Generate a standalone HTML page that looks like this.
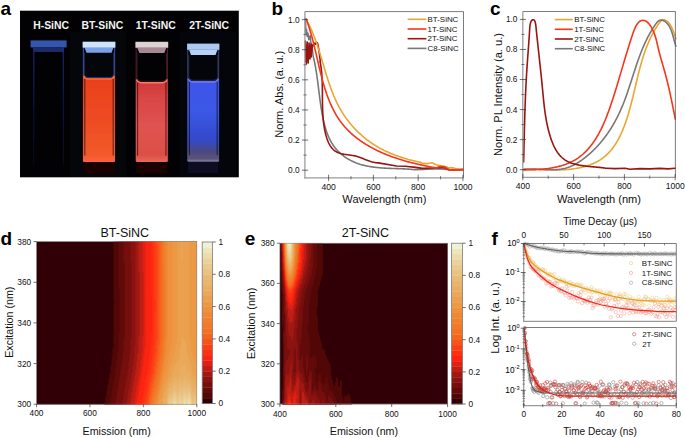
<!DOCTYPE html>
<html><head><meta charset="utf-8"><style>
html,body{margin:0;padding:0;background:#fff;}
svg{display:block;}
text{font-family:"Liberation Sans", sans-serif;}
</style></head><body>
<svg width="685" height="438" viewBox="0 0 685 438">
<rect width="685" height="438" fill="#fff"/>
<text x="0.50" y="15.30" font-size="19" font-weight="bold" fill="#000">a</text>
<text x="271.50" y="15.30" font-size="19" font-weight="bold" fill="#000">b</text>
<text x="490.00" y="15.30" font-size="19" font-weight="bold" fill="#000">c</text>
<text x="0.50" y="244.60" font-size="19" font-weight="bold" fill="#000">d</text>
<text x="244.80" y="244.60" font-size="19" font-weight="bold" fill="#000">e</text>
<text x="491.50" y="245.20" font-size="19" font-weight="bold" fill="#000">f</text>
<defs><linearGradient id="bt" x1="0" y1="0" x2="0" y2="1"><stop offset="0" stop-color="#e8401c"/><stop offset="0.5" stop-color="#ee4a22"/><stop offset="0.92" stop-color="#f25a2a"/><stop offset="1" stop-color="#ff6040"/></linearGradient><linearGradient id="t1" x1="0" y1="0" x2="0" y2="1"><stop offset="0" stop-color="#cc3434"/><stop offset="0.2" stop-color="#d84444"/><stop offset="0.55" stop-color="#e05252"/><stop offset="0.92" stop-color="#dc5048"/><stop offset="1" stop-color="#e86858"/></linearGradient><linearGradient id="t2" x1="0" y1="0" x2="0" y2="1"><stop offset="0" stop-color="#3e56ea"/><stop offset="0.4" stop-color="#3a58e6"/><stop offset="0.75" stop-color="#3448c8"/><stop offset="0.88" stop-color="#4a4880"/><stop offset="0.97" stop-color="#5a5478"/><stop offset="1" stop-color="#8a88a8"/></linearGradient><filter id="blur1" x="-20%" y="-20%" width="140%" height="140%"><feGaussianBlur stdDeviation="0.6"/></filter><filter id="glow" x="-50%" y="-50%" width="200%" height="200%"><feGaussianBlur stdDeviation="2.5"/></filter></defs>
<rect x="20" y="10.7" width="218.8" height="166.6" fill="#020204"/>
<rect x="70" y="32" width="56" height="145" fill="#05070c" opacity="0.8"/>
<rect x="180" y="32" width="56" height="145" fill="#05070e" opacity="0.7"/>
<g filter="url(#blur1)">
<rect x="30.6" y="40.4" width="36" height="7" fill="#3556b0"/>
<path d="M33,47.2 L64.5,47.2 L63,52 L34.5,52 Z" fill="#1a2a68"/>
<defs><linearGradient id="hw" x1="0" y1="0" x2="0" y2="1"><stop offset="0" stop-color="#22349a"/><stop offset="0.5" stop-color="#101a50"/><stop offset="1" stop-color="#080c20"/></linearGradient></defs>
<rect x="33.4" y="47" width="0.9" height="118" fill="url(#hw)"/><rect x="62.8" y="47" width="0.9" height="118" fill="url(#hw)"/>
<rect x="83.30" y="47.60" width="31.40" height="114.00" fill="none" stroke="#5060d0" stroke-width="0.8"/>
<path d="M84.50,47.60 L113.50,47.60 L111.50,52.80 L86.50,52.80 Z" fill="#7aa0e8"/>
<path d="M83.00,75.00 Q84.00,78.30 88.00,78.30 L110.00,78.30 Q114.00,78.30 115.00,75.00 L115.00,160.60 Q115.00,161.90 113.50,161.90 L84.50,161.90 Q83.00,161.90 83.00,160.60 Z" fill="url(#bt)"/>
<path d="M83.80,75.80 Q84.80,79.10 88.50,79.10 L109.50,79.10 Q113.20,79.10 114.20,75.80" fill="none" stroke="#ff6a3a" stroke-width="1.5"/>
<path d="M84.20,52.60 L84.20,74.00 Q84.50,77.50 88.00,77.50 L110.00,77.50 Q113.50,77.50 113.80,74.00 L113.80,52.60" fill="none" stroke="#3850b0" stroke-width="0.6"/>
<rect x="84.40" y="79.00" width="0.9" height="76.60" fill="#000" opacity="0.7"/>
<rect x="112.70" y="79.00" width="0.9" height="76.60" fill="#000" opacity="0.7"/>
<rect x="83.50" y="162.60" width="31.00" height="11" fill="#1e0604"/>
<rect x="82.60" y="41.70" width="32.80" height="5.90" fill="#cce4ff"/>
<rect x="136.10" y="47.70" width="31.40" height="113.90" fill="none" stroke="#6a2428" stroke-width="0.8"/>
<path d="M137.30,47.70 L166.30,47.70 L164.30,52.90 L139.30,52.90 Z" fill="#a88890"/>
<path d="M135.80,78.60 Q136.80,81.90 140.80,81.90 L162.80,81.90 Q166.80,81.90 167.80,78.60 L167.80,160.60 Q167.80,161.90 166.30,161.90 L137.30,161.90 Q135.80,161.90 135.80,160.60 Z" fill="url(#t1)"/>
<path d="M136.60,79.40 Q137.60,82.70 141.30,82.70 L162.30,82.70 Q166.00,82.70 167.00,79.40" fill="none" stroke="#ff7a6a" stroke-width="1.5"/>
<path d="M137.00,52.70 L137.00,77.60 Q137.30,81.10 140.80,81.10 L162.80,81.10 Q166.30,81.10 166.60,77.60 L166.60,52.70" fill="none" stroke="#5a2a38" stroke-width="0.6"/>
<rect x="137.20" y="82.60" width="0.9" height="73.00" fill="#000" opacity="0.7"/>
<rect x="165.50" y="82.60" width="0.9" height="73.00" fill="#000" opacity="0.7"/>
<rect x="136.30" y="162.60" width="31.00" height="11" fill="#1a0606"/>
<rect x="135.40" y="41.80" width="32.80" height="5.90" fill="#dcd2d4"/>
<rect x="187.80" y="49.80" width="30.90" height="111.40" fill="none" stroke="#484e80" stroke-width="0.8"/>
<path d="M189.00,49.80 L217.50,49.80 L215.50,55.00 L191.00,55.00 Z" fill="#b8d0f4"/>
<path d="M187.50,77.80 Q188.50,81.10 192.50,81.10 L214.00,81.10 Q218.00,81.10 219.00,77.80 L219.00,160.20 Q219.00,161.50 217.50,161.50 L189.00,161.50 Q187.50,161.50 187.50,160.20 Z" fill="url(#t2)"/>
<path d="M188.30,78.60 Q189.30,81.90 193.00,81.90 L213.50,81.90 Q217.20,81.90 218.20,78.60" fill="none" stroke="#7078ff" stroke-width="1.5"/>
<path d="M188.70,54.80 L188.70,76.80 Q189.00,80.30 192.50,80.30 L214.00,80.30 Q217.50,80.30 217.80,76.80 L217.80,54.80" fill="none" stroke="#404868" stroke-width="0.6"/>
<rect x="188.90" y="81.80" width="0.9" height="73.40" fill="#000" opacity="0.7"/>
<rect x="216.70" y="81.80" width="0.9" height="73.40" fill="#000" opacity="0.7"/>
<rect x="188.00" y="162.20" width="30.50" height="11" fill="#0c0c24"/>
<rect x="187.10" y="43.60" width="32.30" height="6.20" fill="#aacaf2"/>
</g>
<text x="33.20" y="28.50" font-size="10.4" font-weight="bold" fill="#f4f4f4">H-SiNC</text>
<text x="81.60" y="28.50" font-size="10.4" font-weight="bold" fill="#f4f4f4">BT-SiNC</text>
<text x="135.80" y="28.50" font-size="10.4" font-weight="bold" fill="#f4f4f4">1T-SiNC</text>
<text x="189.20" y="28.50" font-size="10.4" font-weight="bold" fill="#f4f4f4">2T-SiNC</text>
<path d="M305.20,18.20 L305.60,24.00 L305.70,34.00 L306.40,29.00 L307.20,36.50 L307.80,33.00 L308.40,35.90 L308.80,39.60 L309.50,36.80 L310.20,35.90 L310.70,41.40 L312.00,46.90 L313.00,55.00 L312.89,55.02 L313.09,55.82 L313.29,56.61 L313.48,57.40 L313.66,58.20 L313.84,58.99 L314.02,59.78 L314.20,60.57 L314.36,61.36 L314.53,62.15 L314.69,62.94 L314.85,63.73 L315.00,64.52 L315.16,65.30 L315.30,66.09 L315.45,66.88 L315.59,67.66 L315.73,68.45 L315.86,69.24 L315.99,70.02 L316.12,70.81 L316.25,71.59 L316.38,72.38 L316.50,73.16 L316.62,73.94 L316.74,74.73 L316.85,75.51 L316.97,76.30 L317.08,77.08 L317.19,77.87 L317.30,78.65 L317.40,79.44 L317.51,80.22 L317.61,81.00 L317.72,81.79 L317.82,82.58 L317.92,83.36 L318.02,84.15 L318.12,84.93 L318.22,85.72 L318.32,86.51 L318.42,87.30 L318.51,88.08 L318.61,88.87 L318.71,89.66 L318.81,90.45 L318.90,91.24 L319.00,92.03 L319.10,92.82 L319.20,93.62 L319.30,94.41 L319.40,95.20 L319.50,96.00 L319.60,96.79 L319.70,97.59 L319.81,98.39 L319.91,99.19 L320.02,99.99 L320.13,100.79 L320.23,101.59 L320.35,102.39 L320.46,103.19 L320.57,104.00 L320.69,104.80 L320.81,105.61 L320.93,106.42 L321.05,107.23 L321.18,108.04 L321.30,108.85 L321.43,109.67 L321.57,110.48 L321.70,111.30 L321.84,112.12 L321.99,112.93 L322.13,113.75 L322.28,114.57 L322.43,115.39 L322.59,116.21 L322.75,117.03 L322.92,117.85 L323.09,118.66 L323.26,119.48 L323.44,120.29 L323.62,121.11 L323.81,121.92 L324.01,122.73 L324.21,123.54 L324.41,124.34 L324.62,125.15 L324.84,125.95 L325.06,126.75 L325.29,127.54 L325.53,128.33 L325.77,129.12 L326.02,129.90 L326.27,130.68 L326.54,131.45 L326.81,132.23 L327.08,132.99 L327.37,133.75 L327.66,134.51 L327.96,135.26 L328.27,136.00 L328.59,136.74 L328.91,137.47 L329.25,138.20 L329.59,138.92 L329.94,139.63 L330.30,140.34 L330.67,141.03 L331.05,141.73 L331.44,142.41 L331.84,143.09 L332.25,143.75 L332.67,144.41 L333.09,145.06 L333.53,145.71 L333.98,146.34 L334.44,146.96 L334.91,147.58 L335.40,148.18 L335.89,148.78 L336.39,149.37 L336.90,149.94 L337.42,150.51 L337.96,151.07 L338.50,151.62 L339.05,152.16 L339.61,152.69 L340.18,153.21 L340.76,153.73 L341.34,154.23 L341.94,154.72 L342.54,155.21 L343.15,155.68 L343.77,156.15 L344.40,156.60 L345.04,157.05 L345.68,157.49 L346.34,157.91 L346.99,158.33 L347.66,158.74 L348.33,159.14 L349.01,159.53 L349.70,159.91 L350.39,160.28 L351.09,160.64 L351.80,160.99 L352.51,161.33 L353.23,161.66 L353.96,161.99 L354.69,162.30 L355.42,162.60 L356.16,162.90 L356.91,163.18 L357.66,163.45 L358.41,163.72 L359.17,163.97 L359.94,164.22 L360.71,164.45 L361.48,164.68 L362.26,164.90 L363.04,165.11 L363.83,165.31 L364.62,165.50 L365.41,165.68 L366.20,165.85 L367.00,166.02 L367.81,166.18 L368.61,166.33 L369.42,166.48 L370.23,166.61 L371.04,166.75 L371.86,166.87 L372.68,166.99 L373.50,167.10 L374.32,167.21 L375.14,167.31 L375.97,167.40 L376.80,167.49 L377.62,167.57 L378.45,167.65 L379.28,167.73 L380.11,167.80 L380.95,167.87 L381.78,167.93 L382.61,167.99 L383.45,168.04 L384.28,168.09 L385.11,168.14 L385.95,168.19 L386.78,168.23 L387.61,168.27 L388.45,168.31 L389.28,168.34 L390.11,168.38 L390.94,168.41 L391.77,168.44 L392.60,168.47 L393.42,168.50 L394.25,168.53 L395.07,168.55 L395.89,168.58 L396.71,168.61 L397.53,168.63 L398.35,168.66 L399.16,168.69 L399.97,168.72 L400.78,168.74 L401.58,168.77 L402.38,168.81 L403.18,168.84 L403.98,168.87 L404.77,168.91 L405.56,168.95 L406.34,168.99 L407.12,169.03 L407.90,169.08 L408.67,169.13 L409.44,169.18 L410.20,169.24 L410.96,169.30 L411.72,169.36 L412.47,169.43 L413.21,169.50 L413.95,169.58 L414.68,169.66 L414.80,169.60 L422.50,169.40 L440.00,168.80 L448.80,169.70 L462.80,169.70" fill="none" stroke="#787878" stroke-width="1.6" stroke-linejoin="round" stroke-linecap="round"/>
<path d="M305.40,41.00 L305.80,62.00 L306.10,45.00 L306.40,64.00 L306.70,48.00 L307.00,58.00 L307.30,42.00 L307.60,60.00 L307.90,47.00 L308.20,63.00 L308.50,50.00 L308.80,56.00 L309.10,43.00 L309.40,58.00 L309.70,46.00 L310.00,59.00 L310.30,49.00 L310.60,55.00 L310.90,44.00 L311.20,57.00 L311.50,48.00 L311.80,52.00 L312.10,45.00 L312.50,47.00 L313.20,45.00 L314.00,44.00 L314.80,43.10 L315.70,44.10 L316.60,42.30 L317.50,43.10 L318.20,46.00 L319.00,51.00 L320.30,61.40 L320.04,61.55 L320.20,62.32 L320.34,63.09 L320.49,63.87 L320.62,64.64 L320.75,65.42 L320.87,66.20 L320.99,66.98 L321.10,67.77 L321.20,68.55 L321.30,69.34 L321.39,70.13 L321.48,70.92 L321.56,71.71 L321.64,72.50 L321.71,73.30 L321.78,74.09 L321.84,74.89 L321.90,75.69 L321.95,76.49 L322.00,77.29 L322.05,78.09 L322.09,78.90 L322.13,79.70 L322.16,80.51 L322.19,81.32 L322.22,82.12 L322.25,82.93 L322.27,83.74 L322.29,84.55 L322.31,85.36 L322.33,86.18 L322.34,86.99 L322.36,87.80 L322.37,88.61 L322.38,89.43 L322.39,90.24 L322.39,91.06 L322.40,91.87 L322.41,92.69 L322.41,93.51 L322.41,94.32 L322.42,95.14 L322.42,95.96 L322.43,96.78 L322.43,97.59 L322.43,98.41 L322.44,99.23 L322.44,100.04 L322.45,100.86 L322.46,101.68 L322.47,102.50 L322.48,103.31 L322.49,104.13 L322.50,104.95 L322.52,105.76 L322.54,106.58 L322.56,107.39 L322.58,108.21 L322.60,109.02 L322.63,109.84 L322.66,110.65 L322.69,111.46 L322.73,112.27 L322.77,113.08 L322.82,113.89 L322.86,114.70 L322.91,115.51 L322.97,116.32 L323.03,117.12 L323.09,117.93 L323.16,118.73 L323.24,119.54 L323.32,120.34 L323.40,121.14 L323.49,121.94 L323.58,122.74 L323.68,123.54 L323.79,124.33 L323.90,125.13 L324.02,125.92 L324.15,126.71 L324.28,127.50 L324.42,128.29 L324.56,129.07 L324.71,129.86 L324.87,130.64 L325.04,131.42 L325.21,132.20 L325.39,132.98 L325.58,133.76 L325.78,134.53 L325.98,135.30 L326.20,136.07 L326.42,136.84 L326.65,137.60 L326.90,138.36 L327.15,139.11 L327.42,139.86 L327.69,140.60 L327.99,141.33 L328.29,142.04 L328.61,142.75 L328.95,143.45 L329.30,144.13 L329.67,144.80 L330.05,145.46 L330.46,146.10 L330.88,146.72 L331.33,147.32 L331.79,147.91 L332.28,148.47 L332.78,149.02 L333.31,149.54 L333.86,150.04 L334.44,150.52 L335.04,150.97 L335.67,151.39 L336.32,151.79 L337.00,152.16 L337.71,152.50 L338.45,152.81 L339.21,153.09 L340.00,153.35 L340.81,153.58 L341.65,153.79 L342.50,153.97 L343.36,154.14 L344.24,154.30 L345.13,154.44 L346.02,154.57 L346.93,154.70 L347.83,154.82 L348.73,154.93 L349.63,155.05 L350.52,155.17 L351.41,155.29 L352.29,155.43 L353.15,155.57 L354.00,155.72 L354.82,155.89 L355.63,156.07 L356.42,156.28 L357.19,156.49 L357.95,156.72 L358.69,156.96 L359.42,157.21 L360.14,157.47 L360.85,157.74 L361.55,158.01 L362.24,158.29 L362.93,158.57 L363.62,158.86 L364.31,159.14 L364.99,159.43 L365.68,159.71 L366.37,159.99 L367.07,160.27 L367.77,160.54 L368.49,160.80 L369.21,161.05 L369.94,161.30 L370.69,161.53 L371.45,161.76 L372.23,161.96 L373.03,162.16 L373.85,162.33 L374.69,162.49 L375.55,162.63 L376.43,162.75 L377.35,162.84 L378.29,162.92 L378.30,162.90 L396.50,166.00 L405.00,166.20 L413.80,167.10 L422.50,168.40 L431.30,168.00 L440.00,167.50 L445.30,168.00 L448.80,169.70 L462.80,169.70" fill="none" stroke="#9a1410" stroke-width="1.6" stroke-linejoin="round" stroke-linecap="round"/>
<path d="M305.93,18.90 L306.31,19.58 L306.70,20.26 L307.07,20.95 L307.45,21.64 L307.81,22.33 L308.18,23.03 L308.53,23.73 L308.89,24.43 L309.24,25.14 L309.58,25.85 L309.92,26.56 L310.26,27.27 L310.59,27.99 L310.91,28.71 L311.24,29.43 L311.56,30.16 L311.87,30.89 L312.18,31.61 L312.49,32.35 L312.80,33.08 L313.10,33.82 L313.39,34.56 L313.69,35.30 L313.98,36.04 L314.27,36.79 L314.55,37.54 L314.83,38.29 L315.11,39.04 L315.39,39.79 L315.66,40.54 L315.93,41.30 L316.20,42.06 L316.46,42.82 L316.73,43.58 L316.99,44.34 L317.25,45.11 L317.50,45.87 L317.76,46.64 L318.01,47.41 L318.26,48.18 L318.51,48.95 L318.76,49.72 L319.00,50.50 L319.25,51.27 L319.49,52.05 L319.73,52.82 L319.97,53.60 L320.21,54.38 L320.45,55.16 L320.69,55.93 L320.92,56.71 L321.16,57.50 L321.39,58.28 L321.63,59.06 L321.86,59.84 L322.09,60.62 L322.33,61.40 L322.56,62.19 L322.79,62.97 L323.02,63.75 L323.26,64.54 L323.49,65.32 L323.72,66.10 L323.96,66.89 L324.19,67.67 L324.42,68.45 L324.66,69.23 L324.89,70.02 L325.13,70.80 L325.36,71.58 L325.60,72.36 L325.84,73.14 L326.08,73.92 L326.32,74.70 L326.56,75.48 L326.81,76.26 L327.05,77.03 L327.30,77.81 L327.54,78.59 L327.79,79.36 L328.04,80.13 L328.30,80.91 L328.55,81.68 L328.81,82.45 L329.07,83.22 L329.33,83.98 L329.59,84.75 L329.86,85.52 L330.13,86.28 L330.40,87.04 L330.67,87.80 L330.95,88.56 L331.23,89.32 L331.51,90.07 L331.80,90.83 L332.08,91.58 L332.38,92.33 L332.67,93.08 L332.97,93.82 L333.27,94.57 L333.58,95.31 L333.88,96.05 L334.20,96.78 L334.51,97.52 L334.83,98.25 L335.16,98.98 L335.49,99.71 L335.82,100.44 L336.15,101.16 L336.49,101.88 L336.84,102.60 L337.19,103.31 L337.54,104.02 L337.90,104.73 L338.27,105.44 L338.64,106.14 L339.01,106.84 L339.39,107.54 L339.77,108.24 L340.16,108.93 L340.55,109.62 L340.95,110.30 L341.36,110.98 L341.77,111.66 L342.18,112.34 L342.60,113.01 L343.03,113.68 L343.46,114.34 L343.90,115.00 L344.34,115.66 L344.78,116.32 L345.23,116.97 L345.69,117.61 L346.15,118.26 L346.61,118.90 L347.08,119.54 L347.56,120.17 L348.04,120.80 L348.52,121.42 L349.01,122.05 L349.51,122.66 L350.01,123.28 L350.51,123.89 L351.02,124.50 L351.54,125.10 L352.05,125.70 L352.58,126.29 L353.10,126.88 L353.64,127.47 L354.17,128.05 L354.71,128.63 L355.26,129.21 L355.81,129.78 L356.37,130.34 L356.92,130.91 L357.49,131.46 L358.06,132.02 L358.63,132.57 L359.21,133.11 L359.79,133.65 L360.37,134.19 L360.96,134.72 L361.56,135.25 L362.15,135.77 L362.76,136.29 L363.36,136.81 L363.97,137.32 L364.59,137.82 L365.21,138.32 L365.83,138.82 L366.46,139.31 L367.09,139.80 L367.72,140.28 L368.36,140.76 L369.00,141.23 L369.65,141.70 L370.30,142.16 L370.96,142.62 L371.62,143.07 L372.28,143.52 L372.94,143.96 L373.61,144.40 L374.29,144.84 L374.97,145.26 L375.65,145.69 L376.33,146.11 L377.02,146.52 L377.71,146.93 L378.41,147.33 L379.11,147.73 L379.81,148.12 L380.52,148.51 L381.23,148.89 L381.94,149.27 L382.66,149.64 L383.38,150.00 L384.10,150.37 L384.83,150.72 L385.56,151.07 L386.29,151.42 L387.03,151.76 L387.76,152.10 L388.50,152.43 L389.25,152.76 L389.99,153.08 L390.74,153.40 L391.49,153.71 L392.25,154.02 L393.00,154.32 L393.76,154.62 L394.52,154.92 L395.28,155.21 L396.05,155.49 L396.81,155.77 L397.58,156.05 L398.35,156.32 L399.12,156.59 L399.89,156.85 L400.67,157.11 L401.45,157.37 L402.22,157.62 L403.00,157.86 L403.78,158.11 L404.56,158.34 L405.35,158.58 L406.13,158.81 L406.92,159.03 L407.70,159.26 L408.49,159.47 L409.28,159.69 L410.06,159.90 L410.85,160.10 L411.64,160.31 L412.43,160.51 L413.22,160.70 L414.01,160.89 L414.80,161.08 L415.59,161.26 L416.39,161.44 L417.18,161.62 L417.97,161.79 L418.76,161.96 L419.55,162.13 L420.34,162.29 L421.13,162.45 L420.80,163.10 L426.90,163.60 L429.00,163.20 L432.10,162.80 L435.00,164.20 L438.30,165.30 L441.00,165.80 L444.40,166.20 L446.00,166.80 L448.80,168.00 L451.00,167.60 L454.00,168.00 L456.00,168.90 L457.50,168.80 L460.00,169.20 L462.80,169.40" fill="none" stroke="#eaa630" stroke-width="1.6" stroke-linejoin="round" stroke-linecap="round"/>
<path d="M306.00,18.90 L306.28,19.62 L306.56,20.35 L306.84,21.08 L307.12,21.81 L307.39,22.54 L307.65,23.27 L307.91,24.01 L308.17,24.75 L308.43,25.48 L308.68,26.23 L308.93,26.97 L309.17,27.71 L309.41,28.46 L309.65,29.21 L309.89,29.96 L310.12,30.71 L310.35,31.46 L310.58,32.22 L310.80,32.98 L311.02,33.73 L311.24,34.49 L311.46,35.26 L311.67,36.02 L311.88,36.78 L312.09,37.55 L312.30,38.31 L312.50,39.08 L312.70,39.85 L312.90,40.62 L313.10,41.39 L313.30,42.17 L313.50,42.94 L313.69,43.72 L313.88,44.49 L314.08,45.27 L314.27,46.05 L314.45,46.83 L314.64,47.61 L314.83,48.39 L315.01,49.17 L315.20,49.96 L315.38,50.74 L315.57,51.53 L315.75,52.31 L315.93,53.10 L316.11,53.89 L316.30,54.68 L316.48,55.46 L316.66,56.25 L316.84,57.04 L317.02,57.83 L317.20,58.63 L317.38,59.42 L317.56,60.21 L317.74,61.00 L317.93,61.80 L318.11,62.59 L318.29,63.38 L318.48,64.18 L318.66,64.97 L318.85,65.77 L319.03,66.56 L319.22,67.36 L319.41,68.15 L319.60,68.95 L319.79,69.74 L319.98,70.54 L320.17,71.34 L320.37,72.13 L320.57,72.93 L320.76,73.72 L320.96,74.52 L321.17,75.31 L321.37,76.11 L321.58,76.91 L321.79,77.70 L322.00,78.49 L322.21,79.29 L322.42,80.08 L322.64,80.87 L322.86,81.67 L323.08,82.46 L323.31,83.25 L323.53,84.04 L323.76,84.83 L323.99,85.61 L324.23,86.40 L324.47,87.18 L324.71,87.97 L324.95,88.75 L325.20,89.53 L325.45,90.31 L325.71,91.08 L325.96,91.86 L326.22,92.63 L326.49,93.40 L326.75,94.17 L327.03,94.94 L327.30,95.70 L327.58,96.47 L327.86,97.23 L328.15,97.98 L328.44,98.74 L328.73,99.49 L329.03,100.24 L329.33,100.99 L329.64,101.73 L329.95,102.48 L330.26,103.21 L330.58,103.95 L330.91,104.68 L331.24,105.41 L331.57,106.14 L331.91,106.86 L332.25,107.58 L332.60,108.30 L332.95,109.01 L333.31,109.72 L333.67,110.42 L334.04,111.12 L334.41,111.82 L334.79,112.51 L335.17,113.20 L335.56,113.89 L335.96,114.57 L336.36,115.24 L336.76,115.92 L337.17,116.58 L337.59,117.25 L338.01,117.90 L338.44,118.56 L338.88,119.21 L339.32,119.85 L339.76,120.49 L340.22,121.12 L340.68,121.75 L341.14,122.37 L341.61,122.99 L342.09,123.61 L342.58,124.21 L343.07,124.82 L343.56,125.41 L344.07,126.01 L344.57,126.60 L345.09,127.18 L345.61,127.76 L346.13,128.33 L346.66,128.90 L347.20,129.46 L347.74,130.02 L348.29,130.57 L348.84,131.12 L349.40,131.66 L349.97,132.20 L350.53,132.73 L351.11,133.26 L351.69,133.79 L352.27,134.30 L352.86,134.82 L353.46,135.33 L354.05,135.83 L354.66,136.33 L355.27,136.83 L355.88,137.32 L356.50,137.81 L357.12,138.29 L357.75,138.77 L358.38,139.24 L359.01,139.71 L359.65,140.17 L360.30,140.63 L360.95,141.08 L361.60,141.53 L362.26,141.98 L362.92,142.42 L363.58,142.86 L364.25,143.29 L364.92,143.72 L365.60,144.14 L366.28,144.56 L366.96,144.98 L367.65,145.39 L368.34,145.80 L369.03,146.20 L369.73,146.60 L370.43,146.99 L371.13,147.38 L371.84,147.77 L372.55,148.15 L373.26,148.53 L373.98,148.90 L374.70,149.27 L375.42,149.64 L376.14,150.00 L376.87,150.36 L377.60,150.71 L378.33,151.06 L379.07,151.41 L379.81,151.75 L380.55,152.09 L381.29,152.42 L382.04,152.75 L382.78,153.08 L383.53,153.40 L384.28,153.72 L385.04,154.04 L385.79,154.35 L386.55,154.66 L387.31,154.96 L388.07,155.26 L388.84,155.56 L389.60,155.85 L390.37,156.14 L391.14,156.43 L391.91,156.71 L392.68,156.99 L393.45,157.26 L394.22,157.54 L395.00,157.80 L395.78,158.07 L396.55,158.33 L397.33,158.59 L398.11,158.84 L398.89,159.10 L399.68,159.34 L400.46,159.59 L401.24,159.83 L402.03,160.07 L402.81,160.30 L403.60,160.53 L404.38,160.76 L405.17,160.99 L405.96,161.21 L406.74,161.43 L407.53,161.64 L408.32,161.86 L409.11,162.07 L409.89,162.27 L410.68,162.48 L411.47,162.68 L412.26,162.88 L413.05,163.07 L413.83,163.26 L414.62,163.45 L415.41,163.64 L416.19,163.83 L416.98,164.01 L417.76,164.19 L418.55,164.37 L419.33,164.54 L420.12,164.71 L420.90,164.88 L421.68,165.05 L422.46,165.22 L423.24,165.38 L424.02,165.54 L424.80,165.70 L425.58,165.86 L426.35,166.01 L427.12,166.17 L427.90,166.32 L428.67,166.47 L429.44,166.62 L430.21,166.76 L430.97,166.91 L431.74,167.05 L432.50,167.19 L433.26,167.33 L434.02,167.47 L434.78,167.60 L435.53,167.74 L435.60,168.00 L440.00,166.60 L444.40,166.80 L448.80,169.50 L454.00,170.00 L462.80,169.40" fill="none" stroke="#f5361a" stroke-width="1.6" stroke-linejoin="round" stroke-linecap="round"/>
<line x1="304.90" y1="11.60" x2="463.50" y2="11.60" stroke="#5a5a5a" stroke-width="0.8"/>
<line x1="463.50" y1="11.60" x2="463.50" y2="177.90" stroke="#5a5a5a" stroke-width="0.8"/>
<line x1="304.90" y1="11.60" x2="304.90" y2="178.50" stroke="#9a9a9a" stroke-width="1.25"/>
<line x1="304.30" y1="177.90" x2="463.50" y2="177.90" stroke="#9a9a9a" stroke-width="1.25"/>
<line x1="301.90" y1="170.20" x2="308.10" y2="170.20" stroke="#333" stroke-width="0.7"/>
<text x="299.60" y="173.15" font-size="8.3" text-anchor="end" fill="#111">0.0</text>
<line x1="301.90" y1="140.08" x2="308.10" y2="140.08" stroke="#333" stroke-width="0.7"/>
<text x="299.60" y="143.03" font-size="8.3" text-anchor="end" fill="#111">0.2</text>
<line x1="301.90" y1="109.96" x2="308.10" y2="109.96" stroke="#333" stroke-width="0.7"/>
<text x="299.60" y="112.91" font-size="8.3" text-anchor="end" fill="#111">0.4</text>
<line x1="301.90" y1="79.84" x2="308.10" y2="79.84" stroke="#333" stroke-width="0.7"/>
<text x="299.60" y="82.79" font-size="8.3" text-anchor="end" fill="#111">0.6</text>
<line x1="301.90" y1="49.72" x2="308.10" y2="49.72" stroke="#333" stroke-width="0.7"/>
<text x="299.60" y="52.67" font-size="8.3" text-anchor="end" fill="#111">0.8</text>
<line x1="301.90" y1="19.60" x2="308.10" y2="19.60" stroke="#333" stroke-width="0.7"/>
<text x="299.60" y="22.55" font-size="8.3" text-anchor="end" fill="#111">1.0</text>
<line x1="303.40" y1="155.14" x2="306.70" y2="155.14" stroke="#333" stroke-width="0.6"/>
<line x1="303.40" y1="125.02" x2="306.70" y2="125.02" stroke="#333" stroke-width="0.6"/>
<line x1="303.40" y1="94.90" x2="306.70" y2="94.90" stroke="#333" stroke-width="0.6"/>
<line x1="303.40" y1="64.78" x2="306.70" y2="64.78" stroke="#333" stroke-width="0.6"/>
<line x1="303.40" y1="34.66" x2="306.70" y2="34.66" stroke="#333" stroke-width="0.6"/>
<line x1="328.60" y1="174.70" x2="328.60" y2="180.90" stroke="#333" stroke-width="0.7"/>
<text x="328.60" y="190.20" font-size="8.6" text-anchor="middle" fill="#111">400</text>
<line x1="373.38" y1="174.70" x2="373.38" y2="180.90" stroke="#333" stroke-width="0.7"/>
<text x="373.38" y="190.20" font-size="8.6" text-anchor="middle" fill="#111">600</text>
<line x1="418.16" y1="174.70" x2="418.16" y2="180.90" stroke="#333" stroke-width="0.7"/>
<text x="418.16" y="190.20" font-size="8.6" text-anchor="middle" fill="#111">800</text>
<line x1="462.94" y1="174.70" x2="462.94" y2="180.90" stroke="#333" stroke-width="0.7"/>
<text x="462.94" y="190.20" font-size="8.6" text-anchor="middle" fill="#111">1000</text>
<line x1="350.99" y1="176.10" x2="350.99" y2="179.40" stroke="#333" stroke-width="0.6"/>
<line x1="395.77" y1="176.10" x2="395.77" y2="179.40" stroke="#333" stroke-width="0.6"/>
<line x1="440.55" y1="176.10" x2="440.55" y2="179.40" stroke="#333" stroke-width="0.6"/>
<text x="384.40" y="202.80" font-size="11.1" text-anchor="middle" fill="#111">Wavelength (nm)</text>
<text x="283.40" y="94.30" font-size="11.1" text-anchor="middle" fill="#111" transform="rotate(-90 283.40 94.30)">Norm. Abs. (a. u.)</text>
<line x1="407.60" y1="19.30" x2="426.40" y2="19.30" stroke="#eaa630" stroke-width="1.6"/>
<text x="427.60" y="22.05" font-size="7.9" fill="#111">BT-SiNC</text>
<line x1="407.60" y1="29.00" x2="426.40" y2="29.00" stroke="#f5361a" stroke-width="1.6"/>
<text x="427.60" y="31.75" font-size="7.9" fill="#111">1T-SiNC</text>
<line x1="407.60" y1="38.70" x2="426.40" y2="38.70" stroke="#9a1410" stroke-width="1.6"/>
<text x="427.60" y="41.45" font-size="7.9" fill="#111">2T-SiNC</text>
<line x1="407.60" y1="48.40" x2="426.40" y2="48.40" stroke="#787878" stroke-width="1.6"/>
<text x="427.60" y="51.15" font-size="7.9" fill="#111">C8-SiNC</text>
<path d="M522.79,169.69 L523.62,169.64 L524.46,169.61 L525.29,169.57 L526.12,169.54 L526.95,169.52 L527.77,169.49 L528.60,169.48 L529.42,169.46 L530.24,169.45 L531.05,169.45 L531.87,169.44 L532.68,169.44 L533.49,169.45 L534.30,169.45 L535.11,169.46 L535.92,169.47 L536.72,169.48 L537.53,169.50 L538.33,169.51 L539.13,169.53 L539.93,169.55 L540.72,169.57 L541.52,169.59 L542.32,169.61 L543.11,169.63 L543.90,169.65 L544.70,169.67 L545.49,169.69 L546.28,169.72 L547.07,169.74 L547.86,169.76 L548.64,169.78 L549.43,169.80 L550.22,169.81 L551.00,169.83 L551.79,169.84 L552.58,169.86 L553.36,169.87 L554.15,169.87 L554.93,169.88 L555.71,169.88 L556.50,169.88 L557.28,169.88 L558.07,169.88 L558.85,169.87 L559.64,169.85 L560.42,169.84 L561.21,169.82 L561.99,169.79 L562.78,169.76 L563.56,169.73 L564.35,169.69 L565.14,169.65 L565.93,169.60 L566.71,169.55 L567.50,169.49 L568.29,169.43 L569.08,169.36 L569.88,169.28 L570.67,169.20 L571.46,169.11 L572.26,169.01 L573.05,168.91 L573.85,168.80 L574.65,168.68 L575.45,168.56 L576.25,168.43 L577.05,168.29 L577.86,168.14 L578.66,167.98 L579.47,167.82 L580.28,167.65 L581.08,167.46 L581.89,167.27 L582.70,167.08 L583.51,166.87 L584.31,166.65 L585.11,166.43 L585.92,166.19 L586.71,165.95 L587.51,165.70 L588.30,165.44 L589.09,165.17 L589.87,164.89 L590.65,164.60 L591.42,164.30 L592.19,163.99 L592.95,163.67 L593.70,163.34 L594.44,163.00 L595.18,162.65 L595.91,162.29 L596.63,161.92 L597.35,161.54 L598.05,161.15 L598.74,160.74 L599.42,160.33 L600.10,159.91 L600.76,159.48 L601.41,159.03 L602.05,158.58 L602.69,158.12 L603.31,157.65 L603.93,157.16 L604.53,156.67 L605.13,156.17 L605.71,155.66 L606.29,155.14 L606.86,154.62 L607.42,154.08 L607.97,153.53 L608.51,152.98 L609.04,152.42 L609.57,151.85 L610.09,151.27 L610.60,150.69 L611.10,150.10 L611.59,149.50 L612.07,148.89 L612.55,148.28 L613.02,147.66 L613.48,147.03 L613.94,146.39 L614.39,145.75 L614.83,145.10 L615.26,144.45 L615.69,143.79 L616.11,143.13 L616.52,142.45 L616.92,141.78 L617.32,141.09 L617.72,140.41 L618.10,139.71 L618.48,139.02 L618.86,138.31 L619.23,137.61 L619.59,136.89 L619.95,136.18 L620.30,135.46 L620.64,134.73 L620.98,134.00 L621.32,133.27 L621.65,132.54 L621.97,131.80 L622.29,131.05 L622.61,130.31 L622.92,129.56 L623.22,128.81 L623.52,128.05 L623.82,127.29 L624.11,126.53 L624.40,125.77 L624.68,125.01 L624.96,124.24 L625.23,123.48 L625.50,122.71 L625.77,121.94 L626.04,121.16 L626.30,120.39 L626.55,119.62 L626.81,118.84 L627.06,118.06 L627.31,117.29 L627.55,116.51 L627.79,115.73 L628.03,114.95 L628.27,114.17 L628.50,113.39 L628.73,112.61 L628.96,111.82 L629.18,111.04 L629.41,110.26 L629.63,109.47 L629.85,108.69 L630.06,107.90 L630.28,107.11 L630.49,106.33 L630.70,105.54 L630.91,104.75 L631.11,103.96 L631.32,103.18 L631.52,102.39 L631.72,101.60 L631.92,100.81 L632.12,100.02 L632.32,99.23 L632.51,98.44 L632.71,97.65 L632.90,96.86 L633.09,96.07 L633.28,95.28 L633.47,94.49 L633.66,93.70 L633.85,92.91 L634.04,92.12 L634.23,91.33 L634.41,90.54 L634.60,89.75 L634.79,88.96 L634.97,88.17 L635.16,87.38 L635.35,86.59 L635.53,85.80 L635.72,85.01 L635.90,84.22 L636.09,83.44 L636.27,82.65 L636.46,81.86 L636.65,81.07 L636.84,80.29 L637.02,79.50 L637.21,78.72 L637.40,77.93 L637.59,77.15 L637.78,76.37 L637.98,75.58 L638.17,74.80 L638.36,74.02 L638.56,73.24 L638.76,72.46 L638.95,71.68 L639.15,70.91 L639.35,70.13 L639.56,69.35 L639.76,68.58 L639.97,67.80 L640.17,67.03 L640.38,66.26 L640.60,65.49 L640.81,64.72 L641.02,63.95 L641.24,63.18 L641.46,62.42 L641.69,61.65 L641.91,60.89 L642.14,60.12 L642.37,59.36 L642.60,58.60 L642.84,57.84 L643.07,57.09 L643.32,56.33 L643.56,55.58 L643.81,54.82 L644.06,54.07 L644.31,53.32 L644.57,52.57 L644.83,51.83 L645.09,51.08 L645.36,50.34 L645.63,49.59 L645.90,48.85 L646.18,48.12 L646.46,47.38 L646.75,46.64 L647.04,45.91 L647.33,45.18 L647.63,44.45 L647.93,43.72 L648.24,43.00 L648.55,42.27 L648.86,41.55 L649.18,40.83 L649.51,40.12 L649.84,39.40 L650.17,38.69 L650.51,37.98 L650.85,37.27 L651.20,36.56 L651.55,35.86 L651.91,35.16 L652.27,34.46 L652.64,33.76 L653.02,33.06 L653.40,32.37 L653.78,31.68 L654.17,30.99 L654.57,30.31 L654.97,29.62 L655.38,28.94 L655.79,28.27 L656.21,27.59 L656.64,26.92 L657.07,26.25 L657.51,25.58 L657.95,24.92 L658.41,24.25 L658.86,23.60 L659.33,22.94 L659.80,22.29 L660.28,21.67 L660.78,21.10 L661.30,20.59 L661.85,20.17 L662.43,19.87 L663.05,19.69 L663.70,19.67 L664.38,19.77 L665.08,20.01 L665.79,20.35 L666.50,20.79 L667.20,21.31 L667.87,21.91 L668.51,22.56 L669.11,23.26 L669.68,24.00 L670.21,24.77 L670.70,25.58 L671.17,26.41 L671.60,27.26 L672.01,28.12 L672.39,28.99 L672.75,29.86 L673.08,30.73 L673.40,31.60 L673.70,32.45 L673.98,33.28 L674.26,34.09 L674.52,34.87 L674.77,35.62 L675.01,36.33 L675.25,36.99 L675.49,37.60 L675.73,38.16 L675.96,38.66" fill="none" stroke="#eaa630" stroke-width="1.6" stroke-linejoin="round" stroke-linecap="round"/>
<path d="M522.83,169.65 L523.58,169.54 L524.33,169.44 L525.09,169.36 L525.85,169.28 L526.62,169.22 L527.40,169.17 L528.18,169.13 L528.96,169.10 L529.75,169.08 L530.55,169.07 L531.34,169.06 L532.14,169.06 L532.95,169.07 L533.76,169.08 L534.57,169.10 L535.38,169.13 L536.19,169.16 L537.01,169.19 L537.83,169.23 L538.66,169.26 L539.48,169.30 L540.31,169.35 L541.13,169.39 L541.96,169.43 L542.79,169.47 L543.62,169.52 L544.45,169.56 L545.28,169.60 L546.11,169.63 L546.94,169.66 L547.77,169.69 L548.60,169.72 L549.43,169.74 L550.26,169.75 L551.08,169.76 L551.91,169.76 L552.73,169.76 L553.55,169.74 L554.37,169.72 L555.19,169.69 L556.00,169.65 L556.81,169.60 L557.62,169.54 L558.43,169.46 L559.23,169.38 L560.02,169.28 L560.82,169.17 L561.61,169.05 L562.39,168.91 L563.17,168.76 L563.95,168.59 L564.72,168.41 L565.49,168.21 L566.25,167.99 L567.00,167.76 L567.75,167.52 L568.50,167.26 L569.24,166.98 L569.98,166.70 L570.71,166.40 L571.43,166.08 L572.15,165.75 L572.87,165.42 L573.58,165.06 L574.29,164.70 L574.99,164.33 L575.69,163.95 L576.38,163.55 L577.07,163.15 L577.75,162.73 L578.43,162.31 L579.10,161.88 L579.77,161.44 L580.44,160.99 L581.10,160.54 L581.76,160.07 L582.41,159.60 L583.05,159.13 L583.70,158.65 L584.33,158.16 L584.97,157.67 L585.60,157.17 L586.22,156.67 L586.85,156.16 L587.46,155.65 L588.07,155.14 L588.68,154.62 L589.29,154.09 L589.89,153.56 L590.48,153.03 L591.07,152.49 L591.66,151.95 L592.24,151.40 L592.82,150.85 L593.40,150.29 L593.97,149.73 L594.53,149.17 L595.09,148.60 L595.65,148.03 L596.20,147.45 L596.75,146.87 L597.30,146.29 L597.84,145.70 L598.38,145.11 L598.91,144.52 L599.44,143.92 L599.96,143.31 L600.48,142.71 L600.99,142.10 L601.51,141.48 L602.01,140.86 L602.52,140.24 L603.02,139.62 L603.51,138.99 L604.00,138.36 L604.49,137.73 L604.97,137.09 L605.45,136.45 L605.92,135.80 L606.39,135.16 L606.86,134.51 L607.32,133.85 L607.78,133.20 L608.23,132.54 L608.68,131.87 L609.13,131.21 L609.57,130.54 L610.01,129.87 L610.44,129.20 L610.87,128.52 L611.29,127.84 L611.71,127.16 L612.13,126.47 L612.54,125.79 L612.95,125.10 L613.36,124.40 L613.76,123.71 L614.16,123.01 L614.55,122.31 L614.94,121.61 L615.32,120.91 L615.70,120.20 L616.08,119.49 L616.45,118.78 L616.82,118.07 L617.19,117.36 L617.55,116.64 L617.91,115.92 L618.26,115.20 L618.61,114.48 L618.95,113.76 L619.29,113.03 L619.63,112.30 L619.96,111.57 L620.29,110.84 L620.62,110.11 L620.94,109.38 L621.26,108.64 L621.58,107.90 L621.89,107.17 L622.20,106.43 L622.50,105.68 L622.81,104.94 L623.10,104.20 L623.40,103.45 L623.69,102.71 L623.99,101.96 L624.27,101.21 L624.56,100.46 L624.84,99.71 L625.12,98.96 L625.40,98.20 L625.68,97.45 L625.95,96.69 L626.22,95.94 L626.49,95.18 L626.76,94.42 L627.03,93.66 L627.29,92.90 L627.55,92.14 L627.81,91.38 L628.07,90.62 L628.33,89.86 L628.59,89.09 L628.84,88.33 L629.10,87.57 L629.35,86.80 L629.60,86.04 L629.85,85.27 L630.10,84.51 L630.35,83.74 L630.60,82.97 L630.85,82.21 L631.10,81.44 L631.35,80.67 L631.59,79.91 L631.84,79.14 L632.09,78.37 L632.33,77.61 L632.58,76.84 L632.83,76.07 L633.07,75.30 L633.32,74.54 L633.57,73.77 L633.81,73.00 L634.06,72.24 L634.31,71.47 L634.56,70.71 L634.81,69.94 L635.06,69.18 L635.31,68.41 L635.57,67.65 L635.82,66.88 L636.08,66.12 L636.33,65.36 L636.59,64.60 L636.85,63.83 L637.11,63.07 L637.37,62.31 L637.64,61.55 L637.90,60.80 L638.17,60.04 L638.44,59.28 L638.71,58.53 L638.98,57.77 L639.26,57.02 L639.54,56.26 L639.82,55.51 L640.10,54.76 L640.39,54.01 L640.67,53.26 L640.96,52.52 L641.26,51.77 L641.55,51.03 L641.85,50.28 L642.15,49.54 L642.46,48.80 L642.77,48.06 L643.08,47.32 L643.39,46.59 L643.71,45.85 L644.03,45.12 L644.36,44.39 L644.69,43.66 L645.02,42.93 L645.36,42.20 L645.70,41.48 L646.04,40.75 L646.39,40.03 L646.75,39.31 L647.10,38.60 L647.46,37.88 L647.83,37.17 L648.20,36.46 L648.58,35.75 L648.96,35.04 L649.34,34.33 L649.73,33.63 L650.12,32.93 L650.52,32.23 L650.93,31.54 L651.34,30.84 L651.75,30.15 L652.17,29.46 L652.60,28.77 L653.03,28.09 L653.47,27.41 L653.91,26.73 L654.36,26.05 L654.81,25.38 L655.27,24.71 L655.74,24.04 L656.21,23.39 L656.70,22.76 L657.20,22.17 L657.72,21.64 L658.26,21.16 L658.81,20.76 L659.40,20.44 L660.01,20.21 L660.65,20.10 L661.32,20.09 L662.00,20.19 L662.70,20.37 L663.41,20.64 L664.11,20.99 L664.80,21.41 L665.47,21.89 L666.12,22.42 L666.73,23.00 L667.31,23.62 L667.86,24.28 L668.38,24.97 L668.87,25.70 L669.33,26.46 L669.76,27.24 L670.17,28.04 L670.56,28.87 L670.92,29.71 L671.27,30.57 L671.59,31.44 L671.89,32.31 L672.18,33.19 L672.46,34.07 L672.72,34.96 L672.97,35.83 L673.20,36.70 L673.43,37.56 L673.65,38.41 L673.87,39.24 L674.08,40.05 L674.28,40.84 L674.49,41.60 L674.69,42.34 L674.90,43.04 L675.10,43.71 L675.31,44.34 L675.53,44.93 L675.75,45.48 L675.98,45.98" fill="none" stroke="#787878" stroke-width="1.6" stroke-linejoin="round" stroke-linecap="round"/>
<path d="M523.00,169.53 L523.74,169.56 L524.49,169.59 L525.24,169.62 L526.00,169.64 L526.76,169.66 L527.53,169.67 L528.30,169.68 L529.08,169.69 L529.86,169.69 L530.64,169.69 L531.43,169.69 L532.22,169.68 L533.01,169.67 L533.81,169.65 L534.61,169.63 L535.42,169.60 L536.22,169.57 L537.03,169.53 L537.84,169.49 L538.65,169.45 L539.47,169.39 L540.28,169.34 L541.10,169.28 L541.92,169.21 L542.74,169.14 L543.56,169.06 L544.38,168.97 L545.20,168.88 L546.02,168.79 L546.84,168.68 L547.66,168.58 L548.48,168.46 L549.30,168.34 L550.12,168.21 L550.93,168.08 L551.75,167.94 L552.56,167.79 L553.38,167.64 L554.19,167.48 L555.00,167.31 L555.80,167.13 L556.61,166.95 L557.41,166.76 L558.21,166.56 L559.00,166.36 L559.80,166.14 L560.58,165.92 L561.37,165.70 L562.15,165.46 L562.93,165.22 L563.70,164.96 L564.47,164.70 L565.23,164.43 L565.99,164.16 L566.75,163.87 L567.49,163.58 L568.24,163.27 L568.98,162.96 L569.71,162.64 L570.43,162.31 L571.15,161.97 L571.86,161.62 L572.57,161.27 L573.27,160.90 L573.96,160.52 L574.65,160.14 L575.33,159.74 L575.99,159.33 L576.66,158.92 L577.31,158.49 L577.96,158.06 L578.60,157.61 L579.23,157.16 L579.85,156.70 L580.47,156.22 L581.08,155.74 L581.68,155.25 L582.28,154.75 L582.87,154.25 L583.45,153.73 L584.02,153.21 L584.59,152.68 L585.15,152.14 L585.71,151.59 L586.26,151.03 L586.80,150.47 L587.33,149.90 L587.86,149.32 L588.38,148.74 L588.90,148.15 L589.41,147.55 L589.91,146.94 L590.41,146.33 L590.90,145.71 L591.38,145.09 L591.86,144.46 L592.33,143.82 L592.80,143.18 L593.26,142.53 L593.72,141.87 L594.17,141.21 L594.61,140.55 L595.05,139.88 L595.49,139.20 L595.92,138.52 L596.34,137.83 L596.76,137.14 L597.17,136.45 L597.58,135.75 L597.99,135.04 L598.39,134.33 L598.78,133.62 L599.17,132.90 L599.55,132.18 L599.93,131.46 L600.31,130.73 L600.68,130.00 L601.05,129.27 L601.41,128.53 L601.77,127.79 L602.12,127.04 L602.47,126.30 L602.82,125.55 L603.16,124.80 L603.50,124.04 L603.83,123.29 L604.16,122.53 L604.49,121.77 L604.81,121.01 L605.13,120.24 L605.44,119.48 L605.76,118.71 L606.07,117.94 L606.37,117.17 L606.67,116.40 L606.97,115.63 L607.27,114.86 L607.56,114.09 L607.85,113.31 L608.14,112.54 L608.42,111.77 L608.71,110.99 L608.98,110.22 L609.26,109.44 L609.54,108.67 L609.81,107.90 L610.08,107.13 L610.34,106.36 L610.61,105.58 L610.87,104.81 L611.13,104.05 L611.39,103.28 L611.64,102.51 L611.90,101.75 L612.15,100.99 L612.40,100.22 L612.65,99.46 L612.89,98.71 L613.14,97.95 L613.38,97.19 L613.63,96.44 L613.87,95.69 L614.11,94.94 L614.34,94.19 L614.58,93.44 L614.81,92.69 L615.05,91.94 L615.28,91.19 L615.51,90.45 L615.74,89.70 L615.97,88.96 L616.20,88.21 L616.43,87.47 L616.65,86.73 L616.88,85.99 L617.10,85.24 L617.33,84.50 L617.55,83.76 L617.78,83.02 L618.00,82.28 L618.22,81.54 L618.44,80.80 L618.66,80.05 L618.88,79.31 L619.10,78.57 L619.32,77.83 L619.54,77.09 L619.76,76.34 L619.98,75.60 L620.20,74.86 L620.42,74.11 L620.64,73.37 L620.86,72.62 L621.08,71.87 L621.30,71.13 L621.52,70.38 L621.74,69.63 L621.96,68.88 L622.18,68.13 L622.40,67.37 L622.62,66.62 L622.85,65.86 L623.07,65.11 L623.29,64.35 L623.52,63.59 L623.74,62.83 L623.97,62.06 L624.20,61.30 L624.42,60.53 L624.65,59.76 L624.88,58.99 L625.11,58.22 L625.35,57.45 L625.58,56.67 L625.81,55.89 L626.05,55.11 L626.29,54.33 L626.53,53.54 L626.77,52.76 L627.01,51.97 L627.25,51.17 L627.49,50.38 L627.74,49.58 L627.99,48.78 L628.24,47.98 L628.49,47.17 L628.74,46.36 L629.00,45.55 L629.25,44.73 L629.51,43.92 L629.77,43.09 L630.04,42.27 L630.30,41.44 L630.57,40.61 L630.84,39.78 L631.11,38.94 L631.38,38.09 L631.66,37.25 L631.94,36.40 L632.22,35.55 L632.51,34.69 L632.79,33.84 L633.09,32.99 L633.39,32.14 L633.69,31.31 L634.00,30.48 L634.32,29.67 L634.64,28.88 L634.98,28.10 L635.32,27.35 L635.67,26.62 L636.04,25.92 L636.41,25.25 L636.80,24.61 L637.20,24.00 L637.61,23.44 L638.04,22.91 L638.48,22.42 L638.94,21.98 L639.42,21.59 L639.91,21.25 L640.42,20.96 L640.94,20.73 L641.49,20.56 L642.06,20.45 L642.64,20.40 L643.24,20.41 L643.86,20.49 L644.48,20.64 L645.10,20.85 L645.72,21.13 L646.33,21.47 L646.93,21.88 L647.51,22.35 L648.07,22.87 L648.62,23.45 L649.16,24.07 L649.68,24.73 L650.18,25.43 L650.66,26.15 L651.13,26.90 L651.58,27.67 L652.01,28.46 L652.42,29.25 L652.81,30.05 L653.18,30.84 L653.53,31.64 L653.86,32.44 L654.18,33.23 L654.48,34.03 L654.76,34.82 L655.03,35.62 L655.29,36.41 L655.53,37.20 L655.77,37.99 L655.99,38.78 L656.20,39.57 L656.41,40.36 L656.61,41.15 L656.80,41.93 L656.98,42.72 L657.17,43.50 L657.35,44.28 L657.52,45.07 L657.70,45.85 L657.87,46.63 L658.05,47.41 L658.23,48.19 L658.41,48.96 L658.59,49.74 L658.78,50.51 L658.97,51.29 L659.17,52.06 L659.37,52.83 L659.57,53.60 L659.77,54.37 L659.98,55.14 L660.19,55.91 L660.40,56.68 L660.62,57.45 L660.83,58.21 L661.05,58.98 L661.27,59.75 L661.49,60.51 L661.71,61.28 L661.93,62.05 L662.16,62.81 L662.38,63.58 L662.60,64.35 L662.83,65.11 L663.05,65.88 L663.27,66.65 L663.49,67.41 L663.71,68.18 L663.94,68.95 L664.15,69.72 L664.37,70.49 L664.59,71.26 L664.80,72.03 L665.02,72.81 L665.23,73.58 L665.44,74.35 L665.64,75.13 L665.85,75.90 L666.05,76.68 L666.25,77.46 L666.45,78.23 L666.65,79.01 L666.85,79.79 L667.05,80.57 L667.24,81.35 L667.43,82.13 L667.62,82.91 L667.81,83.69 L668.00,84.48 L668.19,85.26 L668.37,86.04 L668.56,86.83 L668.74,87.61 L668.92,88.40 L669.10,89.18 L669.28,89.97 L669.46,90.75 L669.63,91.54 L669.81,92.32 L669.98,93.11 L670.16,93.90 L670.33,94.68 L670.50,95.47 L670.67,96.26 L670.84,97.05 L671.01,97.84 L671.17,98.62 L671.34,99.41 L671.50,100.20 L671.67,100.99 L671.83,101.78 L672.00,102.57 L672.16,103.35 L672.32,104.14 L672.48,104.93 L672.64,105.72 L672.80,106.51 L672.96,107.30 L673.12,108.09 L673.28,108.87 L673.44,109.66 L673.59,110.45 L673.75,111.24 L673.91,112.02 L674.06,112.81 L674.22,113.60 L674.37,114.38 L674.53,115.17 L674.68,115.96 L674.84,116.74 L674.99,117.53 L675.15,118.31 L675.30,119.10" fill="none" stroke="#f5361a" stroke-width="1.6" stroke-linejoin="round" stroke-linecap="round"/>
<path d="M523.62,161.96 L523.64,161.17 L523.66,160.38 L523.68,159.59 L523.70,158.80 L523.72,158.01 L523.74,157.22 L523.76,156.42 L523.78,155.63 L523.80,154.84 L523.82,154.04 L523.84,153.25 L523.86,152.45 L523.88,151.65 L523.90,150.85 L523.92,150.06 L523.94,149.26 L523.95,148.46 L523.97,147.66 L523.99,146.86 L524.01,146.06 L524.03,145.26 L524.05,144.45 L524.07,143.65 L524.09,142.85 L524.11,142.05 L524.13,141.24 L524.15,140.44 L524.17,139.63 L524.18,138.83 L524.20,138.02 L524.22,137.22 L524.24,136.41 L524.26,135.60 L524.28,134.80 L524.30,133.99 L524.32,133.18 L524.34,132.37 L524.36,131.57 L524.38,130.76 L524.40,129.95 L524.42,129.14 L524.44,128.33 L524.46,127.52 L524.49,126.71 L524.51,125.90 L524.53,125.09 L524.55,124.28 L524.57,123.47 L524.59,122.66 L524.61,121.85 L524.64,121.04 L524.66,120.23 L524.68,119.42 L524.71,118.61 L524.73,117.80 L524.75,116.99 L524.78,116.18 L524.80,115.37 L524.82,114.56 L524.85,113.76 L524.87,112.95 L524.90,112.14 L524.92,111.33 L524.95,110.52 L524.98,109.71 L525.00,108.90 L525.03,108.09 L525.06,107.28 L525.08,106.47 L525.11,105.67 L525.14,104.86 L525.17,104.05 L525.20,103.24 L525.23,102.44 L525.26,101.63 L525.29,100.82 L525.32,100.02 L525.35,99.21 L525.38,98.41 L525.41,97.60 L525.44,96.80 L525.48,95.99 L525.51,95.19 L525.54,94.39 L525.58,93.58 L525.61,92.78 L525.65,91.98 L525.68,91.18 L525.72,90.38 L525.75,89.58 L525.79,88.78 L525.83,87.98 L525.87,87.18 L525.91,86.38 L525.95,85.59 L525.99,84.79 L526.03,83.99 L526.07,83.20 L526.11,82.40 L526.15,81.61 L526.19,80.82 L526.24,80.02 L526.28,79.23 L526.32,78.44 L526.37,77.65 L526.42,76.86 L526.46,76.07 L526.51,75.29 L526.56,74.50 L526.60,73.71 L526.65,72.93 L526.70,72.14 L526.75,71.36 L526.80,70.58 L526.86,69.79 L526.91,69.01 L526.96,68.23 L527.01,67.44 L527.06,66.66 L527.12,65.87 L527.17,65.09 L527.23,64.31 L527.28,63.52 L527.34,62.74 L527.39,61.95 L527.45,61.16 L527.50,60.38 L527.56,59.59 L527.62,58.80 L527.68,58.01 L527.73,57.22 L527.79,56.42 L527.85,55.63 L527.91,54.83 L527.96,54.04 L528.02,53.24 L528.08,52.44 L528.14,51.64 L528.20,50.83 L528.26,50.03 L528.32,49.22 L528.37,48.41 L528.43,47.59 L528.49,46.78 L528.55,45.96 L528.61,45.14 L528.67,44.32 L528.73,43.49 L528.79,42.66 L528.84,41.83 L528.90,41.00 L528.96,40.16 L529.02,39.32 L529.08,38.48 L529.14,37.63 L529.19,36.78 L529.25,35.93 L529.31,35.07 L529.36,34.21 L529.42,33.34 L529.48,32.48 L529.53,31.60 L529.59,30.73 L529.64,29.85 L529.70,28.96 L529.76,28.08 L529.83,27.20 L529.91,26.34 L530.00,25.50 L530.12,24.69 L530.26,23.91 L530.44,23.17 L530.65,22.48 L530.89,21.84 L531.18,21.25 L531.52,20.73 L531.90,20.29 L532.31,19.96 L532.74,19.75 L533.18,19.70 L533.61,19.80 L534.01,20.03 L534.37,20.38 L534.67,20.83 L534.94,21.37 L535.16,21.99 L535.35,22.68 L535.51,23.43 L535.65,24.22 L535.77,25.06 L535.87,25.91 L535.96,26.79 L536.05,27.67 L536.14,28.55 L536.23,29.42 L536.32,30.29 L536.41,31.16 L536.50,32.03 L536.59,32.89 L536.68,33.75 L536.77,34.60 L536.86,35.46 L536.95,36.31 L537.04,37.16 L537.13,38.00 L537.22,38.85 L537.31,39.69 L537.40,40.53 L537.49,41.36 L537.58,42.20 L537.67,43.03 L537.76,43.86 L537.85,44.68 L537.94,45.51 L538.02,46.33 L538.11,47.15 L538.20,47.97 L538.29,48.79 L538.38,49.60 L538.47,50.41 L538.56,51.23 L538.64,52.03 L538.73,52.84 L538.82,53.65 L538.91,54.45 L539.00,55.26 L539.08,56.06 L539.17,56.86 L539.26,57.66 L539.34,58.45 L539.43,59.25 L539.52,60.05 L539.60,60.84 L539.69,61.63 L539.78,62.43 L539.86,63.22 L539.95,64.01 L540.03,64.80 L540.12,65.58 L540.20,66.37 L540.29,67.16 L540.37,67.94 L540.45,68.73 L540.54,69.52 L540.62,70.30 L540.70,71.08 L540.79,71.87 L540.87,72.65 L540.95,73.43 L541.03,74.22 L541.11,75.00 L541.20,75.78 L541.28,76.57 L541.36,77.35 L541.44,78.13 L541.52,78.91 L541.60,79.70 L541.68,80.48 L541.75,81.26 L541.83,82.05 L541.91,82.83 L541.99,83.61 L542.07,84.40 L542.14,85.18 L542.22,85.97 L542.30,86.76 L542.37,87.54 L542.45,88.33 L542.52,89.12 L542.60,89.91 L542.67,90.70 L542.75,91.49 L542.82,92.28 L542.89,93.07 L542.97,93.87 L543.05,94.66 L543.12,95.45 L543.20,96.25 L543.28,97.04 L543.35,97.84 L543.43,98.63 L543.51,99.43 L543.59,100.22 L543.68,101.02 L543.76,101.82 L543.84,102.62 L543.93,103.41 L544.02,104.21 L544.11,105.01 L544.20,105.81 L544.30,106.61 L544.39,107.40 L544.49,108.20 L544.59,109.00 L544.69,109.80 L544.80,110.60 L544.91,111.40 L545.02,112.20 L545.13,113.00 L545.25,113.80 L545.37,114.60 L545.49,115.39 L545.61,116.19 L545.74,116.99 L545.87,117.79 L546.01,118.59 L546.15,119.39 L546.29,120.19 L546.44,120.98 L546.59,121.78 L546.75,122.58 L546.90,123.37 L547.07,124.17 L547.24,124.97 L547.41,125.76 L547.58,126.56 L547.77,127.35 L547.95,128.15 L548.14,128.94 L548.34,129.74 L548.54,130.53 L548.75,131.32 L548.96,132.11 L549.18,132.90 L549.40,133.70 L549.63,134.49 L549.86,135.27 L550.10,136.06 L550.34,136.85 L550.60,137.64 L550.86,138.42 L551.12,139.20 L551.39,139.98 L551.67,140.76 L551.96,141.53 L552.26,142.29 L552.56,143.05 L552.87,143.81 L553.19,144.56 L553.52,145.30 L553.86,146.04 L554.21,146.77 L554.57,147.49 L554.94,148.20 L555.32,148.90 L555.70,149.59 L556.11,150.27 L556.52,150.94 L556.94,151.60 L557.37,152.25 L557.82,152.89 L558.28,153.51 L558.75,154.12 L559.24,154.72 L559.73,155.30 L560.24,155.87 L560.77,156.42 L561.31,156.96 L561.86,157.48 L562.43,157.98 L563.01,158.47 L563.60,158.93 L564.22,159.38 L564.84,159.82 L565.48,160.23 L566.14,160.62 L566.81,161.00 L567.50,161.36 L568.19,161.70 L568.90,162.03 L569.62,162.35 L570.35,162.64 L571.09,162.93 L571.85,163.20 L572.61,163.45 L573.38,163.69 L574.16,163.92 L574.95,164.14 L575.74,164.35 L576.54,164.54 L577.35,164.73 L578.17,164.90 L578.99,165.07 L579.81,165.22 L580.64,165.37 L581.47,165.51 L582.31,165.64 L583.14,165.76 L583.98,165.88 L584.83,165.99 L585.67,166.09 L586.51,166.19 L587.36,166.28 L588.20,166.37 L589.04,166.46 L589.88,166.54 L590.72,166.62 L591.55,166.69 L592.39,166.77 L593.21,166.84 L594.04,166.91 L594.86,166.98 L595.67,167.05 L596.48,167.12 L597.28,167.19 L598.08,167.27 L598.86,167.34 L599.64,167.42 L600.41,167.50 L601.17,167.58 L601.93,167.67 L602.67,167.76 L603.40,167.85 L604.12,167.95 L604.83,168.06 L605.52,168.17 L606.21,168.29 L606.40,168.20 L615.00,168.60 L625.00,168.20 L630.00,169.20 L640.00,168.60 L650.00,168.90 L660.00,168.40 L668.00,168.90 L675.30,168.20" fill="none" stroke="#9a1410" stroke-width="1.6" stroke-linejoin="round" stroke-linecap="round"/>
<line x1="522.80" y1="11.50" x2="675.40" y2="11.50" stroke="#5a5a5a" stroke-width="0.8"/>
<line x1="675.40" y1="11.50" x2="675.40" y2="177.30" stroke="#5a5a5a" stroke-width="0.8"/>
<line x1="522.80" y1="11.50" x2="522.80" y2="177.90" stroke="#9a9a9a" stroke-width="1.25"/>
<line x1="522.20" y1="177.30" x2="675.40" y2="177.30" stroke="#9a9a9a" stroke-width="1.25"/>
<line x1="519.80" y1="169.70" x2="526.00" y2="169.70" stroke="#333" stroke-width="0.7"/>
<text x="517.50" y="172.65" font-size="8.3" text-anchor="end" fill="#111">0.0</text>
<line x1="519.80" y1="139.64" x2="526.00" y2="139.64" stroke="#333" stroke-width="0.7"/>
<text x="517.50" y="142.59" font-size="8.3" text-anchor="end" fill="#111">0.2</text>
<line x1="519.80" y1="109.58" x2="526.00" y2="109.58" stroke="#333" stroke-width="0.7"/>
<text x="517.50" y="112.53" font-size="8.3" text-anchor="end" fill="#111">0.4</text>
<line x1="519.80" y1="79.52" x2="526.00" y2="79.52" stroke="#333" stroke-width="0.7"/>
<text x="517.50" y="82.47" font-size="8.3" text-anchor="end" fill="#111">0.6</text>
<line x1="519.80" y1="49.46" x2="526.00" y2="49.46" stroke="#333" stroke-width="0.7"/>
<text x="517.50" y="52.41" font-size="8.3" text-anchor="end" fill="#111">0.8</text>
<line x1="519.80" y1="19.40" x2="526.00" y2="19.40" stroke="#333" stroke-width="0.7"/>
<text x="517.50" y="22.35" font-size="8.3" text-anchor="end" fill="#111">1.0</text>
<line x1="521.30" y1="154.67" x2="524.60" y2="154.67" stroke="#333" stroke-width="0.6"/>
<line x1="521.30" y1="124.61" x2="524.60" y2="124.61" stroke="#333" stroke-width="0.6"/>
<line x1="521.30" y1="94.55" x2="524.60" y2="94.55" stroke="#333" stroke-width="0.6"/>
<line x1="521.30" y1="64.49" x2="524.60" y2="64.49" stroke="#333" stroke-width="0.6"/>
<line x1="521.30" y1="34.43" x2="524.60" y2="34.43" stroke="#333" stroke-width="0.6"/>
<line x1="522.80" y1="174.10" x2="522.80" y2="180.30" stroke="#333" stroke-width="0.7"/>
<text x="522.80" y="189.40" font-size="8.6" text-anchor="middle" fill="#111">400</text>
<line x1="573.60" y1="174.10" x2="573.60" y2="180.30" stroke="#333" stroke-width="0.7"/>
<text x="573.60" y="189.40" font-size="8.6" text-anchor="middle" fill="#111">600</text>
<line x1="624.40" y1="174.10" x2="624.40" y2="180.30" stroke="#333" stroke-width="0.7"/>
<text x="624.40" y="189.40" font-size="8.6" text-anchor="middle" fill="#111">800</text>
<line x1="675.20" y1="174.10" x2="675.20" y2="180.30" stroke="#333" stroke-width="0.7"/>
<text x="675.20" y="189.40" font-size="8.6" text-anchor="middle" fill="#111">1000</text>
<line x1="548.20" y1="175.50" x2="548.20" y2="178.80" stroke="#333" stroke-width="0.6"/>
<line x1="599.00" y1="175.50" x2="599.00" y2="178.80" stroke="#333" stroke-width="0.6"/>
<line x1="649.80" y1="175.50" x2="649.80" y2="178.80" stroke="#333" stroke-width="0.6"/>
<text x="599.00" y="202.80" font-size="11.1" text-anchor="middle" fill="#111">Wavelength (nm)</text>
<text x="501.80" y="94.50" font-size="11.1" text-anchor="middle" fill="#111" transform="rotate(-90 501.80 94.50)">Norm. PL Intensity (a. u.)</text>
<line x1="554.80" y1="19.60" x2="572.80" y2="19.60" stroke="#eaa630" stroke-width="1.6"/>
<text x="574.20" y="22.35" font-size="7.9" fill="#111">BT-SiNC</text>
<line x1="554.80" y1="29.30" x2="572.80" y2="29.30" stroke="#f5361a" stroke-width="1.6"/>
<text x="574.20" y="32.05" font-size="7.9" fill="#111">1T-SiNC</text>
<line x1="554.80" y1="39.00" x2="572.80" y2="39.00" stroke="#9a1410" stroke-width="1.6"/>
<text x="574.20" y="41.75" font-size="7.9" fill="#111">2T-SiNC</text>
<line x1="554.80" y1="48.70" x2="572.80" y2="48.70" stroke="#787878" stroke-width="1.6"/>
<text x="574.20" y="51.45" font-size="7.9" fill="#111">C8-SiNC</text>
<rect x="36.50" y="241.60" width="160.00" height="163.00" fill="#300006"/>
<path fill="#520707" d="M113.5 241.6h83.0v60.4h-83.0zM114.5 301.6h82.0v2.4h-82.0zM113.5 303.6h83.0v44.4h-83.0zM112.5 347.6h84.0v10.4h-84.0zM111.5 357.6h85.0v8.4h-85.0zM110.5 365.6h86.0v8.4h-86.0zM109.5 373.6h87.0v5.4h-87.0zM108.5 378.6h88.0v6.4h-88.0zM107.5 384.6h89.0v6.4h-89.0zM106.5 390.6h90.0v6.4h-90.0zM105.5 396.6h91.0v6.4h-91.0zM104.5 402.6h92.0v2.4h-92.0z"/>
<path fill="#600a0a" d="M118.5 241.6h78.0v45.4h-78.0zM119.5 286.6h77.0v47.4h-77.0zM118.5 333.6h78.0v18.4h-78.0zM117.5 351.6h79.0v8.4h-79.0zM116.5 359.6h80.0v8.4h-80.0zM115.5 367.6h81.0v7.4h-81.0zM114.5 374.6h82.0v6.4h-82.0zM113.5 380.6h83.0v5.4h-83.0zM112.5 385.6h84.0v6.4h-84.0zM111.5 391.6h85.0v6.4h-85.0zM110.5 397.6h86.0v6.4h-86.0zM109.5 403.6h87.0v1.4h-87.0z"/>
<path fill="#760e0e" d="M123.5 241.6h73.0v20.4h-73.0zM124.5 261.6h72.0v77.4h-72.0zM123.5 338.6h73.0v15.4h-73.0zM122.5 353.6h74.0v8.4h-74.0zM121.5 361.6h75.0v8.4h-75.0zM120.5 369.6h76.0v7.4h-76.0zM119.5 376.6h77.0v5.4h-77.0zM118.5 381.6h78.0v6.4h-78.0zM117.5 387.6h79.0v6.4h-79.0zM116.5 393.6h80.0v6.4h-80.0zM115.5 399.6h81.0v5.4h-81.0z"/>
<path fill="#8a1210" d="M130.5 241.6h66.0v20.4h-66.0zM131.5 261.6h65.0v77.4h-65.0zM130.5 338.6h66.0v15.4h-66.0zM129.5 353.6h67.0v8.4h-67.0zM128.5 361.6h68.0v8.4h-68.0zM127.5 369.6h69.0v7.4h-69.0zM126.5 376.6h70.0v5.4h-70.0zM125.5 381.6h71.0v6.4h-71.0zM124.5 387.6h72.0v6.4h-72.0zM123.5 393.6h73.0v6.4h-73.0zM122.5 399.6h74.0v5.4h-74.0z"/>
<path fill="#a01812" d="M135.5 241.6h61.0v104.4h-61.0zM134.5 345.6h62.0v12.4h-62.0zM133.5 357.6h63.0v8.4h-63.0zM132.5 365.6h64.0v7.4h-64.0zM131.5 372.6h65.0v6.4h-65.0zM130.5 378.6h66.0v6.4h-66.0zM129.5 384.6h67.0v5.4h-67.0zM128.5 389.6h68.0v6.4h-68.0zM127.5 395.6h69.0v6.4h-69.0zM126.5 401.6h70.0v3.4h-70.0z"/>
<path fill="#c01e14" d="M138.5 241.6h58.0v30.4h-58.0zM139.5 271.6h57.0v65.4h-57.0zM138.5 336.6h58.0v17.4h-58.0zM137.5 353.6h59.0v8.4h-59.0zM136.5 361.6h60.0v8.4h-60.0zM135.5 369.6h61.0v6.4h-61.0zM134.5 375.6h62.0v6.4h-62.0zM133.5 381.6h63.0v5.4h-63.0zM132.5 386.6h64.0v6.4h-64.0zM131.5 392.6h65.0v6.4h-65.0zM130.5 398.6h66.0v6.4h-66.0z"/>
<path fill="#e02012" d="M142.5 241.6h54.0v30.4h-54.0zM143.5 271.6h53.0v65.4h-53.0zM142.5 336.6h54.0v16.4h-54.0zM141.5 352.6h55.0v8.4h-55.0zM140.5 360.6h56.0v9.4h-56.0zM139.5 369.6h57.0v6.4h-57.0zM138.5 375.6h58.0v6.4h-58.0zM137.5 381.6h59.0v5.4h-59.0zM136.5 386.6h60.0v6.4h-60.0zM135.5 392.6h61.0v6.4h-61.0zM134.5 398.6h62.0v6.4h-62.0z"/>
<path fill="#fc2410" d="M145.5 241.6h51.0v106.4h-51.0zM144.5 347.6h52.0v10.4h-52.0zM143.5 357.6h53.0v8.4h-53.0zM142.5 365.6h54.0v7.4h-54.0zM141.5 372.6h55.0v6.4h-55.0zM140.5 378.6h56.0v6.4h-56.0zM139.5 384.6h57.0v6.4h-57.0zM138.5 390.6h58.0v6.4h-58.0zM137.5 396.6h59.0v6.4h-59.0zM136.5 402.6h60.0v2.4h-60.0z"/>
<path fill="#ff3012" d="M151.5 241.6h45.0v53.4h-45.0zM152.5 294.6h44.0v37.4h-44.0zM151.5 331.6h45.0v14.4h-45.0zM150.5 345.6h46.0v10.4h-46.0zM149.5 355.6h47.0v8.4h-47.0zM148.5 363.6h48.0v7.4h-48.0zM147.5 370.6h49.0v5.4h-49.0zM146.5 375.6h50.0v4.4h-50.0zM145.5 379.6h51.0v5.4h-51.0zM144.5 384.6h52.0v6.4h-52.0zM143.5 390.6h53.0v6.4h-53.0zM142.5 396.6h54.0v6.4h-54.0zM141.5 402.6h55.0v2.4h-55.0z"/>
<path fill="#fc4016" d="M154.5 241.6h42.0v58.4h-42.0zM155.5 299.6h41.0v12.4h-41.0zM154.5 311.6h42.0v34.4h-42.0zM153.5 345.6h43.0v11.4h-43.0zM152.5 356.6h44.0v6.4h-44.0zM151.5 362.6h45.0v7.4h-45.0zM150.5 369.6h46.0v6.4h-46.0zM149.5 375.6h47.0v6.4h-47.0zM148.5 381.6h48.0v5.4h-48.0zM147.5 386.6h49.0v5.4h-49.0zM146.5 391.6h50.0v4.4h-50.0zM145.5 395.6h51.0v6.4h-51.0zM144.5 401.6h52.0v3.4h-52.0z"/>
<path fill="#f8541a" d="M156.5 241.6h40.0v3.4h-40.0zM157.5 244.6h39.0v96.4h-39.0zM156.5 340.6h40.0v13.4h-40.0zM155.5 353.6h41.0v6.4h-41.0zM154.5 359.6h42.0v7.4h-42.0zM153.5 366.6h43.0v7.4h-43.0zM152.5 373.6h44.0v5.4h-44.0zM151.5 378.6h45.0v4.4h-45.0zM150.5 382.6h46.0v5.4h-46.0zM149.5 387.6h47.0v7.4h-47.0zM148.5 394.6h48.0v6.4h-48.0zM147.5 400.6h49.0v4.4h-49.0z"/>
<path fill="#f4661e" d="M159.5 241.6h37.0v104.4h-37.0zM158.5 345.6h38.0v11.4h-38.0zM157.5 356.6h39.0v6.4h-39.0zM156.5 362.6h40.0v6.4h-40.0zM155.5 368.6h41.0v5.4h-41.0zM154.5 373.6h42.0v5.4h-42.0zM153.5 378.6h43.0v5.4h-43.0zM152.5 383.6h44.0v4.4h-44.0zM151.5 387.6h45.0v4.4h-45.0zM150.5 391.6h46.0v5.4h-46.0zM149.5 396.6h47.0v8.4h-47.0z"/>
<path fill="#f27224" d="M161.5 241.6h35.0v101.4h-35.0zM160.5 342.6h36.0v12.4h-36.0zM159.5 354.6h37.0v7.4h-37.0zM158.5 361.6h38.0v7.4h-38.0zM157.5 368.6h39.0v6.4h-39.0zM156.5 374.6h40.0v4.4h-40.0zM155.5 378.6h41.0v3.4h-41.0zM154.5 381.6h42.0v5.4h-42.0zM153.5 386.6h43.0v5.4h-43.0zM152.5 391.6h44.0v5.4h-44.0zM151.5 396.6h45.0v4.4h-45.0zM150.5 400.6h46.0v4.4h-46.0z"/>
<path fill="#f07a28" d="M162.5 241.6h34.0v22.4h-34.0zM163.5 263.6h33.0v75.4h-33.0zM162.5 338.6h34.0v14.4h-34.0zM161.5 352.6h35.0v7.4h-35.0zM160.5 359.6h36.0v6.4h-36.0zM159.5 365.6h37.0v7.4h-37.0zM158.5 372.6h38.0v5.4h-38.0zM157.5 377.6h39.0v5.4h-39.0zM156.5 382.6h40.0v3.4h-40.0zM155.5 385.6h41.0v3.4h-41.0zM154.5 388.6h42.0v4.4h-42.0zM153.5 392.6h43.0v6.4h-43.0zM152.5 398.6h44.0v4.4h-44.0zM151.5 402.6h45.0v2.4h-45.0z"/>
<path fill="#f0802c" d="M164.5 241.6h32.0v102.4h-32.0zM163.5 343.6h33.0v11.4h-33.0zM162.5 354.6h34.0v8.4h-34.0zM161.5 362.6h35.0v7.4h-35.0zM160.5 369.6h36.0v5.4h-36.0zM159.5 374.6h37.0v5.4h-37.0zM158.5 379.6h38.0v5.4h-38.0zM157.5 384.6h39.0v4.4h-39.0zM156.5 388.6h40.0v4.4h-40.0zM155.5 392.6h41.0v2.4h-41.0zM154.5 394.6h42.0v4.4h-42.0zM153.5 398.6h43.0v6.4h-43.0z"/>
<path fill="#ef8834" d="M165.5 241.6h31.0v39.4h-31.0zM166.5 280.6h30.0v54.4h-30.0zM165.5 334.6h31.0v15.4h-31.0zM164.5 349.6h32.0v8.4h-32.0zM163.5 357.6h33.0v6.4h-33.0zM162.5 363.6h34.0v8.4h-34.0zM161.5 371.6h35.0v5.4h-35.0zM160.5 376.6h36.0v4.4h-36.0zM159.5 380.6h37.0v5.4h-37.0zM158.5 385.6h38.0v5.4h-38.0zM157.5 390.6h39.0v4.4h-39.0zM156.5 394.6h40.0v3.4h-40.0zM155.5 397.6h41.0v3.4h-41.0zM154.5 400.6h42.0v4.4h-42.0z"/>
<path fill="#ee903c" d="M166.5 241.6h30.0v1.4h-30.0zM167.5 242.6h29.0v98.4h-29.0zM166.5 340.6h30.0v13.4h-30.0zM165.5 353.6h31.0v6.4h-31.0zM164.5 359.6h32.0v6.4h-32.0zM163.5 365.6h33.0v7.4h-33.0zM162.5 372.6h34.0v5.4h-34.0zM161.5 377.6h35.0v5.4h-35.0zM160.5 382.6h36.0v4.4h-36.0zM159.5 386.6h37.0v4.4h-37.0zM158.5 390.6h38.0v5.4h-38.0zM157.5 395.6h39.0v5.4h-39.0zM156.5 400.6h40.0v2.4h-40.0zM155.5 402.6h41.0v2.4h-41.0z"/>
<path fill="#ed9844" d="M172.5 241.6h24.0v96.4h-24.0zM171.5 337.6h25.0v7.4h-25.0zM170.5 344.6h26.0v6.4h-26.0zM169.5 350.6h27.0v4.4h-27.0zM168.5 354.6h28.0v5.4h-28.0zM167.5 359.6h29.0v5.4h-29.0zM166.5 364.6h30.0v5.4h-30.0zM165.5 369.6h31.0v4.4h-31.0zM164.5 373.6h32.0v2.4h-32.0zM163.5 375.6h33.0v4.4h-33.0zM162.5 379.6h34.0v4.4h-34.0zM161.5 383.6h35.0v5.4h-35.0zM160.5 388.6h36.0v3.4h-36.0zM159.5 391.6h37.0v4.4h-37.0zM158.5 395.6h38.0v6.4h-38.0zM157.5 401.6h39.0v3.4h-39.0z"/>
<path fill="#eba04e" d="M177.5 241.6h12.0v97.4h-12.0zM176.5 338.6h13.0v1.4h-13.0zM176.5 339.6h14.0v5.4h-14.0zM175.5 344.6h16.0v4.4h-16.0zM174.5 348.6h17.0v4.4h-17.0zM174.5 352.6h18.0v1.4h-18.0zM173.5 353.6h19.0v4.4h-19.0zM172.5 357.6h20.0v1.4h-20.0zM172.5 358.6h22.0v3.4h-22.0zM171.5 361.6h25.0v2.4h-25.0zM170.5 363.6h26.0v2.4h-26.0zM169.5 365.6h27.0v3.4h-27.0zM168.5 368.6h28.0v6.4h-28.0zM167.5 374.6h29.0v4.4h-29.0zM166.5 378.6h30.0v3.4h-30.0zM165.5 381.6h31.0v2.4h-31.0zM164.5 383.6h32.0v1.4h-32.0zM163.5 384.6h33.0v4.4h-33.0zM162.5 388.6h34.0v6.4h-34.0zM161.5 394.6h35.0v4.4h-35.0zM160.5 398.6h36.0v1.4h-36.0zM159.5 399.6h37.0v2.4h-37.0zM158.5 401.6h38.0v3.4h-38.0z"/>
<path fill="#eaa858" d="M181.5 241.6h1.0v18.4h-1.0zM181.5 336.6h1.0v1.4h-1.0zM181.5 337.6h2.0v2.4h-2.0zM181.5 339.6h3.0v2.4h-3.0zM181.5 341.6h4.0v2.4h-4.0zM181.5 343.6h5.0v1.4h-5.0zM180.5 344.6h6.0v5.4h-6.0zM179.5 349.6h7.0v2.4h-7.0zM179.5 351.6h8.0v5.4h-8.0zM179.5 356.6h9.0v1.4h-9.0zM178.5 357.6h10.0v1.4h-10.0zM178.5 358.6h11.0v2.4h-11.0zM177.5 360.6h12.0v1.4h-12.0zM177.5 361.6h13.0v2.4h-13.0zM175.5 363.6h15.0v1.4h-15.0zM174.5 364.6h16.0v1.4h-16.0zM174.5 365.6h17.0v1.4h-17.0zM173.5 366.6h18.0v4.4h-18.0zM172.5 370.6h19.0v1.4h-19.0zM172.5 371.6h20.0v3.4h-20.0zM171.5 374.6h21.0v1.4h-21.0zM193.5 374.6h1.0v1.4h-1.0zM171.5 375.6h21.0v1.4h-21.0zM193.5 375.6h1.0v1.4h-1.0zM195.5 375.6h1.0v1.4h-1.0zM170.5 376.6h26.0v1.4h-26.0zM169.5 377.6h27.0v1.4h-27.0zM168.5 378.6h28.0v3.4h-28.0zM167.5 381.6h29.0v4.4h-29.0zM166.5 385.6h30.0v4.4h-30.0zM165.5 389.6h31.0v2.4h-31.0zM164.5 391.6h32.0v1.4h-32.0zM163.5 392.6h33.0v4.4h-33.0zM162.5 396.6h34.0v7.4h-34.0zM161.5 403.6h35.0v1.4h-35.0z"/>
<path fill="#e9ae62" d="M183.5 363.6h2.0v2.4h-2.0zM180.5 365.6h1.0v1.4h-1.0zM182.5 365.6h3.0v1.4h-3.0zM179.5 366.6h2.0v1.4h-2.0zM182.5 366.6h4.0v1.4h-4.0zM179.5 367.6h7.0v2.4h-7.0zM179.5 369.6h8.0v1.4h-8.0zM179.5 370.6h10.0v2.4h-10.0zM178.5 372.6h11.0v1.4h-11.0zM178.5 373.6h12.0v2.4h-12.0zM174.5 375.6h1.0v1.4h-1.0zM178.5 375.6h12.0v1.4h-12.0zM174.5 376.6h2.0v1.4h-2.0zM177.5 376.6h13.0v1.4h-13.0zM173.5 377.6h18.0v1.4h-18.0zM172.5 378.6h19.0v2.4h-19.0zM171.5 380.6h20.0v1.4h-20.0zM170.5 381.6h22.0v1.4h-22.0zM193.5 381.6h1.0v1.4h-1.0zM195.5 381.6h1.0v1.4h-1.0zM169.5 382.6h23.0v1.4h-23.0zM193.5 382.6h3.0v1.4h-3.0zM168.5 383.6h28.0v5.4h-28.0zM167.5 388.6h29.0v4.4h-29.0zM166.5 392.6h30.0v5.4h-30.0zM165.5 397.6h31.0v1.4h-31.0zM164.5 398.6h32.0v1.4h-32.0zM163.5 399.6h33.0v5.4h-33.0z"/>
<path fill="#e9b46c" d="M184.5 376.6h1.0v1.4h-1.0zM179.5 377.6h1.0v1.4h-1.0zM183.5 377.6h2.0v1.4h-2.0zM179.5 378.6h2.0v1.4h-2.0zM182.5 378.6h4.0v1.4h-4.0zM188.5 378.6h1.0v1.4h-1.0zM179.5 379.6h2.0v1.4h-2.0zM182.5 379.6h7.0v1.4h-7.0zM174.5 380.6h1.0v1.4h-1.0zM178.5 380.6h12.0v1.4h-12.0zM173.5 381.6h3.0v1.4h-3.0zM178.5 381.6h12.0v1.4h-12.0zM173.5 382.6h3.0v1.4h-3.0zM177.5 382.6h13.0v1.4h-13.0zM172.5 383.6h19.0v3.4h-19.0zM171.5 386.6h20.0v1.4h-20.0zM169.5 387.6h23.0v1.4h-23.0zM193.5 387.6h1.0v1.4h-1.0zM195.5 387.6h1.0v1.4h-1.0zM168.5 388.6h24.0v2.4h-24.0zM193.5 388.6h3.0v2.4h-3.0zM168.5 390.6h28.0v3.4h-28.0zM167.5 393.6h29.0v5.4h-29.0zM166.5 398.6h30.0v5.4h-30.0zM165.5 403.6h31.0v1.4h-31.0z"/>
<path fill="#e9ba76" d="M184.5 381.6h1.0v1.4h-1.0zM183.5 382.6h2.0v1.4h-2.0zM179.5 383.6h1.0v1.4h-1.0zM183.5 383.6h2.0v1.4h-2.0zM188.5 383.6h1.0v1.4h-1.0zM179.5 384.6h1.0v1.4h-1.0zM182.5 384.6h4.0v1.4h-4.0zM187.5 384.6h3.0v1.4h-3.0zM174.5 385.6h1.0v1.4h-1.0zM179.5 385.6h2.0v1.4h-2.0zM182.5 385.6h8.0v1.4h-8.0zM173.5 386.6h3.0v1.4h-3.0zM178.5 386.6h3.0v1.4h-3.0zM182.5 386.6h8.0v1.4h-8.0zM173.5 387.6h3.0v1.4h-3.0zM178.5 387.6h12.0v1.4h-12.0zM172.5 388.6h4.0v1.4h-4.0zM178.5 388.6h13.0v1.4h-13.0zM172.5 389.6h4.0v1.4h-4.0zM177.5 389.6h14.0v1.4h-14.0zM172.5 390.6h19.0v1.4h-19.0zM171.5 391.6h20.0v1.4h-20.0zM169.5 392.6h22.0v1.4h-22.0zM193.5 392.6h1.0v1.4h-1.0zM195.5 392.6h1.0v1.4h-1.0zM168.5 393.6h24.0v2.4h-24.0zM193.5 393.6h3.0v2.4h-3.0zM168.5 395.6h28.0v3.4h-28.0zM167.5 398.6h29.0v6.4h-29.0z"/>
<path fill="#eac282" d="M183.5 387.6h2.0v1.4h-2.0zM188.5 387.6h1.0v1.4h-1.0zM179.5 388.6h1.0v1.4h-1.0zM183.5 388.6h2.0v1.4h-2.0zM188.5 388.6h1.0v1.4h-1.0zM179.5 389.6h1.0v1.4h-1.0zM183.5 389.6h3.0v1.4h-3.0zM187.5 389.6h3.0v1.4h-3.0zM174.5 390.6h1.0v1.4h-1.0zM179.5 390.6h1.0v1.4h-1.0zM182.5 390.6h4.0v1.4h-4.0zM187.5 390.6h3.0v1.4h-3.0zM173.5 391.6h3.0v1.4h-3.0zM179.5 391.6h2.0v1.4h-2.0zM182.5 391.6h8.0v1.4h-8.0zM173.5 392.6h3.0v1.4h-3.0zM178.5 392.6h3.0v1.4h-3.0zM182.5 392.6h8.0v1.4h-8.0zM172.5 393.6h4.0v1.4h-4.0zM178.5 393.6h13.0v1.4h-13.0zM172.5 394.6h4.0v1.4h-4.0zM177.5 394.6h14.0v1.4h-14.0zM171.5 395.6h20.0v1.4h-20.0zM169.5 396.6h22.0v1.4h-22.0zM195.5 396.6h1.0v1.4h-1.0zM168.5 397.6h23.0v1.4h-23.0zM193.5 397.6h3.0v1.4h-3.0zM168.5 398.6h24.0v3.4h-24.0zM193.5 398.6h3.0v3.4h-3.0zM168.5 401.6h28.0v2.4h-28.0zM167.5 403.6h29.0v1.4h-29.0z"/>
<path fill="#eaca8e" d="M184.5 391.6h1.0v1.4h-1.0zM188.5 391.6h1.0v1.4h-1.0zM183.5 392.6h2.0v1.4h-2.0zM188.5 392.6h1.0v1.4h-1.0zM174.5 393.6h1.0v1.4h-1.0zM179.5 393.6h1.0v1.4h-1.0zM183.5 393.6h2.0v1.4h-2.0zM187.5 393.6h3.0v1.4h-3.0zM173.5 394.6h2.0v1.4h-2.0zM179.5 394.6h1.0v1.4h-1.0zM183.5 394.6h3.0v1.4h-3.0zM187.5 394.6h3.0v1.4h-3.0zM173.5 395.6h3.0v1.4h-3.0zM179.5 395.6h1.0v1.4h-1.0zM182.5 395.6h8.0v1.4h-8.0zM173.5 396.6h3.0v1.4h-3.0zM179.5 396.6h2.0v1.4h-2.0zM182.5 396.6h8.0v1.4h-8.0zM172.5 397.6h4.0v2.4h-4.0zM178.5 397.6h3.0v2.4h-3.0zM182.5 397.6h9.0v2.4h-9.0zM172.5 399.6h4.0v1.4h-4.0zM177.5 399.6h14.0v1.4h-14.0zM169.5 400.6h22.0v1.4h-22.0zM195.5 400.6h1.0v1.4h-1.0zM168.5 401.6h23.0v1.4h-23.0zM193.5 401.6h1.0v1.4h-1.0zM195.5 401.6h1.0v1.4h-1.0zM168.5 402.6h23.0v1.4h-23.0zM193.5 402.6h3.0v1.4h-3.0zM168.5 403.6h24.0v1.4h-24.0zM193.5 403.6h3.0v1.4h-3.0z"/>
<path fill="#ebd29c" d="M184.5 395.6h1.0v1.4h-1.0zM188.5 395.6h1.0v1.4h-1.0zM183.5 396.6h2.0v1.4h-2.0zM188.5 396.6h2.0v1.4h-2.0zM174.5 397.6h1.0v1.4h-1.0zM183.5 397.6h2.0v1.4h-2.0zM187.5 397.6h3.0v1.4h-3.0zM173.5 398.6h2.0v1.4h-2.0zM179.5 398.6h1.0v1.4h-1.0zM183.5 398.6h3.0v1.4h-3.0zM187.5 398.6h3.0v1.4h-3.0zM173.5 399.6h3.0v1.4h-3.0zM179.5 399.6h1.0v1.4h-1.0zM183.5 399.6h7.0v1.4h-7.0zM172.5 400.6h4.0v1.4h-4.0zM179.5 400.6h1.0v1.4h-1.0zM182.5 400.6h8.0v1.4h-8.0zM172.5 401.6h4.0v1.4h-4.0zM179.5 401.6h2.0v1.4h-2.0zM182.5 401.6h9.0v1.4h-9.0zM172.5 402.6h4.0v2.4h-4.0zM178.5 402.6h3.0v2.4h-3.0zM182.5 402.6h9.0v2.4h-9.0z"/>
<path fill="#ecdcac" d="M188.5 398.6h1.0v1.4h-1.0zM184.5 399.6h1.0v1.4h-1.0zM188.5 399.6h1.0v1.4h-1.0zM183.5 400.6h2.0v1.4h-2.0zM188.5 400.6h2.0v1.4h-2.0zM174.5 401.6h1.0v1.4h-1.0zM183.5 401.6h2.0v1.4h-2.0zM187.5 401.6h3.0v1.4h-3.0zM173.5 402.6h2.0v1.4h-2.0zM179.5 402.6h1.0v1.4h-1.0zM183.5 402.6h2.0v1.4h-2.0zM187.5 402.6h3.0v1.4h-3.0zM173.5 403.6h3.0v1.4h-3.0zM179.5 403.6h1.0v1.4h-1.0zM183.5 403.6h3.0v1.4h-3.0zM187.5 403.6h3.0v1.4h-3.0z"/>
<path fill="#ede6bc" d="M188.5 402.6h1.0v1.4h-1.0zM184.5 403.6h1.0v1.4h-1.0zM188.5 403.6h2.0v1.4h-2.0z"/>
<rect x="36.50" y="241.60" width="160.30" height="162.60" fill="none" stroke="#8a8a8a" stroke-width="0.6"/>
<rect x="202.20" y="398.12" width="10.30" height="5.68" fill="#300006"/>
<rect x="202.20" y="392.73" width="10.30" height="5.68" fill="#520707"/>
<rect x="202.20" y="387.35" width="10.30" height="5.68" fill="#600a0a"/>
<rect x="202.20" y="381.97" width="10.30" height="5.68" fill="#760e0e"/>
<rect x="202.20" y="376.58" width="10.30" height="5.68" fill="#8a1210"/>
<rect x="202.20" y="371.20" width="10.30" height="5.68" fill="#a01812"/>
<rect x="202.20" y="365.82" width="10.30" height="5.68" fill="#c01e14"/>
<rect x="202.20" y="360.43" width="10.30" height="5.68" fill="#e02012"/>
<rect x="202.20" y="355.05" width="10.30" height="5.68" fill="#fc2410"/>
<rect x="202.20" y="349.67" width="10.30" height="5.68" fill="#ff3012"/>
<rect x="202.20" y="344.28" width="10.30" height="5.68" fill="#fc4016"/>
<rect x="202.20" y="338.90" width="10.30" height="5.68" fill="#f8541a"/>
<rect x="202.20" y="333.52" width="10.30" height="5.68" fill="#f4661e"/>
<rect x="202.20" y="328.13" width="10.30" height="5.68" fill="#f27224"/>
<rect x="202.20" y="322.75" width="10.30" height="5.68" fill="#f07a28"/>
<rect x="202.20" y="317.37" width="10.30" height="5.68" fill="#f0802c"/>
<rect x="202.20" y="311.98" width="10.30" height="5.68" fill="#ef8834"/>
<rect x="202.20" y="306.60" width="10.30" height="5.68" fill="#ee903c"/>
<rect x="202.20" y="301.22" width="10.30" height="5.68" fill="#ed9844"/>
<rect x="202.20" y="295.83" width="10.30" height="5.68" fill="#eba04e"/>
<rect x="202.20" y="290.45" width="10.30" height="5.68" fill="#eaa858"/>
<rect x="202.20" y="285.07" width="10.30" height="5.68" fill="#e9ae62"/>
<rect x="202.20" y="279.68" width="10.30" height="5.68" fill="#e9b46c"/>
<rect x="202.20" y="274.30" width="10.30" height="5.68" fill="#e9ba76"/>
<rect x="202.20" y="268.92" width="10.30" height="5.68" fill="#eac282"/>
<rect x="202.20" y="263.53" width="10.30" height="5.68" fill="#eaca8e"/>
<rect x="202.20" y="258.15" width="10.30" height="5.68" fill="#ebd29c"/>
<rect x="202.20" y="252.77" width="10.30" height="5.68" fill="#ecdcac"/>
<rect x="202.20" y="247.38" width="10.30" height="5.68" fill="#ede6bc"/>
<rect x="202.20" y="242.00" width="10.30" height="5.68" fill="#eef2d4"/>
<rect x="202.20" y="242.00" width="10.30" height="161.50" fill="none" stroke="#7a7a7a" stroke-width="0.8"/>
<line x1="212.50" y1="403.50" x2="215.70" y2="403.50" stroke="#333" stroke-width="0.7"/>
<text x="218.60" y="406.45" font-size="8.3" fill="#111">0</text>
<line x1="212.50" y1="371.20" x2="215.70" y2="371.20" stroke="#333" stroke-width="0.7"/>
<text x="218.60" y="374.15" font-size="8.3" fill="#111">0.2</text>
<line x1="212.50" y1="338.90" x2="215.70" y2="338.90" stroke="#333" stroke-width="0.7"/>
<text x="218.60" y="341.85" font-size="8.3" fill="#111">0.4</text>
<line x1="212.50" y1="306.60" x2="215.70" y2="306.60" stroke="#333" stroke-width="0.7"/>
<text x="218.60" y="309.55" font-size="8.3" fill="#111">0.6</text>
<line x1="212.50" y1="274.30" x2="215.70" y2="274.30" stroke="#333" stroke-width="0.7"/>
<text x="218.60" y="277.25" font-size="8.3" fill="#111">0.8</text>
<line x1="212.50" y1="242.00" x2="215.70" y2="242.00" stroke="#333" stroke-width="0.7"/>
<text x="218.60" y="244.95" font-size="8.3" fill="#111">1</text>
<line x1="33.50" y1="404.20" x2="36.50" y2="404.20" stroke="#333" stroke-width="0.7"/>
<text x="31.20" y="407.15" font-size="8.3" text-anchor="end" fill="#111">300</text>
<line x1="33.50" y1="363.55" x2="36.50" y2="363.55" stroke="#333" stroke-width="0.7"/>
<text x="31.20" y="366.50" font-size="8.3" text-anchor="end" fill="#111">320</text>
<line x1="33.50" y1="322.90" x2="36.50" y2="322.90" stroke="#333" stroke-width="0.7"/>
<text x="31.20" y="325.85" font-size="8.3" text-anchor="end" fill="#111">340</text>
<line x1="33.50" y1="282.25" x2="36.50" y2="282.25" stroke="#333" stroke-width="0.7"/>
<text x="31.20" y="285.20" font-size="8.3" text-anchor="end" fill="#111">360</text>
<line x1="33.50" y1="241.60" x2="36.50" y2="241.60" stroke="#333" stroke-width="0.7"/>
<text x="31.20" y="244.55" font-size="8.3" text-anchor="end" fill="#111">380</text>
<line x1="36.50" y1="404.20" x2="36.50" y2="407.20" stroke="#333" stroke-width="0.7"/>
<text x="36.50" y="416.40" font-size="8.3" text-anchor="middle" fill="#111">400</text>
<line x1="89.93" y1="404.20" x2="89.93" y2="407.20" stroke="#333" stroke-width="0.7"/>
<text x="89.93" y="416.40" font-size="8.3" text-anchor="middle" fill="#111">600</text>
<line x1="143.37" y1="404.20" x2="143.37" y2="407.20" stroke="#333" stroke-width="0.7"/>
<text x="143.37" y="416.40" font-size="8.3" text-anchor="middle" fill="#111">800</text>
<line x1="196.80" y1="404.20" x2="196.80" y2="407.20" stroke="#333" stroke-width="0.7"/>
<text x="196.80" y="416.40" font-size="8.3" text-anchor="middle" fill="#111">1000</text>
<text x="116.70" y="434.60" font-size="10.7" text-anchor="middle" fill="#111">Emission (nm)</text>
<text x="13.20" y="322.20" font-size="10.7" text-anchor="middle" fill="#111" transform="rotate(-90 13.20 322.20)">Excitation (nm)</text>
<text x="124.85" y="237.00" font-size="12.5" text-anchor="middle" fill="#111">BT-SiNC</text>
<rect x="279.90" y="243.20" width="168.00" height="161.00" fill="#300006"/>
<path fill="#520707" d="M280.9 243.2h42.0v31.4h-42.0zM280.9 274.2h41.0v4.4h-41.0zM280.9 278.2h40.0v3.4h-40.0zM280.9 281.2h39.0v5.4h-39.0zM280.9 286.2h38.0v3.4h-38.0zM281.9 289.2h36.0v17.4h-36.0zM281.9 306.2h35.0v10.4h-35.0zM281.9 316.2h36.0v11.4h-36.0zM282.9 327.2h35.0v4.4h-35.0zM282.9 331.2h36.0v4.4h-36.0zM282.9 335.2h37.0v4.4h-37.0zM282.9 339.2h38.0v4.4h-38.0zM282.9 343.2h39.0v6.4h-39.0zM282.9 349.2h41.0v1.4h-41.0zM282.9 350.2h42.0v3.4h-42.0zM282.9 353.2h43.0v3.4h-43.0zM282.9 356.2h44.0v3.4h-44.0zM282.9 359.2h45.0v2.4h-45.0zM282.9 361.2h46.0v2.4h-46.0zM282.9 363.2h47.0v1.4h-47.0zM282.9 364.2h48.0v12.4h-48.0zM282.9 376.2h49.0v1.4h-49.0zM282.9 377.2h49.0v1.4h-49.0zM335.9 377.2h1.0v1.4h-1.0zM282.9 378.2h49.0v2.4h-49.0zM335.9 378.2h2.0v2.4h-2.0zM282.9 380.2h50.0v1.4h-50.0zM335.9 380.2h2.0v1.4h-2.0zM340.9 380.2h1.0v1.4h-1.0zM282.9 381.2h50.0v1.4h-50.0zM335.9 381.2h2.0v1.4h-2.0zM339.9 381.2h2.0v1.4h-2.0zM282.9 382.2h50.0v2.4h-50.0zM334.9 382.2h3.0v2.4h-3.0zM339.9 382.2h2.0v2.4h-2.0zM282.9 384.2h51.0v2.4h-51.0zM334.9 384.2h3.0v2.4h-3.0zM339.9 384.2h2.0v2.4h-2.0zM282.9 386.2h59.0v3.4h-59.0zM281.9 389.2h60.0v4.4h-60.0zM281.9 393.2h60.0v1.4h-60.0zM347.9 393.2h1.0v1.4h-1.0zM281.9 394.2h60.0v1.4h-60.0zM347.9 394.2h2.0v1.4h-2.0zM281.9 395.2h60.0v1.4h-60.0zM344.9 395.2h1.0v1.4h-1.0zM346.9 395.2h3.0v1.4h-3.0zM281.9 396.2h60.0v1.4h-60.0zM343.9 396.2h6.0v1.4h-6.0zM281.9 397.2h61.0v1.4h-61.0zM343.9 397.2h6.0v1.4h-6.0zM281.9 398.2h61.0v3.4h-61.0zM343.9 398.2h7.0v3.4h-7.0zM281.9 401.2h69.0v2.4h-69.0zM281.9 403.2h70.0v1.4h-70.0z"/>
<path fill="#600a0a" d="M280.9 243.2h36.0v25.4h-36.0zM280.9 268.2h35.0v3.4h-35.0zM281.9 271.2h34.0v4.4h-34.0zM281.9 275.2h33.0v4.4h-33.0zM281.9 279.2h32.0v4.4h-32.0zM281.9 283.2h31.0v3.4h-31.0zM281.9 286.2h30.0v3.4h-30.0zM281.9 289.2h29.0v3.4h-29.0zM282.9 292.2h28.0v3.4h-28.0zM282.9 295.2h27.0v8.4h-27.0zM282.9 303.2h26.0v19.4h-26.0zM283.9 322.2h25.0v3.4h-25.0zM283.9 325.2h24.0v6.4h-24.0zM282.9 331.2h25.0v1.4h-25.0zM282.9 332.2h26.0v6.4h-26.0zM282.9 338.2h27.0v4.4h-27.0zM283.9 342.2h26.0v13.4h-26.0zM283.9 355.2h26.0v1.4h-26.0zM313.9 355.2h1.0v1.4h-1.0zM283.9 356.2h26.0v1.4h-26.0zM311.9 356.2h4.0v1.4h-4.0zM283.9 357.2h26.0v1.4h-26.0zM310.9 357.2h5.0v1.4h-5.0zM283.9 358.2h32.0v1.4h-32.0zM283.9 359.2h33.0v8.4h-33.0zM282.9 367.2h33.0v1.4h-33.0zM282.9 368.2h32.0v4.4h-32.0zM282.9 372.2h33.0v1.4h-33.0zM282.9 373.2h33.0v1.4h-33.0zM318.9 373.2h2.0v1.4h-2.0zM282.9 374.2h33.0v1.4h-33.0zM317.9 374.2h3.0v1.4h-3.0zM282.9 375.2h33.0v2.4h-33.0zM317.9 375.2h3.0v2.4h-3.0zM325.9 375.2h1.0v2.4h-1.0zM282.9 377.2h33.0v1.4h-33.0zM317.9 377.2h4.0v1.4h-4.0zM325.9 377.2h1.0v1.4h-1.0zM282.9 378.2h33.0v1.4h-33.0zM317.9 378.2h4.0v1.4h-4.0zM325.9 378.2h2.0v1.4h-2.0zM282.9 379.2h33.0v2.4h-33.0zM317.9 379.2h4.0v2.4h-4.0zM324.9 379.2h3.0v2.4h-3.0zM282.9 381.2h33.0v1.4h-33.0zM316.9 381.2h5.0v1.4h-5.0zM324.9 381.2h3.0v1.4h-3.0zM282.9 382.2h39.0v1.4h-39.0zM324.9 382.2h3.0v1.4h-3.0zM282.9 383.2h40.0v1.4h-40.0zM323.9 383.2h4.0v1.4h-4.0zM282.9 384.2h40.0v1.4h-40.0zM323.9 384.2h5.0v1.4h-5.0zM282.9 385.2h46.0v3.4h-46.0zM282.9 388.2h47.0v2.4h-47.0zM282.9 390.2h48.0v1.4h-48.0zM282.9 391.2h50.0v2.4h-50.0zM282.9 393.2h51.0v3.4h-51.0zM282.9 396.2h52.0v1.4h-52.0zM282.9 397.2h53.0v3.4h-53.0zM282.9 400.2h54.0v2.4h-54.0zM339.9 400.2h1.0v2.4h-1.0zM282.9 402.2h54.0v2.4h-54.0zM338.9 402.2h2.0v2.4h-2.0z"/>
<path fill="#760e0e" d="M280.9 243.2h32.0v8.4h-32.0zM281.9 251.2h31.0v17.4h-31.0zM281.9 268.2h30.0v6.4h-30.0zM281.9 274.2h29.0v4.4h-29.0zM281.9 278.2h28.0v3.4h-28.0zM282.9 281.2h26.0v3.4h-26.0zM282.9 284.2h25.0v2.4h-25.0zM282.9 286.2h24.0v2.4h-24.0zM282.9 288.2h23.0v3.4h-23.0zM282.9 291.2h22.0v2.4h-22.0zM283.9 293.2h21.0v5.4h-21.0zM283.9 298.2h20.0v8.4h-20.0zM283.9 306.2h19.0v7.4h-19.0zM284.9 313.2h18.0v9.4h-18.0zM284.9 322.2h17.0v9.4h-17.0zM283.9 331.2h18.0v6.4h-18.0zM283.9 337.2h17.0v6.4h-17.0zM283.9 343.2h16.0v11.4h-16.0zM283.9 354.2h16.0v1.4h-16.0zM301.9 354.2h1.0v1.4h-1.0zM283.9 355.2h16.0v1.4h-16.0zM301.9 355.2h1.0v1.4h-1.0zM306.9 355.2h1.0v1.4h-1.0zM283.9 356.2h16.0v1.4h-16.0zM301.9 356.2h1.0v1.4h-1.0zM305.9 356.2h2.0v1.4h-2.0zM283.9 357.2h16.0v3.4h-16.0zM300.9 357.2h2.0v3.4h-2.0zM305.9 357.2h2.0v3.4h-2.0zM283.9 360.2h19.0v7.4h-19.0zM305.9 360.2h2.0v7.4h-2.0zM283.9 367.2h20.0v2.4h-20.0zM305.9 367.2h2.0v2.4h-2.0zM283.9 369.2h20.0v1.4h-20.0zM305.9 369.2h1.0v1.4h-1.0zM283.9 370.2h20.0v1.4h-20.0zM305.9 370.2h1.0v1.4h-1.0zM309.9 370.2h1.0v1.4h-1.0zM283.9 371.2h20.0v1.4h-20.0zM305.9 371.2h1.0v1.4h-1.0zM309.9 371.2h2.0v1.4h-2.0zM283.9 372.2h20.0v2.4h-20.0zM305.9 372.2h1.0v2.4h-1.0zM308.9 372.2h3.0v2.4h-3.0zM283.9 374.2h21.0v1.4h-21.0zM305.9 374.2h1.0v1.4h-1.0zM308.9 374.2h3.0v1.4h-3.0zM283.9 375.2h21.0v2.4h-21.0zM307.9 375.2h4.0v2.4h-4.0zM283.9 377.2h22.0v4.4h-22.0zM307.9 377.2h4.0v4.4h-4.0zM283.9 381.2h22.0v1.4h-22.0zM306.9 381.2h5.0v1.4h-5.0zM283.9 382.2h28.0v1.4h-28.0zM318.9 382.2h1.0v1.4h-1.0zM283.9 383.2h28.0v2.4h-28.0zM318.9 383.2h2.0v2.4h-2.0zM283.9 385.2h28.0v2.4h-28.0zM313.9 385.2h1.0v2.4h-1.0zM318.9 385.2h2.0v2.4h-2.0zM283.9 387.2h28.0v2.4h-28.0zM313.9 387.2h2.0v2.4h-2.0zM318.9 387.2h2.0v2.4h-2.0zM283.9 389.2h28.0v1.4h-28.0zM312.9 389.2h3.0v1.4h-3.0zM317.9 389.2h4.0v1.4h-4.0zM283.9 390.2h33.0v1.4h-33.0zM317.9 390.2h4.0v1.4h-4.0zM283.9 391.2h38.0v1.4h-38.0zM283.9 392.2h40.0v1.4h-40.0zM283.9 393.2h41.0v3.4h-41.0zM283.9 396.2h42.0v1.4h-42.0zM327.9 396.2h2.0v1.4h-2.0zM283.9 397.2h42.0v1.4h-42.0zM327.9 397.2h3.0v1.4h-3.0zM283.9 398.2h42.0v1.4h-42.0zM327.9 398.2h4.0v1.4h-4.0zM282.9 399.2h43.0v1.4h-43.0zM327.9 399.2h5.0v1.4h-5.0zM282.9 400.2h43.0v1.4h-43.0zM326.9 400.2h6.0v1.4h-6.0zM282.9 401.2h43.0v1.4h-43.0zM326.9 401.2h7.0v1.4h-7.0zM282.9 402.2h51.0v2.4h-51.0z"/>
<path fill="#8a1210" d="M281.9 243.2h29.0v14.4h-29.0zM281.9 257.2h28.0v9.4h-28.0zM281.9 266.2h27.0v5.4h-27.0zM282.9 271.2h26.0v1.4h-26.0zM282.9 272.2h25.0v4.4h-25.0zM282.9 276.2h24.0v3.4h-24.0zM282.9 279.2h23.0v3.4h-23.0zM282.9 282.2h22.0v2.4h-22.0zM283.9 284.2h20.0v3.4h-20.0zM283.9 287.2h19.0v2.4h-19.0zM283.9 289.2h18.0v4.4h-18.0zM284.9 293.2h17.0v2.4h-17.0zM284.9 295.2h16.0v7.4h-16.0zM284.9 302.2h15.0v5.4h-15.0zM284.9 307.2h14.0v7.4h-14.0zM285.9 314.2h13.0v5.4h-13.0zM285.9 319.2h12.0v9.4h-12.0zM285.9 328.2h11.0v8.4h-11.0zM286.9 336.2h10.0v6.4h-10.0zM286.9 342.2h11.0v5.4h-11.0zM286.9 347.2h7.0v2.4h-7.0zM294.9 347.2h3.0v2.4h-3.0zM289.9 349.2h4.0v4.4h-4.0zM295.9 349.2h2.0v4.4h-2.0zM288.9 353.2h5.0v3.4h-5.0zM295.9 353.2h2.0v3.4h-2.0zM287.9 356.2h6.0v3.4h-6.0zM295.9 356.2h2.0v3.4h-2.0zM286.9 359.2h7.0v1.4h-7.0zM295.9 359.2h2.0v1.4h-2.0zM285.9 360.2h8.0v4.4h-8.0zM295.9 360.2h3.0v4.4h-3.0zM284.9 364.2h9.0v5.4h-9.0zM295.9 364.2h3.0v5.4h-3.0zM284.9 369.2h8.0v3.4h-8.0zM295.9 369.2h4.0v3.4h-4.0zM284.9 372.2h9.0v1.4h-9.0zM294.9 372.2h6.0v1.4h-6.0zM284.9 373.2h9.0v3.4h-9.0zM294.9 373.2h8.0v3.4h-8.0zM284.9 376.2h18.0v1.4h-18.0zM284.9 377.2h19.0v1.4h-19.0zM284.9 378.2h19.0v2.4h-19.0zM309.9 378.2h1.0v2.4h-1.0zM284.9 380.2h19.0v2.4h-19.0zM308.9 380.2h2.0v2.4h-2.0zM284.9 382.2h20.0v6.4h-20.0zM308.9 382.2h2.0v6.4h-2.0zM284.9 388.2h21.0v1.4h-21.0zM308.9 388.2h2.0v1.4h-2.0zM284.9 389.2h21.0v1.4h-21.0zM307.9 389.2h3.0v1.4h-3.0zM283.9 390.2h22.0v1.4h-22.0zM307.9 390.2h3.0v1.4h-3.0zM283.9 391.2h27.0v1.4h-27.0zM283.9 392.2h27.0v1.4h-27.0zM313.9 392.2h1.0v1.4h-1.0zM283.9 393.2h27.0v1.4h-27.0zM313.9 393.2h2.0v1.4h-2.0zM283.9 394.2h27.0v1.4h-27.0zM312.9 394.2h3.0v1.4h-3.0zM283.9 395.2h32.0v1.4h-32.0zM283.9 396.2h33.0v1.4h-33.0zM283.9 397.2h34.0v1.4h-34.0zM283.9 398.2h35.0v1.4h-35.0zM283.9 399.2h35.0v1.4h-35.0zM322.9 399.2h1.0v1.4h-1.0zM283.9 400.2h36.0v3.4h-36.0zM321.9 400.2h2.0v3.4h-2.0zM283.9 403.2h36.0v1.4h-36.0zM321.9 403.2h3.0v1.4h-3.0z"/>
<path fill="#a01812" d="M281.9 243.2h26.0v19.4h-26.0zM282.9 262.2h24.0v6.4h-24.0zM282.9 268.2h23.0v4.4h-23.0zM282.9 272.2h22.0v4.4h-22.0zM282.9 276.2h21.0v1.4h-21.0zM283.9 277.2h20.0v2.4h-20.0zM283.9 279.2h19.0v4.4h-19.0zM283.9 283.2h18.0v2.4h-18.0zM283.9 285.2h17.0v1.4h-17.0zM284.9 286.2h16.0v2.4h-16.0zM284.9 288.2h15.0v3.4h-15.0zM284.9 291.2h14.0v7.4h-14.0zM284.9 298.2h13.0v2.4h-13.0zM285.9 300.2h12.0v4.4h-12.0zM285.9 304.2h11.0v4.4h-11.0zM285.9 308.2h10.0v2.4h-10.0zM286.9 310.2h9.0v10.4h-9.0zM286.9 320.2h8.0v2.4h-8.0zM287.9 322.2h7.0v6.4h-7.0zM287.9 328.2h6.0v4.4h-6.0zM288.9 332.2h5.0v4.4h-5.0zM290.9 336.2h2.0v3.4h-2.0zM291.9 339.2h1.0v2.4h-1.0zM290.9 359.2h1.0v5.4h-1.0zM289.9 364.2h2.0v7.4h-2.0zM288.9 371.2h3.0v1.4h-3.0zM296.9 371.2h1.0v1.4h-1.0zM288.9 372.2h3.0v2.4h-3.0zM296.9 372.2h2.0v2.4h-2.0zM285.9 374.2h1.0v1.4h-1.0zM288.9 374.2h3.0v1.4h-3.0zM295.9 374.2h3.0v1.4h-3.0zM285.9 375.2h6.0v5.4h-6.0zM295.9 375.2h4.0v5.4h-4.0zM284.9 380.2h8.0v2.4h-8.0zM294.9 380.2h6.0v2.4h-6.0zM284.9 382.2h8.0v2.4h-8.0zM294.9 382.2h8.0v2.4h-8.0zM284.9 384.2h8.0v1.4h-8.0zM293.9 384.2h10.0v1.4h-10.0zM284.9 385.2h19.0v4.4h-19.0zM284.9 389.2h20.0v1.4h-20.0zM284.9 390.2h15.0v3.4h-15.0zM300.9 390.2h4.0v3.4h-4.0zM284.9 393.2h15.0v2.4h-15.0zM300.9 393.2h5.0v2.4h-5.0zM284.9 395.2h15.0v1.4h-15.0zM300.9 395.2h6.0v1.4h-6.0zM284.9 396.2h15.0v2.4h-15.0zM300.9 396.2h7.0v2.4h-7.0zM284.9 398.2h15.0v1.4h-15.0zM300.9 398.2h8.0v1.4h-8.0zM284.9 399.2h15.0v1.4h-15.0zM300.9 399.2h8.0v1.4h-8.0zM312.9 399.2h1.0v1.4h-1.0zM283.9 400.2h16.0v1.4h-16.0zM300.9 400.2h8.0v1.4h-8.0zM311.9 400.2h2.0v1.4h-2.0zM283.9 401.2h16.0v2.4h-16.0zM300.9 401.2h8.0v2.4h-8.0zM311.9 401.2h3.0v2.4h-3.0zM283.9 403.2h16.0v1.4h-16.0zM300.9 403.2h8.0v1.4h-8.0zM310.9 403.2h4.0v1.4h-4.0zM317.9 403.2h1.0v1.4h-1.0z"/>
<path fill="#c01e14" d="M281.9 243.2h24.0v8.4h-24.0zM282.9 251.2h23.0v9.4h-23.0zM282.9 260.2h22.0v5.4h-22.0zM282.9 265.2h21.0v5.4h-21.0zM283.9 270.2h19.0v6.4h-19.0zM283.9 276.2h18.0v3.4h-18.0zM283.9 279.2h17.0v1.4h-17.0zM284.9 280.2h16.0v3.4h-16.0zM284.9 283.2h15.0v2.4h-15.0zM284.9 285.2h14.0v3.4h-14.0zM284.9 288.2h13.0v2.4h-13.0zM285.9 290.2h12.0v1.4h-12.0zM285.9 291.2h11.0v6.4h-11.0zM285.9 297.2h10.0v4.4h-10.0zM286.9 301.2h9.0v3.4h-9.0zM286.9 304.2h8.0v4.4h-8.0zM287.9 308.2h6.0v7.4h-6.0zM287.9 315.2h5.0v2.4h-5.0zM288.9 317.2h4.0v4.4h-4.0zM289.9 321.2h2.0v1.4h-2.0zM290.9 322.2h1.0v1.4h-1.0zM289.9 377.2h1.0v1.4h-1.0zM296.9 377.2h1.0v1.4h-1.0zM289.9 378.2h1.0v4.4h-1.0zM296.9 378.2h2.0v4.4h-2.0zM288.9 382.2h2.0v4.4h-2.0zM295.9 382.2h3.0v4.4h-3.0zM286.9 386.2h1.0v1.4h-1.0zM288.9 386.2h2.0v1.4h-2.0zM294.9 386.2h4.0v1.4h-4.0zM286.9 387.2h4.0v2.4h-4.0zM294.9 387.2h4.0v2.4h-4.0zM286.9 389.2h4.0v1.4h-4.0zM293.9 389.2h5.0v1.4h-5.0zM286.9 390.2h5.0v1.4h-5.0zM293.9 390.2h5.0v1.4h-5.0zM286.9 391.2h5.0v1.4h-5.0zM292.9 391.2h6.0v1.4h-6.0zM286.9 392.2h5.0v1.4h-5.0zM292.9 392.2h6.0v1.4h-6.0zM301.9 392.2h2.0v1.4h-2.0zM286.9 393.2h12.0v3.4h-12.0zM301.9 393.2h2.0v3.4h-2.0zM286.9 396.2h12.0v3.4h-12.0zM301.9 396.2h3.0v3.4h-3.0zM285.9 399.2h13.0v1.4h-13.0zM301.9 399.2h4.0v1.4h-4.0zM285.9 400.2h13.0v1.4h-13.0zM301.9 400.2h5.0v1.4h-5.0zM284.9 401.2h14.0v3.4h-14.0zM301.9 401.2h6.0v3.4h-6.0z"/>
<path fill="#e02012" d="M282.9 243.2h22.0v2.4h-22.0zM282.9 245.2h21.0v14.4h-21.0zM282.9 259.2h20.0v4.4h-20.0zM283.9 263.2h19.0v4.4h-19.0zM283.9 267.2h18.0v6.4h-18.0zM283.9 273.2h17.0v2.4h-17.0zM284.9 275.2h16.0v2.4h-16.0zM284.9 277.2h15.0v3.4h-15.0zM284.9 280.2h14.0v3.4h-14.0zM284.9 283.2h13.0v3.4h-13.0zM285.9 286.2h11.0v2.4h-11.0zM285.9 288.2h10.0v5.4h-10.0zM286.9 293.2h9.0v1.4h-9.0zM286.9 294.2h8.0v6.4h-8.0zM286.9 300.2h7.0v1.4h-7.0zM287.9 301.2h6.0v4.4h-6.0zM287.9 305.2h5.0v2.4h-5.0zM288.9 307.2h4.0v1.4h-4.0zM289.9 308.2h2.0v1.4h-2.0zM290.9 309.2h1.0v2.4h-1.0zM294.9 392.2h1.0v1.4h-1.0zM293.9 393.2h2.0v1.4h-2.0zM288.9 394.2h1.0v1.4h-1.0zM293.9 394.2h2.0v1.4h-2.0zM287.9 395.2h2.0v1.4h-2.0zM293.9 395.2h3.0v1.4h-3.0zM287.9 396.2h2.0v1.4h-2.0zM292.9 396.2h4.0v1.4h-4.0zM287.9 397.2h3.0v1.4h-3.0zM292.9 397.2h4.0v1.4h-4.0zM287.9 398.2h3.0v3.4h-3.0zM292.9 398.2h3.0v3.4h-3.0zM286.9 401.2h5.0v2.4h-5.0zM292.9 401.2h3.0v2.4h-3.0zM286.9 403.2h5.0v1.4h-5.0zM292.9 403.2h4.0v1.4h-4.0z"/>
<path fill="#fc2410" d="M282.9 243.2h20.0v7.4h-20.0zM282.9 250.2h19.0v5.4h-19.0zM283.9 255.2h18.0v9.4h-18.0zM283.9 264.2h17.0v6.4h-17.0zM284.9 270.2h15.0v5.4h-15.0zM284.9 275.2h14.0v4.4h-14.0zM284.9 279.2h13.0v3.4h-13.0zM285.9 282.2h11.0v3.4h-11.0zM285.9 285.2h10.0v3.4h-10.0zM286.9 288.2h8.0v4.4h-8.0zM286.9 292.2h7.0v3.4h-7.0zM287.9 295.2h6.0v2.4h-6.0zM287.9 297.2h5.0v4.4h-5.0zM288.9 301.2h3.0v2.4h-3.0zM289.9 303.2h2.0v1.4h-2.0zM288.9 400.2h1.0v2.4h-1.0zM293.9 400.2h1.0v2.4h-1.0zM287.9 402.2h3.0v2.4h-3.0zM293.9 402.2h1.0v2.4h-1.0z"/>
<path fill="#ff3012" d="M282.9 243.2h19.0v2.4h-19.0zM283.9 245.2h18.0v3.4h-18.0zM283.9 248.2h17.0v14.4h-17.0zM283.9 262.2h16.0v4.4h-16.0zM284.9 266.2h15.0v3.4h-15.0zM284.9 269.2h14.0v5.4h-14.0zM284.9 274.2h13.0v4.4h-13.0zM284.9 278.2h12.0v1.4h-12.0zM285.9 279.2h11.0v2.4h-11.0zM285.9 281.2h10.0v4.4h-10.0zM286.9 285.2h8.0v3.4h-8.0zM286.9 288.2h7.0v2.4h-7.0zM287.9 290.2h5.0v5.4h-5.0zM287.9 295.2h4.0v1.4h-4.0zM288.9 296.2h3.0v1.4h-3.0zM289.9 297.2h2.0v1.4h-2.0zM289.9 298.2h1.0v1.4h-1.0z"/>
<path fill="#fc4016" d="M283.9 243.2h17.0v5.4h-17.0zM283.9 248.2h16.0v13.4h-16.0zM284.9 261.2h15.0v1.4h-15.0zM284.9 262.2h14.0v6.4h-14.0zM284.9 268.2h13.0v6.4h-13.0zM284.9 274.2h12.0v1.4h-12.0zM285.9 275.2h11.0v3.4h-11.0zM285.9 278.2h10.0v3.4h-10.0zM285.9 281.2h9.0v2.4h-9.0zM286.9 283.2h8.0v2.4h-8.0zM286.9 285.2h7.0v2.4h-7.0zM287.9 287.2h5.0v2.4h-5.0zM287.9 289.2h4.0v1.4h-4.0zM288.9 290.2h3.0v2.4h-3.0zM289.9 292.2h1.0v1.4h-1.0z"/>
<path fill="#f8541a" d="M283.9 243.2h16.0v4.4h-16.0zM283.9 247.2h15.0v9.4h-15.0zM284.9 256.2h14.0v6.4h-14.0zM284.9 262.2h13.0v7.4h-13.0zM284.9 269.2h12.0v3.4h-12.0zM285.9 272.2h11.0v2.4h-11.0zM285.9 274.2h10.0v4.4h-10.0zM285.9 278.2h9.0v2.4h-9.0zM286.9 280.2h8.0v2.4h-8.0zM286.9 282.2h7.0v3.4h-7.0zM287.9 285.2h5.0v2.4h-5.0zM287.9 287.2h4.0v1.4h-4.0zM288.9 288.2h3.0v1.4h-3.0z"/>
<path fill="#f4661e" d="M283.9 243.2h15.0v7.4h-15.0zM284.9 250.2h14.0v2.4h-14.0zM284.9 252.2h13.0v11.4h-13.0zM284.9 263.2h12.0v5.4h-12.0zM285.9 268.2h11.0v1.4h-11.0zM285.9 269.2h10.0v6.4h-10.0zM285.9 275.2h9.0v2.4h-9.0zM286.9 277.2h8.0v2.4h-8.0zM286.9 279.2h7.0v3.4h-7.0zM287.9 282.2h5.0v3.4h-5.0zM287.9 285.2h4.0v1.4h-4.0zM288.9 286.2h3.0v1.4h-3.0z"/>
<path fill="#f27224" d="M283.9 243.2h14.0v1.4h-14.0zM284.9 244.2h13.0v10.4h-13.0zM284.9 254.2h12.0v10.4h-12.0zM284.9 264.2h11.0v1.4h-11.0zM285.9 265.2h10.0v6.4h-10.0zM285.9 271.2h9.0v3.4h-9.0zM286.9 274.2h8.0v2.4h-8.0zM286.9 276.2h7.0v4.4h-7.0zM287.9 280.2h5.0v2.4h-5.0zM287.9 282.2h4.0v2.4h-4.0zM289.9 284.2h1.0v1.4h-1.0z"/>
<path fill="#f07a28" d="M284.9 243.2h12.0v16.4h-12.0zM284.9 259.2h11.0v3.4h-11.0zM285.9 262.2h10.0v4.4h-10.0zM285.9 266.2h9.0v5.4h-9.0zM286.9 271.2h8.0v2.4h-8.0zM286.9 273.2h7.0v4.4h-7.0zM286.9 277.2h6.0v1.4h-6.0zM287.9 278.2h5.0v2.4h-5.0zM287.9 280.2h4.0v2.4h-4.0zM289.9 282.2h1.0v1.4h-1.0z"/>
<path fill="#f0802c" d="M284.9 243.2h12.0v4.4h-12.0zM284.9 247.2h11.0v11.4h-11.0zM285.9 258.2h10.0v3.4h-10.0zM285.9 261.2h9.0v8.4h-9.0zM286.9 269.2h7.0v6.4h-7.0zM286.9 275.2h6.0v1.4h-6.0zM287.9 276.2h5.0v2.4h-5.0zM287.9 278.2h4.0v2.4h-4.0zM289.9 280.2h1.0v1.4h-1.0z"/>
<path fill="#ef8834" d="M284.9 243.2h11.0v11.4h-11.0zM285.9 254.2h9.0v11.4h-9.0zM285.9 265.2h8.0v1.4h-8.0zM286.9 266.2h7.0v5.4h-7.0zM286.9 271.2h6.0v2.4h-6.0zM287.9 273.2h5.0v2.4h-5.0zM287.9 275.2h4.0v2.4h-4.0zM288.9 277.2h3.0v1.4h-3.0zM289.9 278.2h1.0v1.4h-1.0z"/>
<path fill="#ee903c" d="M284.9 243.2h10.0v7.4h-10.0zM285.9 250.2h9.0v11.4h-9.0zM285.9 261.2h8.0v2.4h-8.0zM286.9 263.2h7.0v5.4h-7.0zM286.9 268.2h6.0v3.4h-6.0zM287.9 271.2h5.0v2.4h-5.0zM287.9 273.2h4.0v2.4h-4.0zM288.9 275.2h3.0v1.4h-3.0zM289.9 276.2h1.0v1.4h-1.0z"/>
<path fill="#ed9844" d="M284.9 243.2h10.0v2.4h-10.0zM285.9 245.2h9.0v10.4h-9.0zM285.9 255.2h8.0v5.4h-8.0zM286.9 260.2h7.0v5.4h-7.0zM286.9 265.2h6.0v4.4h-6.0zM287.9 269.2h5.0v1.4h-5.0zM287.9 270.2h4.0v3.4h-4.0zM288.9 273.2h3.0v1.4h-3.0zM289.9 274.2h1.0v1.4h-1.0z"/>
<path fill="#eba04e" d="M285.9 243.2h8.0v15.4h-8.0zM286.9 258.2h7.0v3.4h-7.0zM286.9 261.2h6.0v5.4h-6.0zM287.9 266.2h5.0v1.4h-5.0zM287.9 267.2h4.0v4.4h-4.0zM288.9 271.2h2.0v1.4h-2.0zM289.9 272.2h1.0v1.4h-1.0z"/>
<path fill="#eaa858" d="M285.9 243.2h8.0v11.4h-8.0zM286.9 254.2h7.0v3.4h-7.0zM286.9 257.2h6.0v7.4h-6.0zM287.9 264.2h4.0v5.4h-4.0zM288.9 269.2h2.0v1.4h-2.0zM289.9 270.2h1.0v1.4h-1.0z"/>
<path fill="#e9ae62" d="M285.9 243.2h8.0v6.4h-8.0zM285.9 249.2h7.0v1.4h-7.0zM286.9 250.2h6.0v11.4h-6.0zM286.9 261.2h5.0v1.4h-5.0zM287.9 262.2h4.0v4.4h-4.0zM288.9 266.2h2.0v2.4h-2.0zM289.9 268.2h1.0v1.4h-1.0z"/>
<path fill="#e9b46c" d="M285.9 243.2h7.0v3.4h-7.0zM286.9 246.2h6.0v12.4h-6.0zM286.9 258.2h5.0v1.4h-5.0zM287.9 259.2h4.0v4.4h-4.0zM287.9 263.2h3.0v1.4h-3.0zM288.9 264.2h2.0v1.4h-2.0zM289.9 265.2h1.0v2.4h-1.0z"/>
<path fill="#e9ba76" d="M286.9 243.2h6.0v9.4h-6.0zM286.9 252.2h5.0v5.4h-5.0zM287.9 257.2h4.0v3.4h-4.0zM287.9 260.2h3.0v2.4h-3.0zM288.9 262.2h2.0v1.4h-2.0zM289.9 263.2h1.0v2.4h-1.0z"/>
<path fill="#eac282" d="M286.9 243.2h6.0v1.4h-6.0zM286.9 244.2h5.0v10.4h-5.0zM287.9 254.2h4.0v3.4h-4.0zM287.9 257.2h3.0v2.4h-3.0zM288.9 259.2h2.0v2.4h-2.0zM289.9 261.2h1.0v1.4h-1.0z"/>
<path fill="#eaca8e" d="M286.9 243.2h5.0v8.4h-5.0zM287.9 251.2h4.0v1.4h-4.0zM287.9 252.2h3.0v4.4h-3.0zM288.9 256.2h2.0v3.4h-2.0zM289.9 259.2h1.0v1.4h-1.0z"/>
<path fill="#ebd29c" d="M286.9 243.2h5.0v4.4h-5.0zM287.9 247.2h3.0v6.4h-3.0zM288.9 253.2h2.0v3.4h-2.0zM289.9 256.2h1.0v1.4h-1.0z"/>
<path fill="#ecdcac" d="M286.9 243.2h4.0v1.4h-4.0zM287.9 244.2h3.0v5.4h-3.0zM288.9 249.2h2.0v3.4h-2.0z"/>
<path fill="#ede6bc" d="M287.9 243.2h3.0v2.4h-3.0zM288.9 245.2h2.0v2.4h-2.0zM288.9 247.2h1.0v1.4h-1.0z"/>
<path fill="#eef2d4" d="M288.9 243.2h1.0v2.4h-1.0z"/>
<rect x="279.90" y="243.20" width="167.70" height="160.80" fill="none" stroke="#8a8a8a" stroke-width="0.6"/>
<rect x="451.60" y="398.64" width="10.90" height="5.66" fill="#300006"/>
<rect x="451.60" y="393.28" width="10.90" height="5.66" fill="#520707"/>
<rect x="451.60" y="387.92" width="10.90" height="5.66" fill="#600a0a"/>
<rect x="451.60" y="382.56" width="10.90" height="5.66" fill="#760e0e"/>
<rect x="451.60" y="377.20" width="10.90" height="5.66" fill="#8a1210"/>
<rect x="451.60" y="371.84" width="10.90" height="5.66" fill="#a01812"/>
<rect x="451.60" y="366.48" width="10.90" height="5.66" fill="#c01e14"/>
<rect x="451.60" y="361.12" width="10.90" height="5.66" fill="#e02012"/>
<rect x="451.60" y="355.76" width="10.90" height="5.66" fill="#fc2410"/>
<rect x="451.60" y="350.40" width="10.90" height="5.66" fill="#ff3012"/>
<rect x="451.60" y="345.04" width="10.90" height="5.66" fill="#fc4016"/>
<rect x="451.60" y="339.68" width="10.90" height="5.66" fill="#f8541a"/>
<rect x="451.60" y="334.32" width="10.90" height="5.66" fill="#f4661e"/>
<rect x="451.60" y="328.96" width="10.90" height="5.66" fill="#f27224"/>
<rect x="451.60" y="323.60" width="10.90" height="5.66" fill="#f07a28"/>
<rect x="451.60" y="318.24" width="10.90" height="5.66" fill="#f0802c"/>
<rect x="451.60" y="312.88" width="10.90" height="5.66" fill="#ef8834"/>
<rect x="451.60" y="307.52" width="10.90" height="5.66" fill="#ee903c"/>
<rect x="451.60" y="302.16" width="10.90" height="5.66" fill="#ed9844"/>
<rect x="451.60" y="296.80" width="10.90" height="5.66" fill="#eba04e"/>
<rect x="451.60" y="291.44" width="10.90" height="5.66" fill="#eaa858"/>
<rect x="451.60" y="286.08" width="10.90" height="5.66" fill="#e9ae62"/>
<rect x="451.60" y="280.72" width="10.90" height="5.66" fill="#e9b46c"/>
<rect x="451.60" y="275.36" width="10.90" height="5.66" fill="#e9ba76"/>
<rect x="451.60" y="270.00" width="10.90" height="5.66" fill="#eac282"/>
<rect x="451.60" y="264.64" width="10.90" height="5.66" fill="#eaca8e"/>
<rect x="451.60" y="259.28" width="10.90" height="5.66" fill="#ebd29c"/>
<rect x="451.60" y="253.92" width="10.90" height="5.66" fill="#ecdcac"/>
<rect x="451.60" y="248.56" width="10.90" height="5.66" fill="#ede6bc"/>
<rect x="451.60" y="243.20" width="10.90" height="5.66" fill="#eef2d4"/>
<rect x="451.60" y="243.20" width="10.90" height="160.80" fill="none" stroke="#7a7a7a" stroke-width="0.8"/>
<line x1="462.50" y1="404.00" x2="465.70" y2="404.00" stroke="#333" stroke-width="0.7"/>
<text x="468.60" y="406.95" font-size="8.3" fill="#111">0</text>
<line x1="462.50" y1="371.84" x2="465.70" y2="371.84" stroke="#333" stroke-width="0.7"/>
<text x="468.60" y="374.79" font-size="8.3" fill="#111">0.2</text>
<line x1="462.50" y1="339.68" x2="465.70" y2="339.68" stroke="#333" stroke-width="0.7"/>
<text x="468.60" y="342.63" font-size="8.3" fill="#111">0.4</text>
<line x1="462.50" y1="307.52" x2="465.70" y2="307.52" stroke="#333" stroke-width="0.7"/>
<text x="468.60" y="310.47" font-size="8.3" fill="#111">0.6</text>
<line x1="462.50" y1="275.36" x2="465.70" y2="275.36" stroke="#333" stroke-width="0.7"/>
<text x="468.60" y="278.31" font-size="8.3" fill="#111">0.8</text>
<line x1="462.50" y1="243.20" x2="465.70" y2="243.20" stroke="#333" stroke-width="0.7"/>
<text x="468.60" y="246.15" font-size="8.3" fill="#111">1</text>
<line x1="276.90" y1="404.00" x2="279.90" y2="404.00" stroke="#333" stroke-width="0.7"/>
<text x="274.50" y="406.95" font-size="8.3" text-anchor="end" fill="#111">300</text>
<line x1="276.90" y1="363.80" x2="279.90" y2="363.80" stroke="#333" stroke-width="0.7"/>
<text x="274.50" y="366.75" font-size="8.3" text-anchor="end" fill="#111">320</text>
<line x1="276.90" y1="323.60" x2="279.90" y2="323.60" stroke="#333" stroke-width="0.7"/>
<text x="274.50" y="326.55" font-size="8.3" text-anchor="end" fill="#111">340</text>
<line x1="276.90" y1="283.40" x2="279.90" y2="283.40" stroke="#333" stroke-width="0.7"/>
<text x="274.50" y="286.35" font-size="8.3" text-anchor="end" fill="#111">360</text>
<line x1="276.90" y1="243.20" x2="279.90" y2="243.20" stroke="#333" stroke-width="0.7"/>
<text x="274.50" y="246.15" font-size="8.3" text-anchor="end" fill="#111">380</text>
<line x1="279.90" y1="404.00" x2="279.90" y2="407.00" stroke="#333" stroke-width="0.7"/>
<text x="279.90" y="416.80" font-size="8.3" text-anchor="middle" fill="#111">400</text>
<line x1="335.80" y1="404.00" x2="335.80" y2="407.00" stroke="#333" stroke-width="0.7"/>
<text x="335.80" y="416.80" font-size="8.3" text-anchor="middle" fill="#111">600</text>
<line x1="391.70" y1="404.00" x2="391.70" y2="407.00" stroke="#333" stroke-width="0.7"/>
<text x="391.70" y="416.80" font-size="8.3" text-anchor="middle" fill="#111">800</text>
<line x1="447.60" y1="404.00" x2="447.60" y2="407.00" stroke="#333" stroke-width="0.7"/>
<text x="447.60" y="416.80" font-size="8.3" text-anchor="middle" fill="#111">1000</text>
<text x="363.90" y="434.70" font-size="10.7" text-anchor="middle" fill="#111">Emission (nm)</text>
<text x="254.80" y="323.30" font-size="10.7" text-anchor="middle" fill="#111" transform="rotate(-90 254.80 323.30)">Excitation (nm)</text>
<text x="365.45" y="237.00" font-size="12.5" text-anchor="middle" fill="#111">2T-SiNC</text>
<clipPath id="ftop"><rect x="523.7" y="241.5" width="152.6" height="79.8"/></clipPath>
<clipPath id="fbot"><rect x="523.7" y="325.5" width="152.6" height="80.1"/></clipPath>
<g clip-path="url(#ftop)">
<path d="M525.9,243.2a1.65,1.65 0 1,0 -3.3,0a1.65,1.65 0 1,0 3.3,0M527.4,243.9a1.65,1.65 0 1,0 -3.3,0a1.65,1.65 0 1,0 3.3,0M528.5,244.4a1.65,1.65 0 1,0 -3.3,0a1.65,1.65 0 1,0 3.3,0M529.8,244.7a1.65,1.65 0 1,0 -3.3,0a1.65,1.65 0 1,0 3.3,0M530.3,245.0a1.65,1.65 0 1,0 -3.3,0a1.65,1.65 0 1,0 3.3,0M531.6,246.7a1.65,1.65 0 1,0 -3.3,0a1.65,1.65 0 1,0 3.3,0M533.1,245.0a1.65,1.65 0 1,0 -3.3,0a1.65,1.65 0 1,0 3.3,0M533.4,245.8a1.65,1.65 0 1,0 -3.3,0a1.65,1.65 0 1,0 3.3,0M535.0,246.5a1.65,1.65 0 1,0 -3.3,0a1.65,1.65 0 1,0 3.3,0M536.2,246.1a1.65,1.65 0 1,0 -3.3,0a1.65,1.65 0 1,0 3.3,0M537.2,247.4a1.65,1.65 0 1,0 -3.3,0a1.65,1.65 0 1,0 3.3,0M538.2,247.3a1.65,1.65 0 1,0 -3.3,0a1.65,1.65 0 1,0 3.3,0M539.0,248.1a1.65,1.65 0 1,0 -3.3,0a1.65,1.65 0 1,0 3.3,0M540.3,247.8a1.65,1.65 0 1,0 -3.3,0a1.65,1.65 0 1,0 3.3,0M541.6,248.4a1.65,1.65 0 1,0 -3.3,0a1.65,1.65 0 1,0 3.3,0M542.9,247.6a1.65,1.65 0 1,0 -3.3,0a1.65,1.65 0 1,0 3.3,0M543.5,248.3a1.65,1.65 0 1,0 -3.3,0a1.65,1.65 0 1,0 3.3,0M545.1,247.9a1.65,1.65 0 1,0 -3.3,0a1.65,1.65 0 1,0 3.3,0M546.1,248.8a1.65,1.65 0 1,0 -3.3,0a1.65,1.65 0 1,0 3.3,0M546.5,248.8a1.65,1.65 0 1,0 -3.3,0a1.65,1.65 0 1,0 3.3,0M548.4,248.3a1.65,1.65 0 1,0 -3.3,0a1.65,1.65 0 1,0 3.3,0M548.8,249.2a1.65,1.65 0 1,0 -3.3,0a1.65,1.65 0 1,0 3.3,0M550.1,248.8a1.65,1.65 0 1,0 -3.3,0a1.65,1.65 0 1,0 3.3,0M551.3,249.6a1.65,1.65 0 1,0 -3.3,0a1.65,1.65 0 1,0 3.3,0M552.3,250.0a1.65,1.65 0 1,0 -3.3,0a1.65,1.65 0 1,0 3.3,0M553.8,249.3a1.65,1.65 0 1,0 -3.3,0a1.65,1.65 0 1,0 3.3,0M554.8,250.5a1.65,1.65 0 1,0 -3.3,0a1.65,1.65 0 1,0 3.3,0M555.1,249.9a1.65,1.65 0 1,0 -3.3,0a1.65,1.65 0 1,0 3.3,0M557.0,251.1a1.65,1.65 0 1,0 -3.3,0a1.65,1.65 0 1,0 3.3,0M557.8,250.1a1.65,1.65 0 1,0 -3.3,0a1.65,1.65 0 1,0 3.3,0M559.0,250.7a1.65,1.65 0 1,0 -3.3,0a1.65,1.65 0 1,0 3.3,0M559.9,251.4a1.65,1.65 0 1,0 -3.3,0a1.65,1.65 0 1,0 3.3,0M560.7,251.5a1.65,1.65 0 1,0 -3.3,0a1.65,1.65 0 1,0 3.3,0M562.6,251.2a1.65,1.65 0 1,0 -3.3,0a1.65,1.65 0 1,0 3.3,0M562.7,251.0a1.65,1.65 0 1,0 -3.3,0a1.65,1.65 0 1,0 3.3,0M563.8,250.5a1.65,1.65 0 1,0 -3.3,0a1.65,1.65 0 1,0 3.3,0M565.1,251.1a1.65,1.65 0 1,0 -3.3,0a1.65,1.65 0 1,0 3.3,0M565.9,250.2a1.65,1.65 0 1,0 -3.3,0a1.65,1.65 0 1,0 3.3,0M567.6,251.9a1.65,1.65 0 1,0 -3.3,0a1.65,1.65 0 1,0 3.3,0M568.4,251.4a1.65,1.65 0 1,0 -3.3,0a1.65,1.65 0 1,0 3.3,0M570.0,251.9a1.65,1.65 0 1,0 -3.3,0a1.65,1.65 0 1,0 3.3,0M571.2,251.4a1.65,1.65 0 1,0 -3.3,0a1.65,1.65 0 1,0 3.3,0M571.6,252.0a1.65,1.65 0 1,0 -3.3,0a1.65,1.65 0 1,0 3.3,0M572.4,251.8a1.65,1.65 0 1,0 -3.3,0a1.65,1.65 0 1,0 3.3,0M573.6,251.1a1.65,1.65 0 1,0 -3.3,0a1.65,1.65 0 1,0 3.3,0M574.7,252.0a1.65,1.65 0 1,0 -3.3,0a1.65,1.65 0 1,0 3.3,0M575.6,252.0a1.65,1.65 0 1,0 -3.3,0a1.65,1.65 0 1,0 3.3,0M577.7,251.6a1.65,1.65 0 1,0 -3.3,0a1.65,1.65 0 1,0 3.3,0M578.7,251.6a1.65,1.65 0 1,0 -3.3,0a1.65,1.65 0 1,0 3.3,0M579.4,252.3a1.65,1.65 0 1,0 -3.3,0a1.65,1.65 0 1,0 3.3,0M580.6,251.6a1.65,1.65 0 1,0 -3.3,0a1.65,1.65 0 1,0 3.3,0M581.7,251.8a1.65,1.65 0 1,0 -3.3,0a1.65,1.65 0 1,0 3.3,0M583.1,251.8a1.65,1.65 0 1,0 -3.3,0a1.65,1.65 0 1,0 3.3,0M584.0,252.3a1.65,1.65 0 1,0 -3.3,0a1.65,1.65 0 1,0 3.3,0M584.5,251.9a1.65,1.65 0 1,0 -3.3,0a1.65,1.65 0 1,0 3.3,0M585.9,253.6a1.65,1.65 0 1,0 -3.3,0a1.65,1.65 0 1,0 3.3,0M587.0,253.0a1.65,1.65 0 1,0 -3.3,0a1.65,1.65 0 1,0 3.3,0M588.2,252.6a1.65,1.65 0 1,0 -3.3,0a1.65,1.65 0 1,0 3.3,0M588.6,252.2a1.65,1.65 0 1,0 -3.3,0a1.65,1.65 0 1,0 3.3,0M589.8,252.3a1.65,1.65 0 1,0 -3.3,0a1.65,1.65 0 1,0 3.3,0M591.5,252.2a1.65,1.65 0 1,0 -3.3,0a1.65,1.65 0 1,0 3.3,0M592.3,253.1a1.65,1.65 0 1,0 -3.3,0a1.65,1.65 0 1,0 3.3,0M593.7,253.0a1.65,1.65 0 1,0 -3.3,0a1.65,1.65 0 1,0 3.3,0M594.1,252.9a1.65,1.65 0 1,0 -3.3,0a1.65,1.65 0 1,0 3.3,0M595.9,253.5a1.65,1.65 0 1,0 -3.3,0a1.65,1.65 0 1,0 3.3,0M596.7,253.2a1.65,1.65 0 1,0 -3.3,0a1.65,1.65 0 1,0 3.3,0M598.0,253.1a1.65,1.65 0 1,0 -3.3,0a1.65,1.65 0 1,0 3.3,0M598.7,253.8a1.65,1.65 0 1,0 -3.3,0a1.65,1.65 0 1,0 3.3,0M599.9,253.2a1.65,1.65 0 1,0 -3.3,0a1.65,1.65 0 1,0 3.3,0M601.0,253.3a1.65,1.65 0 1,0 -3.3,0a1.65,1.65 0 1,0 3.3,0M602.5,254.2a1.65,1.65 0 1,0 -3.3,0a1.65,1.65 0 1,0 3.3,0M603.5,253.7a1.65,1.65 0 1,0 -3.3,0a1.65,1.65 0 1,0 3.3,0M604.2,253.8a1.65,1.65 0 1,0 -3.3,0a1.65,1.65 0 1,0 3.3,0M605.2,254.4a1.65,1.65 0 1,0 -3.3,0a1.65,1.65 0 1,0 3.3,0M606.2,253.0a1.65,1.65 0 1,0 -3.3,0a1.65,1.65 0 1,0 3.3,0M607.2,253.9a1.65,1.65 0 1,0 -3.3,0a1.65,1.65 0 1,0 3.3,0M608.5,253.2a1.65,1.65 0 1,0 -3.3,0a1.65,1.65 0 1,0 3.3,0M609.7,254.4a1.65,1.65 0 1,0 -3.3,0a1.65,1.65 0 1,0 3.3,0M611.3,253.8a1.65,1.65 0 1,0 -3.3,0a1.65,1.65 0 1,0 3.3,0M612.1,254.0a1.65,1.65 0 1,0 -3.3,0a1.65,1.65 0 1,0 3.3,0M613.5,253.4a1.65,1.65 0 1,0 -3.3,0a1.65,1.65 0 1,0 3.3,0M613.7,253.8a1.65,1.65 0 1,0 -3.3,0a1.65,1.65 0 1,0 3.3,0M615.3,254.0a1.65,1.65 0 1,0 -3.3,0a1.65,1.65 0 1,0 3.3,0M616.7,254.4a1.65,1.65 0 1,0 -3.3,0a1.65,1.65 0 1,0 3.3,0M617.0,253.5a1.65,1.65 0 1,0 -3.3,0a1.65,1.65 0 1,0 3.3,0M618.6,254.5a1.65,1.65 0 1,0 -3.3,0a1.65,1.65 0 1,0 3.3,0M619.9,253.6a1.65,1.65 0 1,0 -3.3,0a1.65,1.65 0 1,0 3.3,0M620.4,253.9a1.65,1.65 0 1,0 -3.3,0a1.65,1.65 0 1,0 3.3,0M622.1,253.7a1.65,1.65 0 1,0 -3.3,0a1.65,1.65 0 1,0 3.3,0M622.7,254.1a1.65,1.65 0 1,0 -3.3,0a1.65,1.65 0 1,0 3.3,0M623.8,252.9a1.65,1.65 0 1,0 -3.3,0a1.65,1.65 0 1,0 3.3,0M624.6,254.3a1.65,1.65 0 1,0 -3.3,0a1.65,1.65 0 1,0 3.3,0M625.5,254.6a1.65,1.65 0 1,0 -3.3,0a1.65,1.65 0 1,0 3.3,0M627.7,253.4a1.65,1.65 0 1,0 -3.3,0a1.65,1.65 0 1,0 3.3,0M628.2,254.7a1.65,1.65 0 1,0 -3.3,0a1.65,1.65 0 1,0 3.3,0M629.0,253.4a1.65,1.65 0 1,0 -3.3,0a1.65,1.65 0 1,0 3.3,0M630.7,254.1a1.65,1.65 0 1,0 -3.3,0a1.65,1.65 0 1,0 3.3,0M631.5,253.2a1.65,1.65 0 1,0 -3.3,0a1.65,1.65 0 1,0 3.3,0M632.4,253.6a1.65,1.65 0 1,0 -3.3,0a1.65,1.65 0 1,0 3.3,0M633.2,254.0a1.65,1.65 0 1,0 -3.3,0a1.65,1.65 0 1,0 3.3,0M634.9,253.6a1.65,1.65 0 1,0 -3.3,0a1.65,1.65 0 1,0 3.3,0M635.4,254.6a1.65,1.65 0 1,0 -3.3,0a1.65,1.65 0 1,0 3.3,0M637.4,253.4a1.65,1.65 0 1,0 -3.3,0a1.65,1.65 0 1,0 3.3,0M638.5,252.8a1.65,1.65 0 1,0 -3.3,0a1.65,1.65 0 1,0 3.3,0M639.5,253.7a1.65,1.65 0 1,0 -3.3,0a1.65,1.65 0 1,0 3.3,0M640.5,253.8a1.65,1.65 0 1,0 -3.3,0a1.65,1.65 0 1,0 3.3,0M640.9,253.6a1.65,1.65 0 1,0 -3.3,0a1.65,1.65 0 1,0 3.3,0M642.4,254.4a1.65,1.65 0 1,0 -3.3,0a1.65,1.65 0 1,0 3.3,0M643.4,254.4a1.65,1.65 0 1,0 -3.3,0a1.65,1.65 0 1,0 3.3,0M644.4,253.6a1.65,1.65 0 1,0 -3.3,0a1.65,1.65 0 1,0 3.3,0M645.4,254.2a1.65,1.65 0 1,0 -3.3,0a1.65,1.65 0 1,0 3.3,0M647.0,253.4a1.65,1.65 0 1,0 -3.3,0a1.65,1.65 0 1,0 3.3,0M647.6,254.0a1.65,1.65 0 1,0 -3.3,0a1.65,1.65 0 1,0 3.3,0M649.2,254.4a1.65,1.65 0 1,0 -3.3,0a1.65,1.65 0 1,0 3.3,0M649.6,254.1a1.65,1.65 0 1,0 -3.3,0a1.65,1.65 0 1,0 3.3,0M651.4,252.9a1.65,1.65 0 1,0 -3.3,0a1.65,1.65 0 1,0 3.3,0M652.5,254.5a1.65,1.65 0 1,0 -3.3,0a1.65,1.65 0 1,0 3.3,0M653.6,253.9a1.65,1.65 0 1,0 -3.3,0a1.65,1.65 0 1,0 3.3,0M653.8,253.8a1.65,1.65 0 1,0 -3.3,0a1.65,1.65 0 1,0 3.3,0M655.4,254.2a1.65,1.65 0 1,0 -3.3,0a1.65,1.65 0 1,0 3.3,0M656.4,253.1a1.65,1.65 0 1,0 -3.3,0a1.65,1.65 0 1,0 3.3,0M657.0,254.0a1.65,1.65 0 1,0 -3.3,0a1.65,1.65 0 1,0 3.3,0M658.2,254.1a1.65,1.65 0 1,0 -3.3,0a1.65,1.65 0 1,0 3.3,0M659.3,254.1a1.65,1.65 0 1,0 -3.3,0a1.65,1.65 0 1,0 3.3,0M661.3,254.0a1.65,1.65 0 1,0 -3.3,0a1.65,1.65 0 1,0 3.3,0M661.9,253.8a1.65,1.65 0 1,0 -3.3,0a1.65,1.65 0 1,0 3.3,0M662.8,253.8a1.65,1.65 0 1,0 -3.3,0a1.65,1.65 0 1,0 3.3,0M664.2,254.3a1.65,1.65 0 1,0 -3.3,0a1.65,1.65 0 1,0 3.3,0M665.3,253.7a1.65,1.65 0 1,0 -3.3,0a1.65,1.65 0 1,0 3.3,0M666.1,254.2a1.65,1.65 0 1,0 -3.3,0a1.65,1.65 0 1,0 3.3,0M666.9,253.3a1.65,1.65 0 1,0 -3.3,0a1.65,1.65 0 1,0 3.3,0M668.3,253.7a1.65,1.65 0 1,0 -3.3,0a1.65,1.65 0 1,0 3.3,0M669.1,254.1a1.65,1.65 0 1,0 -3.3,0a1.65,1.65 0 1,0 3.3,0M670.7,254.4a1.65,1.65 0 1,0 -3.3,0a1.65,1.65 0 1,0 3.3,0M672.0,253.4a1.65,1.65 0 1,0 -3.3,0a1.65,1.65 0 1,0 3.3,0M672.9,254.5a1.65,1.65 0 1,0 -3.3,0a1.65,1.65 0 1,0 3.3,0M673.8,253.6a1.65,1.65 0 1,0 -3.3,0a1.65,1.65 0 1,0 3.3,0M675.2,254.4a1.65,1.65 0 1,0 -3.3,0a1.65,1.65 0 1,0 3.3,0M675.9,253.8a1.65,1.65 0 1,0 -3.3,0a1.65,1.65 0 1,0 3.3,0M676.8,253.5a1.65,1.65 0 1,0 -3.3,0a1.65,1.65 0 1,0 3.3,0" fill="none" stroke="#a8a8a8" stroke-width="0.55" opacity="0.8"/>
<path d="M526.2,245.6a1.65,1.65 0 1,0 -3.3,0a1.65,1.65 0 1,0 3.3,0M527.1,248.6a1.65,1.65 0 1,0 -3.3,0a1.65,1.65 0 1,0 3.3,0M528.1,252.8a1.65,1.65 0 1,0 -3.3,0a1.65,1.65 0 1,0 3.3,0M529.1,253.3a1.65,1.65 0 1,0 -3.3,0a1.65,1.65 0 1,0 3.3,0M530.6,257.7a1.65,1.65 0 1,0 -3.3,0a1.65,1.65 0 1,0 3.3,0M531.2,258.0a1.65,1.65 0 1,0 -3.3,0a1.65,1.65 0 1,0 3.3,0M531.9,260.1a1.65,1.65 0 1,0 -3.3,0a1.65,1.65 0 1,0 3.3,0M533.6,261.5a1.65,1.65 0 1,0 -3.3,0a1.65,1.65 0 1,0 3.3,0M534.6,262.7a1.65,1.65 0 1,0 -3.3,0a1.65,1.65 0 1,0 3.3,0M535.3,262.9a1.65,1.65 0 1,0 -3.3,0a1.65,1.65 0 1,0 3.3,0M535.9,264.5a1.65,1.65 0 1,0 -3.3,0a1.65,1.65 0 1,0 3.3,0M536.9,265.4a1.65,1.65 0 1,0 -3.3,0a1.65,1.65 0 1,0 3.3,0M538.6,267.3a1.65,1.65 0 1,0 -3.3,0a1.65,1.65 0 1,0 3.3,0M538.9,267.3a1.65,1.65 0 1,0 -3.3,0a1.65,1.65 0 1,0 3.3,0M540.7,268.9a1.65,1.65 0 1,0 -3.3,0a1.65,1.65 0 1,0 3.3,0M541.7,269.7a1.65,1.65 0 1,0 -3.3,0a1.65,1.65 0 1,0 3.3,0M542.0,270.5a1.65,1.65 0 1,0 -3.3,0a1.65,1.65 0 1,0 3.3,0M543.7,269.4a1.65,1.65 0 1,0 -3.3,0a1.65,1.65 0 1,0 3.3,0M544.9,269.7a1.65,1.65 0 1,0 -3.3,0a1.65,1.65 0 1,0 3.3,0M544.9,270.5a1.65,1.65 0 1,0 -3.3,0a1.65,1.65 0 1,0 3.3,0M546.7,270.8a1.65,1.65 0 1,0 -3.3,0a1.65,1.65 0 1,0 3.3,0M547.0,272.6a1.65,1.65 0 1,0 -3.3,0a1.65,1.65 0 1,0 3.3,0M548.7,274.1a1.65,1.65 0 1,0 -3.3,0a1.65,1.65 0 1,0 3.3,0M549.3,273.9a1.65,1.65 0 1,0 -3.3,0a1.65,1.65 0 1,0 3.3,0M550.5,275.3a1.65,1.65 0 1,0 -3.3,0a1.65,1.65 0 1,0 3.3,0M551.2,274.4a1.65,1.65 0 1,0 -3.3,0a1.65,1.65 0 1,0 3.3,0M552.2,274.2a1.65,1.65 0 1,0 -3.3,0a1.65,1.65 0 1,0 3.3,0M553.4,274.9a1.65,1.65 0 1,0 -3.3,0a1.65,1.65 0 1,0 3.3,0M554.4,275.8a1.65,1.65 0 1,0 -3.3,0a1.65,1.65 0 1,0 3.3,0M555.5,278.1a1.65,1.65 0 1,0 -3.3,0a1.65,1.65 0 1,0 3.3,0M556.1,274.0a1.65,1.65 0 1,0 -3.3,0a1.65,1.65 0 1,0 3.3,0M557.5,278.3a1.65,1.65 0 1,0 -3.3,0a1.65,1.65 0 1,0 3.3,0M558.8,280.2a1.65,1.65 0 1,0 -3.3,0a1.65,1.65 0 1,0 3.3,0M559.9,281.4a1.65,1.65 0 1,0 -3.3,0a1.65,1.65 0 1,0 3.3,0M560.8,278.2a1.65,1.65 0 1,0 -3.3,0a1.65,1.65 0 1,0 3.3,0M561.8,280.1a1.65,1.65 0 1,0 -3.3,0a1.65,1.65 0 1,0 3.3,0M563.0,281.1a1.65,1.65 0 1,0 -3.3,0a1.65,1.65 0 1,0 3.3,0M563.9,281.6a1.65,1.65 0 1,0 -3.3,0a1.65,1.65 0 1,0 3.3,0M565.1,279.7a1.65,1.65 0 1,0 -3.3,0a1.65,1.65 0 1,0 3.3,0M565.9,281.5a1.65,1.65 0 1,0 -3.3,0a1.65,1.65 0 1,0 3.3,0M566.4,281.7a1.65,1.65 0 1,0 -3.3,0a1.65,1.65 0 1,0 3.3,0M567.8,283.5a1.65,1.65 0 1,0 -3.3,0a1.65,1.65 0 1,0 3.3,0M568.5,282.9a1.65,1.65 0 1,0 -3.3,0a1.65,1.65 0 1,0 3.3,0M570.2,285.8a1.65,1.65 0 1,0 -3.3,0a1.65,1.65 0 1,0 3.3,0M570.5,282.8a1.65,1.65 0 1,0 -3.3,0a1.65,1.65 0 1,0 3.3,0M572.1,282.1a1.65,1.65 0 1,0 -3.3,0a1.65,1.65 0 1,0 3.3,0M572.9,284.0a1.65,1.65 0 1,0 -3.3,0a1.65,1.65 0 1,0 3.3,0M573.3,285.5a1.65,1.65 0 1,0 -3.3,0a1.65,1.65 0 1,0 3.3,0M574.8,284.0a1.65,1.65 0 1,0 -3.3,0a1.65,1.65 0 1,0 3.3,0M575.7,285.9a1.65,1.65 0 1,0 -3.3,0a1.65,1.65 0 1,0 3.3,0M576.6,285.6a1.65,1.65 0 1,0 -3.3,0a1.65,1.65 0 1,0 3.3,0M578.3,285.0a1.65,1.65 0 1,0 -3.3,0a1.65,1.65 0 1,0 3.3,0M578.8,284.4a1.65,1.65 0 1,0 -3.3,0a1.65,1.65 0 1,0 3.3,0M580.2,285.4a1.65,1.65 0 1,0 -3.3,0a1.65,1.65 0 1,0 3.3,0M581.2,284.8a1.65,1.65 0 1,0 -3.3,0a1.65,1.65 0 1,0 3.3,0M582.1,286.4a1.65,1.65 0 1,0 -3.3,0a1.65,1.65 0 1,0 3.3,0M583.3,284.9a1.65,1.65 0 1,0 -3.3,0a1.65,1.65 0 1,0 3.3,0M584.4,289.9a1.65,1.65 0 1,0 -3.3,0a1.65,1.65 0 1,0 3.3,0M584.9,288.2a1.65,1.65 0 1,0 -3.3,0a1.65,1.65 0 1,0 3.3,0M586.2,289.9a1.65,1.65 0 1,0 -3.3,0a1.65,1.65 0 1,0 3.3,0M587.1,292.7a1.65,1.65 0 1,0 -3.3,0a1.65,1.65 0 1,0 3.3,0M587.7,287.8a1.65,1.65 0 1,0 -3.3,0a1.65,1.65 0 1,0 3.3,0M588.7,289.0a1.65,1.65 0 1,0 -3.3,0a1.65,1.65 0 1,0 3.3,0M590.2,291.0a1.65,1.65 0 1,0 -3.3,0a1.65,1.65 0 1,0 3.3,0M591.4,291.3a1.65,1.65 0 1,0 -3.3,0a1.65,1.65 0 1,0 3.3,0M592.4,289.2a1.65,1.65 0 1,0 -3.3,0a1.65,1.65 0 1,0 3.3,0M592.8,287.1a1.65,1.65 0 1,0 -3.3,0a1.65,1.65 0 1,0 3.3,0M593.6,292.3a1.65,1.65 0 1,0 -3.3,0a1.65,1.65 0 1,0 3.3,0M594.7,291.8a1.65,1.65 0 1,0 -3.3,0a1.65,1.65 0 1,0 3.3,0M595.9,289.5a1.65,1.65 0 1,0 -3.3,0a1.65,1.65 0 1,0 3.3,0M597.2,291.5a1.65,1.65 0 1,0 -3.3,0a1.65,1.65 0 1,0 3.3,0M597.9,291.6a1.65,1.65 0 1,0 -3.3,0a1.65,1.65 0 1,0 3.3,0M599.1,290.5a1.65,1.65 0 1,0 -3.3,0a1.65,1.65 0 1,0 3.3,0M600.2,292.6a1.65,1.65 0 1,0 -3.3,0a1.65,1.65 0 1,0 3.3,0M601.6,290.4a1.65,1.65 0 1,0 -3.3,0a1.65,1.65 0 1,0 3.3,0M601.8,294.8a1.65,1.65 0 1,0 -3.3,0a1.65,1.65 0 1,0 3.3,0M602.9,292.5a1.65,1.65 0 1,0 -3.3,0a1.65,1.65 0 1,0 3.3,0M604.6,292.5a1.65,1.65 0 1,0 -3.3,0a1.65,1.65 0 1,0 3.3,0M605.6,298.9a1.65,1.65 0 1,0 -3.3,0a1.65,1.65 0 1,0 3.3,0M606.1,297.5a1.65,1.65 0 1,0 -3.3,0a1.65,1.65 0 1,0 3.3,0M607.5,294.4a1.65,1.65 0 1,0 -3.3,0a1.65,1.65 0 1,0 3.3,0M608.4,292.3a1.65,1.65 0 1,0 -3.3,0a1.65,1.65 0 1,0 3.3,0M609.4,295.5a1.65,1.65 0 1,0 -3.3,0a1.65,1.65 0 1,0 3.3,0M610.5,293.1a1.65,1.65 0 1,0 -3.3,0a1.65,1.65 0 1,0 3.3,0M611.7,293.9a1.65,1.65 0 1,0 -3.3,0a1.65,1.65 0 1,0 3.3,0M611.9,292.5a1.65,1.65 0 1,0 -3.3,0a1.65,1.65 0 1,0 3.3,0M613.3,293.3a1.65,1.65 0 1,0 -3.3,0a1.65,1.65 0 1,0 3.3,0M614.5,299.4a1.65,1.65 0 1,0 -3.3,0a1.65,1.65 0 1,0 3.3,0M615.4,297.8a1.65,1.65 0 1,0 -3.3,0a1.65,1.65 0 1,0 3.3,0M616.5,300.0a1.65,1.65 0 1,0 -3.3,0a1.65,1.65 0 1,0 3.3,0M617.0,299.6a1.65,1.65 0 1,0 -3.3,0a1.65,1.65 0 1,0 3.3,0M618.0,294.5a1.65,1.65 0 1,0 -3.3,0a1.65,1.65 0 1,0 3.3,0M619.8,298.8a1.65,1.65 0 1,0 -3.3,0a1.65,1.65 0 1,0 3.3,0M620.6,299.2a1.65,1.65 0 1,0 -3.3,0a1.65,1.65 0 1,0 3.3,0M621.5,294.0a1.65,1.65 0 1,0 -3.3,0a1.65,1.65 0 1,0 3.3,0M622.4,296.4a1.65,1.65 0 1,0 -3.3,0a1.65,1.65 0 1,0 3.3,0M623.2,298.3a1.65,1.65 0 1,0 -3.3,0a1.65,1.65 0 1,0 3.3,0M624.7,298.9a1.65,1.65 0 1,0 -3.3,0a1.65,1.65 0 1,0 3.3,0M625.7,294.1a1.65,1.65 0 1,0 -3.3,0a1.65,1.65 0 1,0 3.3,0M626.3,297.1a1.65,1.65 0 1,0 -3.3,0a1.65,1.65 0 1,0 3.3,0M627.3,294.5a1.65,1.65 0 1,0 -3.3,0a1.65,1.65 0 1,0 3.3,0M628.0,302.1a1.65,1.65 0 1,0 -3.3,0a1.65,1.65 0 1,0 3.3,0M629.5,298.8a1.65,1.65 0 1,0 -3.3,0a1.65,1.65 0 1,0 3.3,0M630.4,303.3a1.65,1.65 0 1,0 -3.3,0a1.65,1.65 0 1,0 3.3,0M631.4,296.4a1.65,1.65 0 1,0 -3.3,0a1.65,1.65 0 1,0 3.3,0M632.8,301.1a1.65,1.65 0 1,0 -3.3,0a1.65,1.65 0 1,0 3.3,0M633.4,300.1a1.65,1.65 0 1,0 -3.3,0a1.65,1.65 0 1,0 3.3,0M634.4,298.4a1.65,1.65 0 1,0 -3.3,0a1.65,1.65 0 1,0 3.3,0M635.2,303.0a1.65,1.65 0 1,0 -3.3,0a1.65,1.65 0 1,0 3.3,0M636.8,302.8a1.65,1.65 0 1,0 -3.3,0a1.65,1.65 0 1,0 3.3,0M637.3,300.9a1.65,1.65 0 1,0 -3.3,0a1.65,1.65 0 1,0 3.3,0M638.9,302.6a1.65,1.65 0 1,0 -3.3,0a1.65,1.65 0 1,0 3.3,0M640.0,300.1a1.65,1.65 0 1,0 -3.3,0a1.65,1.65 0 1,0 3.3,0M640.3,296.7a1.65,1.65 0 1,0 -3.3,0a1.65,1.65 0 1,0 3.3,0M641.6,301.3a1.65,1.65 0 1,0 -3.3,0a1.65,1.65 0 1,0 3.3,0M642.8,303.3a1.65,1.65 0 1,0 -3.3,0a1.65,1.65 0 1,0 3.3,0M643.4,300.3a1.65,1.65 0 1,0 -3.3,0a1.65,1.65 0 1,0 3.3,0M644.2,304.9a1.65,1.65 0 1,0 -3.3,0a1.65,1.65 0 1,0 3.3,0M646.0,305.4a1.65,1.65 0 1,0 -3.3,0a1.65,1.65 0 1,0 3.3,0M646.6,296.5a1.65,1.65 0 1,0 -3.3,0a1.65,1.65 0 1,0 3.3,0M647.8,297.3a1.65,1.65 0 1,0 -3.3,0a1.65,1.65 0 1,0 3.3,0M649.3,298.8a1.65,1.65 0 1,0 -3.3,0a1.65,1.65 0 1,0 3.3,0M650.0,299.1a1.65,1.65 0 1,0 -3.3,0a1.65,1.65 0 1,0 3.3,0M650.8,305.6a1.65,1.65 0 1,0 -3.3,0a1.65,1.65 0 1,0 3.3,0M651.9,300.7a1.65,1.65 0 1,0 -3.3,0a1.65,1.65 0 1,0 3.3,0M653.1,300.6a1.65,1.65 0 1,0 -3.3,0a1.65,1.65 0 1,0 3.3,0M654.0,297.7a1.65,1.65 0 1,0 -3.3,0a1.65,1.65 0 1,0 3.3,0M654.8,301.0a1.65,1.65 0 1,0 -3.3,0a1.65,1.65 0 1,0 3.3,0M655.6,300.2a1.65,1.65 0 1,0 -3.3,0a1.65,1.65 0 1,0 3.3,0M656.9,300.8a1.65,1.65 0 1,0 -3.3,0a1.65,1.65 0 1,0 3.3,0M658.0,297.8a1.65,1.65 0 1,0 -3.3,0a1.65,1.65 0 1,0 3.3,0M659.4,302.2a1.65,1.65 0 1,0 -3.3,0a1.65,1.65 0 1,0 3.3,0M660.3,304.1a1.65,1.65 0 1,0 -3.3,0a1.65,1.65 0 1,0 3.3,0M661.1,304.5a1.65,1.65 0 1,0 -3.3,0a1.65,1.65 0 1,0 3.3,0M661.5,299.8a1.65,1.65 0 1,0 -3.3,0a1.65,1.65 0 1,0 3.3,0M662.5,302.5a1.65,1.65 0 1,0 -3.3,0a1.65,1.65 0 1,0 3.3,0M664.0,303.1a1.65,1.65 0 1,0 -3.3,0a1.65,1.65 0 1,0 3.3,0M665.4,300.1a1.65,1.65 0 1,0 -3.3,0a1.65,1.65 0 1,0 3.3,0M666.2,304.5a1.65,1.65 0 1,0 -3.3,0a1.65,1.65 0 1,0 3.3,0M667.1,304.9a1.65,1.65 0 1,0 -3.3,0a1.65,1.65 0 1,0 3.3,0M668.5,300.2a1.65,1.65 0 1,0 -3.3,0a1.65,1.65 0 1,0 3.3,0M668.9,296.9a1.65,1.65 0 1,0 -3.3,0a1.65,1.65 0 1,0 3.3,0M670.4,305.8a1.65,1.65 0 1,0 -3.3,0a1.65,1.65 0 1,0 3.3,0M671.0,299.0a1.65,1.65 0 1,0 -3.3,0a1.65,1.65 0 1,0 3.3,0M672.3,299.9a1.65,1.65 0 1,0 -3.3,0a1.65,1.65 0 1,0 3.3,0M672.6,301.3a1.65,1.65 0 1,0 -3.3,0a1.65,1.65 0 1,0 3.3,0M673.7,301.6a1.65,1.65 0 1,0 -3.3,0a1.65,1.65 0 1,0 3.3,0M675.1,302.6a1.65,1.65 0 1,0 -3.3,0a1.65,1.65 0 1,0 3.3,0M676.3,298.5a1.65,1.65 0 1,0 -3.3,0a1.65,1.65 0 1,0 3.3,0M677.3,300.6a1.65,1.65 0 1,0 -3.3,0a1.65,1.65 0 1,0 3.3,0" fill="none" stroke="#f0cc80" stroke-width="0.55" opacity="0.9"/>
<path d="M525.9,244.3a1.65,1.65 0 1,0 -3.3,0a1.65,1.65 0 1,0 3.3,0M527.0,250.9a1.65,1.65 0 1,0 -3.3,0a1.65,1.65 0 1,0 3.3,0M527.7,254.5a1.65,1.65 0 1,0 -3.3,0a1.65,1.65 0 1,0 3.3,0M528.8,256.5a1.65,1.65 0 1,0 -3.3,0a1.65,1.65 0 1,0 3.3,0M529.8,258.9a1.65,1.65 0 1,0 -3.3,0a1.65,1.65 0 1,0 3.3,0M530.6,261.5a1.65,1.65 0 1,0 -3.3,0a1.65,1.65 0 1,0 3.3,0M531.4,263.6a1.65,1.65 0 1,0 -3.3,0a1.65,1.65 0 1,0 3.3,0M532.4,267.0a1.65,1.65 0 1,0 -3.3,0a1.65,1.65 0 1,0 3.3,0M533.7,267.8a1.65,1.65 0 1,0 -3.3,0a1.65,1.65 0 1,0 3.3,0M534.4,268.9a1.65,1.65 0 1,0 -3.3,0a1.65,1.65 0 1,0 3.3,0M535.5,269.5a1.65,1.65 0 1,0 -3.3,0a1.65,1.65 0 1,0 3.3,0M536.2,270.3a1.65,1.65 0 1,0 -3.3,0a1.65,1.65 0 1,0 3.3,0M537.2,270.7a1.65,1.65 0 1,0 -3.3,0a1.65,1.65 0 1,0 3.3,0M538.0,272.0a1.65,1.65 0 1,0 -3.3,0a1.65,1.65 0 1,0 3.3,0M539.4,271.6a1.65,1.65 0 1,0 -3.3,0a1.65,1.65 0 1,0 3.3,0M539.9,275.0a1.65,1.65 0 1,0 -3.3,0a1.65,1.65 0 1,0 3.3,0M541.2,274.9a1.65,1.65 0 1,0 -3.3,0a1.65,1.65 0 1,0 3.3,0M542.7,276.5a1.65,1.65 0 1,0 -3.3,0a1.65,1.65 0 1,0 3.3,0M543.0,277.9a1.65,1.65 0 1,0 -3.3,0a1.65,1.65 0 1,0 3.3,0M543.9,278.2a1.65,1.65 0 1,0 -3.3,0a1.65,1.65 0 1,0 3.3,0M545.2,277.9a1.65,1.65 0 1,0 -3.3,0a1.65,1.65 0 1,0 3.3,0M545.6,279.3a1.65,1.65 0 1,0 -3.3,0a1.65,1.65 0 1,0 3.3,0M547.2,279.5a1.65,1.65 0 1,0 -3.3,0a1.65,1.65 0 1,0 3.3,0M547.9,283.3a1.65,1.65 0 1,0 -3.3,0a1.65,1.65 0 1,0 3.3,0M549.3,281.2a1.65,1.65 0 1,0 -3.3,0a1.65,1.65 0 1,0 3.3,0M549.7,283.1a1.65,1.65 0 1,0 -3.3,0a1.65,1.65 0 1,0 3.3,0M551.1,281.8a1.65,1.65 0 1,0 -3.3,0a1.65,1.65 0 1,0 3.3,0M551.4,281.9a1.65,1.65 0 1,0 -3.3,0a1.65,1.65 0 1,0 3.3,0M552.9,286.4a1.65,1.65 0 1,0 -3.3,0a1.65,1.65 0 1,0 3.3,0M553.2,283.7a1.65,1.65 0 1,0 -3.3,0a1.65,1.65 0 1,0 3.3,0M554.2,285.7a1.65,1.65 0 1,0 -3.3,0a1.65,1.65 0 1,0 3.3,0M555.1,286.0a1.65,1.65 0 1,0 -3.3,0a1.65,1.65 0 1,0 3.3,0M556.1,283.5a1.65,1.65 0 1,0 -3.3,0a1.65,1.65 0 1,0 3.3,0M557.2,282.9a1.65,1.65 0 1,0 -3.3,0a1.65,1.65 0 1,0 3.3,0M558.9,283.8a1.65,1.65 0 1,0 -3.3,0a1.65,1.65 0 1,0 3.3,0M559.8,288.7a1.65,1.65 0 1,0 -3.3,0a1.65,1.65 0 1,0 3.3,0M560.7,290.5a1.65,1.65 0 1,0 -3.3,0a1.65,1.65 0 1,0 3.3,0M561.4,289.3a1.65,1.65 0 1,0 -3.3,0a1.65,1.65 0 1,0 3.3,0M562.6,291.1a1.65,1.65 0 1,0 -3.3,0a1.65,1.65 0 1,0 3.3,0M563.5,290.9a1.65,1.65 0 1,0 -3.3,0a1.65,1.65 0 1,0 3.3,0M563.8,288.4a1.65,1.65 0 1,0 -3.3,0a1.65,1.65 0 1,0 3.3,0M565.2,292.0a1.65,1.65 0 1,0 -3.3,0a1.65,1.65 0 1,0 3.3,0M566.4,293.0a1.65,1.65 0 1,0 -3.3,0a1.65,1.65 0 1,0 3.3,0M567.2,295.1a1.65,1.65 0 1,0 -3.3,0a1.65,1.65 0 1,0 3.3,0M568.2,286.6a1.65,1.65 0 1,0 -3.3,0a1.65,1.65 0 1,0 3.3,0M568.7,290.4a1.65,1.65 0 1,0 -3.3,0a1.65,1.65 0 1,0 3.3,0M569.7,293.3a1.65,1.65 0 1,0 -3.3,0a1.65,1.65 0 1,0 3.3,0M570.8,297.7a1.65,1.65 0 1,0 -3.3,0a1.65,1.65 0 1,0 3.3,0M571.5,295.5a1.65,1.65 0 1,0 -3.3,0a1.65,1.65 0 1,0 3.3,0M572.8,297.8a1.65,1.65 0 1,0 -3.3,0a1.65,1.65 0 1,0 3.3,0M573.8,292.1a1.65,1.65 0 1,0 -3.3,0a1.65,1.65 0 1,0 3.3,0M574.2,296.8a1.65,1.65 0 1,0 -3.3,0a1.65,1.65 0 1,0 3.3,0M575.7,298.5a1.65,1.65 0 1,0 -3.3,0a1.65,1.65 0 1,0 3.3,0M576.7,296.3a1.65,1.65 0 1,0 -3.3,0a1.65,1.65 0 1,0 3.3,0M577.6,298.0a1.65,1.65 0 1,0 -3.3,0a1.65,1.65 0 1,0 3.3,0M578.7,298.0a1.65,1.65 0 1,0 -3.3,0a1.65,1.65 0 1,0 3.3,0M579.5,301.5a1.65,1.65 0 1,0 -3.3,0a1.65,1.65 0 1,0 3.3,0M580.2,293.2a1.65,1.65 0 1,0 -3.3,0a1.65,1.65 0 1,0 3.3,0M581.6,297.6a1.65,1.65 0 1,0 -3.3,0a1.65,1.65 0 1,0 3.3,0M582.1,295.2a1.65,1.65 0 1,0 -3.3,0a1.65,1.65 0 1,0 3.3,0M582.7,291.9a1.65,1.65 0 1,0 -3.3,0a1.65,1.65 0 1,0 3.3,0M583.7,303.2a1.65,1.65 0 1,0 -3.3,0a1.65,1.65 0 1,0 3.3,0M585.1,300.1a1.65,1.65 0 1,0 -3.3,0a1.65,1.65 0 1,0 3.3,0M586.1,300.3a1.65,1.65 0 1,0 -3.3,0a1.65,1.65 0 1,0 3.3,0M586.7,301.4a1.65,1.65 0 1,0 -3.3,0a1.65,1.65 0 1,0 3.3,0M588.0,300.6a1.65,1.65 0 1,0 -3.3,0a1.65,1.65 0 1,0 3.3,0M588.9,302.8a1.65,1.65 0 1,0 -3.3,0a1.65,1.65 0 1,0 3.3,0M590.2,301.0a1.65,1.65 0 1,0 -3.3,0a1.65,1.65 0 1,0 3.3,0M590.5,297.5a1.65,1.65 0 1,0 -3.3,0a1.65,1.65 0 1,0 3.3,0M591.9,300.0a1.65,1.65 0 1,0 -3.3,0a1.65,1.65 0 1,0 3.3,0M592.7,302.7a1.65,1.65 0 1,0 -3.3,0a1.65,1.65 0 1,0 3.3,0M593.3,297.5a1.65,1.65 0 1,0 -3.3,0a1.65,1.65 0 1,0 3.3,0M594.2,308.1a1.65,1.65 0 1,0 -3.3,0a1.65,1.65 0 1,0 3.3,0M595.1,305.7a1.65,1.65 0 1,0 -3.3,0a1.65,1.65 0 1,0 3.3,0M596.0,305.2a1.65,1.65 0 1,0 -3.3,0a1.65,1.65 0 1,0 3.3,0M597.7,302.8a1.65,1.65 0 1,0 -3.3,0a1.65,1.65 0 1,0 3.3,0M597.9,300.8a1.65,1.65 0 1,0 -3.3,0a1.65,1.65 0 1,0 3.3,0M599.6,304.6a1.65,1.65 0 1,0 -3.3,0a1.65,1.65 0 1,0 3.3,0M600.3,300.0a1.65,1.65 0 1,0 -3.3,0a1.65,1.65 0 1,0 3.3,0M601.5,299.2a1.65,1.65 0 1,0 -3.3,0a1.65,1.65 0 1,0 3.3,0M602.0,301.0a1.65,1.65 0 1,0 -3.3,0a1.65,1.65 0 1,0 3.3,0M602.7,302.0a1.65,1.65 0 1,0 -3.3,0a1.65,1.65 0 1,0 3.3,0M604.3,298.8a1.65,1.65 0 1,0 -3.3,0a1.65,1.65 0 1,0 3.3,0M604.7,300.8a1.65,1.65 0 1,0 -3.3,0a1.65,1.65 0 1,0 3.3,0M606.0,298.8a1.65,1.65 0 1,0 -3.3,0a1.65,1.65 0 1,0 3.3,0M606.5,306.8a1.65,1.65 0 1,0 -3.3,0a1.65,1.65 0 1,0 3.3,0M607.7,304.0a1.65,1.65 0 1,0 -3.3,0a1.65,1.65 0 1,0 3.3,0M608.8,306.0a1.65,1.65 0 1,0 -3.3,0a1.65,1.65 0 1,0 3.3,0M609.9,300.8a1.65,1.65 0 1,0 -3.3,0a1.65,1.65 0 1,0 3.3,0M610.8,308.9a1.65,1.65 0 1,0 -3.3,0a1.65,1.65 0 1,0 3.3,0M611.4,298.3a1.65,1.65 0 1,0 -3.3,0a1.65,1.65 0 1,0 3.3,0M612.4,317.4a1.65,1.65 0 1,0 -3.3,0a1.65,1.65 0 1,0 3.3,0M613.5,309.2a1.65,1.65 0 1,0 -3.3,0a1.65,1.65 0 1,0 3.3,0M614.2,308.3a1.65,1.65 0 1,0 -3.3,0a1.65,1.65 0 1,0 3.3,0M615.8,305.9a1.65,1.65 0 1,0 -3.3,0a1.65,1.65 0 1,0 3.3,0M616.8,299.1a1.65,1.65 0 1,0 -3.3,0a1.65,1.65 0 1,0 3.3,0M617.4,312.1a1.65,1.65 0 1,0 -3.3,0a1.65,1.65 0 1,0 3.3,0M618.2,305.5a1.65,1.65 0 1,0 -3.3,0a1.65,1.65 0 1,0 3.3,0M619.7,316.1a1.65,1.65 0 1,0 -3.3,0a1.65,1.65 0 1,0 3.3,0M620.2,302.2a1.65,1.65 0 1,0 -3.3,0a1.65,1.65 0 1,0 3.3,0M621.4,296.3a1.65,1.65 0 1,0 -3.3,0a1.65,1.65 0 1,0 3.3,0M622.5,316.0a1.65,1.65 0 1,0 -3.3,0a1.65,1.65 0 1,0 3.3,0M622.8,310.7a1.65,1.65 0 1,0 -3.3,0a1.65,1.65 0 1,0 3.3,0M623.6,307.3a1.65,1.65 0 1,0 -3.3,0a1.65,1.65 0 1,0 3.3,0M625.1,307.2a1.65,1.65 0 1,0 -3.3,0a1.65,1.65 0 1,0 3.3,0M626.0,313.4a1.65,1.65 0 1,0 -3.3,0a1.65,1.65 0 1,0 3.3,0M626.4,308.6a1.65,1.65 0 1,0 -3.3,0a1.65,1.65 0 1,0 3.3,0M627.7,305.6a1.65,1.65 0 1,0 -3.3,0a1.65,1.65 0 1,0 3.3,0M628.6,308.6a1.65,1.65 0 1,0 -3.3,0a1.65,1.65 0 1,0 3.3,0M629.5,302.3a1.65,1.65 0 1,0 -3.3,0a1.65,1.65 0 1,0 3.3,0M630.2,307.9a1.65,1.65 0 1,0 -3.3,0a1.65,1.65 0 1,0 3.3,0M631.2,313.3a1.65,1.65 0 1,0 -3.3,0a1.65,1.65 0 1,0 3.3,0M632.2,309.9a1.65,1.65 0 1,0 -3.3,0a1.65,1.65 0 1,0 3.3,0M633.9,303.3a1.65,1.65 0 1,0 -3.3,0a1.65,1.65 0 1,0 3.3,0M634.9,312.6a1.65,1.65 0 1,0 -3.3,0a1.65,1.65 0 1,0 3.3,0M635.1,307.0a1.65,1.65 0 1,0 -3.3,0a1.65,1.65 0 1,0 3.3,0M636.1,305.0a1.65,1.65 0 1,0 -3.3,0a1.65,1.65 0 1,0 3.3,0M637.3,311.2a1.65,1.65 0 1,0 -3.3,0a1.65,1.65 0 1,0 3.3,0M638.1,312.2a1.65,1.65 0 1,0 -3.3,0a1.65,1.65 0 1,0 3.3,0M639.1,307.6a1.65,1.65 0 1,0 -3.3,0a1.65,1.65 0 1,0 3.3,0M640.5,311.5a1.65,1.65 0 1,0 -3.3,0a1.65,1.65 0 1,0 3.3,0M640.8,307.1a1.65,1.65 0 1,0 -3.3,0a1.65,1.65 0 1,0 3.3,0M642.3,312.6a1.65,1.65 0 1,0 -3.3,0a1.65,1.65 0 1,0 3.3,0M643.0,310.6a1.65,1.65 0 1,0 -3.3,0a1.65,1.65 0 1,0 3.3,0M644.0,311.2a1.65,1.65 0 1,0 -3.3,0a1.65,1.65 0 1,0 3.3,0M644.6,311.7a1.65,1.65 0 1,0 -3.3,0a1.65,1.65 0 1,0 3.3,0M646.1,299.5a1.65,1.65 0 1,0 -3.3,0a1.65,1.65 0 1,0 3.3,0M647.0,313.1a1.65,1.65 0 1,0 -3.3,0a1.65,1.65 0 1,0 3.3,0M648.2,313.3a1.65,1.65 0 1,0 -3.3,0a1.65,1.65 0 1,0 3.3,0M648.2,311.3a1.65,1.65 0 1,0 -3.3,0a1.65,1.65 0 1,0 3.3,0M649.6,310.1a1.65,1.65 0 1,0 -3.3,0a1.65,1.65 0 1,0 3.3,0M650.6,312.0a1.65,1.65 0 1,0 -3.3,0a1.65,1.65 0 1,0 3.3,0M651.1,309.8a1.65,1.65 0 1,0 -3.3,0a1.65,1.65 0 1,0 3.3,0M652.8,313.9a1.65,1.65 0 1,0 -3.3,0a1.65,1.65 0 1,0 3.3,0M653.3,311.0a1.65,1.65 0 1,0 -3.3,0a1.65,1.65 0 1,0 3.3,0M654.3,312.3a1.65,1.65 0 1,0 -3.3,0a1.65,1.65 0 1,0 3.3,0M655.4,307.1a1.65,1.65 0 1,0 -3.3,0a1.65,1.65 0 1,0 3.3,0M656.6,303.2a1.65,1.65 0 1,0 -3.3,0a1.65,1.65 0 1,0 3.3,0M657.0,315.8a1.65,1.65 0 1,0 -3.3,0a1.65,1.65 0 1,0 3.3,0M658.5,316.5a1.65,1.65 0 1,0 -3.3,0a1.65,1.65 0 1,0 3.3,0M659.1,313.9a1.65,1.65 0 1,0 -3.3,0a1.65,1.65 0 1,0 3.3,0M659.9,306.8a1.65,1.65 0 1,0 -3.3,0a1.65,1.65 0 1,0 3.3,0M660.7,317.2a1.65,1.65 0 1,0 -3.3,0a1.65,1.65 0 1,0 3.3,0M662.4,312.0a1.65,1.65 0 1,0 -3.3,0a1.65,1.65 0 1,0 3.3,0M663.3,305.5a1.65,1.65 0 1,0 -3.3,0a1.65,1.65 0 1,0 3.3,0M664.3,312.7a1.65,1.65 0 1,0 -3.3,0a1.65,1.65 0 1,0 3.3,0M665.1,308.1a1.65,1.65 0 1,0 -3.3,0a1.65,1.65 0 1,0 3.3,0M665.8,308.9a1.65,1.65 0 1,0 -3.3,0a1.65,1.65 0 1,0 3.3,0M666.4,314.0a1.65,1.65 0 1,0 -3.3,0a1.65,1.65 0 1,0 3.3,0M668.1,317.2a1.65,1.65 0 1,0 -3.3,0a1.65,1.65 0 1,0 3.3,0M668.7,308.3a1.65,1.65 0 1,0 -3.3,0a1.65,1.65 0 1,0 3.3,0M669.5,313.6a1.65,1.65 0 1,0 -3.3,0a1.65,1.65 0 1,0 3.3,0M670.8,301.7a1.65,1.65 0 1,0 -3.3,0a1.65,1.65 0 1,0 3.3,0M671.1,314.6a1.65,1.65 0 1,0 -3.3,0a1.65,1.65 0 1,0 3.3,0M672.2,307.4a1.65,1.65 0 1,0 -3.3,0a1.65,1.65 0 1,0 3.3,0M673.7,311.0a1.65,1.65 0 1,0 -3.3,0a1.65,1.65 0 1,0 3.3,0M674.6,316.8a1.65,1.65 0 1,0 -3.3,0a1.65,1.65 0 1,0 3.3,0M674.8,309.3a1.65,1.65 0 1,0 -3.3,0a1.65,1.65 0 1,0 3.3,0M676.3,307.2a1.65,1.65 0 1,0 -3.3,0a1.65,1.65 0 1,0 3.3,0M677.0,310.2a1.65,1.65 0 1,0 -3.3,0a1.65,1.65 0 1,0 3.3,0" fill="none" stroke="#f09a90" stroke-width="0.55" opacity="0.9"/>
<path d="M523.90,243.50 C526.48,244.22 533.58,246.60 539.40,247.80 C545.22,249.00 552.32,250.00 558.80,250.70 C565.28,251.40 571.43,251.52 578.30,252.00 C585.17,252.48 583.72,253.27 600.00,253.60 C616.28,253.93 663.33,253.93 676.00,254.00" fill="none" stroke="#5e5e5e" stroke-width="1.1" stroke-linejoin="round" stroke-linecap="round"/>
<path d="M523.90,243.50 C524.17,244.42 524.85,247.00 525.50,249.00 C526.15,251.00 526.77,253.28 527.80,255.50 C528.83,257.72 529.77,260.03 531.70,262.30 C533.63,264.57 536.50,266.98 539.40,269.10 C542.30,271.22 545.87,273.22 549.10,275.00 C552.33,276.78 553.93,277.87 558.80,279.80 C563.67,281.73 571.77,284.52 578.30,286.60 C584.83,288.68 591.48,290.53 598.00,292.30 C604.52,294.07 610.93,295.90 617.40,297.20 C623.87,298.50 630.35,299.47 636.80,300.10 C643.25,300.73 649.65,300.82 656.10,301.00 C662.55,301.18 672.27,301.17 675.50,301.20" fill="none" stroke="#e0a020" stroke-width="1.25" stroke-linejoin="round" stroke-linecap="round"/>
<path d="M523.90,243.50 C524.17,244.83 524.85,248.85 525.50,251.50 C526.15,254.15 526.77,256.78 527.80,259.40 C528.83,262.02 529.77,264.60 531.70,267.20 C533.63,269.80 536.50,272.42 539.40,275.00 C542.30,277.58 545.87,280.45 549.10,282.70 C552.33,284.95 553.93,286.07 558.80,288.50 C563.67,290.93 571.77,294.72 578.30,297.30 C584.83,299.88 591.48,302.25 598.00,304.00 C604.52,305.75 610.93,306.77 617.40,307.80 C623.87,308.83 630.35,309.62 636.80,310.20 C643.25,310.78 649.65,311.05 656.10,311.30 C662.55,311.55 672.27,311.63 675.50,311.70" fill="none" stroke="#ee2a14" stroke-width="1.25" stroke-linejoin="round" stroke-linecap="round"/>
</g>
<g clip-path="url(#fbot)">
<path d="M526.1,328.2a1.65,1.65 0 1,0 -3.3,0a1.65,1.65 0 1,0 3.3,0M527.1,341.1a1.65,1.65 0 1,0 -3.3,0a1.65,1.65 0 1,0 3.3,0M528.2,351.7a1.65,1.65 0 1,0 -3.3,0a1.65,1.65 0 1,0 3.3,0M529.2,361.0a1.65,1.65 0 1,0 -3.3,0a1.65,1.65 0 1,0 3.3,0M530.3,369.4a1.65,1.65 0 1,0 -3.3,0a1.65,1.65 0 1,0 3.3,0M531.0,372.4a1.65,1.65 0 1,0 -3.3,0a1.65,1.65 0 1,0 3.3,0M531.8,379.2a1.65,1.65 0 1,0 -3.3,0a1.65,1.65 0 1,0 3.3,0M532.8,379.6a1.65,1.65 0 1,0 -3.3,0a1.65,1.65 0 1,0 3.3,0M534.8,390.6a1.65,1.65 0 1,0 -3.3,0a1.65,1.65 0 1,0 3.3,0M535.4,388.5a1.65,1.65 0 1,0 -3.3,0a1.65,1.65 0 1,0 3.3,0M535.9,391.9a1.65,1.65 0 1,0 -3.3,0a1.65,1.65 0 1,0 3.3,0M536.9,390.1a1.65,1.65 0 1,0 -3.3,0a1.65,1.65 0 1,0 3.3,0M538.0,390.5a1.65,1.65 0 1,0 -3.3,0a1.65,1.65 0 1,0 3.3,0M539.3,391.6a1.65,1.65 0 1,0 -3.3,0a1.65,1.65 0 1,0 3.3,0M540.3,392.9a1.65,1.65 0 1,0 -3.3,0a1.65,1.65 0 1,0 3.3,0M541.5,390.0a1.65,1.65 0 1,0 -3.3,0a1.65,1.65 0 1,0 3.3,0M542.4,390.9a1.65,1.65 0 1,0 -3.3,0a1.65,1.65 0 1,0 3.3,0M543.2,390.2a1.65,1.65 0 1,0 -3.3,0a1.65,1.65 0 1,0 3.3,0M544.9,396.0a1.65,1.65 0 1,0 -3.3,0a1.65,1.65 0 1,0 3.3,0M545.6,392.1a1.65,1.65 0 1,0 -3.3,0a1.65,1.65 0 1,0 3.3,0M546.2,392.5a1.65,1.65 0 1,0 -3.3,0a1.65,1.65 0 1,0 3.3,0M547.0,388.1a1.65,1.65 0 1,0 -3.3,0a1.65,1.65 0 1,0 3.3,0M548.8,397.3a1.65,1.65 0 1,0 -3.3,0a1.65,1.65 0 1,0 3.3,0M549.8,403.4a1.65,1.65 0 1,0 -3.3,0a1.65,1.65 0 1,0 3.3,0M550.2,389.3a1.65,1.65 0 1,0 -3.3,0a1.65,1.65 0 1,0 3.3,0M552.0,382.7a1.65,1.65 0 1,0 -3.3,0a1.65,1.65 0 1,0 3.3,0M552.6,386.0a1.65,1.65 0 1,0 -3.3,0a1.65,1.65 0 1,0 3.3,0M553.1,397.4a1.65,1.65 0 1,0 -3.3,0a1.65,1.65 0 1,0 3.3,0M554.8,403.2a1.65,1.65 0 1,0 -3.3,0a1.65,1.65 0 1,0 3.3,0M555.1,384.4a1.65,1.65 0 1,0 -3.3,0a1.65,1.65 0 1,0 3.3,0M556.6,384.6a1.65,1.65 0 1,0 -3.3,0a1.65,1.65 0 1,0 3.3,0M557.8,392.1a1.65,1.65 0 1,0 -3.3,0a1.65,1.65 0 1,0 3.3,0M558.2,385.0a1.65,1.65 0 1,0 -3.3,0a1.65,1.65 0 1,0 3.3,0M559.4,394.8a1.65,1.65 0 1,0 -3.3,0a1.65,1.65 0 1,0 3.3,0M560.4,385.0a1.65,1.65 0 1,0 -3.3,0a1.65,1.65 0 1,0 3.3,0M561.5,392.1a1.65,1.65 0 1,0 -3.3,0a1.65,1.65 0 1,0 3.3,0M562.2,385.0a1.65,1.65 0 1,0 -3.3,0a1.65,1.65 0 1,0 3.3,0M563.4,386.9a1.65,1.65 0 1,0 -3.3,0a1.65,1.65 0 1,0 3.3,0M564.5,403.3a1.65,1.65 0 1,0 -3.3,0a1.65,1.65 0 1,0 3.3,0M565.3,385.5a1.65,1.65 0 1,0 -3.3,0a1.65,1.65 0 1,0 3.3,0M566.8,389.0a1.65,1.65 0 1,0 -3.3,0a1.65,1.65 0 1,0 3.3,0M568.2,391.0a1.65,1.65 0 1,0 -3.3,0a1.65,1.65 0 1,0 3.3,0M569.1,384.0a1.65,1.65 0 1,0 -3.3,0a1.65,1.65 0 1,0 3.3,0M570.1,385.6a1.65,1.65 0 1,0 -3.3,0a1.65,1.65 0 1,0 3.3,0M570.4,397.0a1.65,1.65 0 1,0 -3.3,0a1.65,1.65 0 1,0 3.3,0M571.4,396.1a1.65,1.65 0 1,0 -3.3,0a1.65,1.65 0 1,0 3.3,0M572.9,383.2a1.65,1.65 0 1,0 -3.3,0a1.65,1.65 0 1,0 3.3,0M573.3,385.4a1.65,1.65 0 1,0 -3.3,0a1.65,1.65 0 1,0 3.3,0M575.0,395.1a1.65,1.65 0 1,0 -3.3,0a1.65,1.65 0 1,0 3.3,0M575.9,384.4a1.65,1.65 0 1,0 -3.3,0a1.65,1.65 0 1,0 3.3,0M577.0,403.3a1.65,1.65 0 1,0 -3.3,0a1.65,1.65 0 1,0 3.3,0M578.2,386.1a1.65,1.65 0 1,0 -3.3,0a1.65,1.65 0 1,0 3.3,0M579.3,381.8a1.65,1.65 0 1,0 -3.3,0a1.65,1.65 0 1,0 3.3,0M579.6,382.5a1.65,1.65 0 1,0 -3.3,0a1.65,1.65 0 1,0 3.3,0M580.5,390.9a1.65,1.65 0 1,0 -3.3,0a1.65,1.65 0 1,0 3.3,0M581.5,396.2a1.65,1.65 0 1,0 -3.3,0a1.65,1.65 0 1,0 3.3,0M583.4,392.9a1.65,1.65 0 1,0 -3.3,0a1.65,1.65 0 1,0 3.3,0M584.0,382.1a1.65,1.65 0 1,0 -3.3,0a1.65,1.65 0 1,0 3.3,0M584.4,393.1a1.65,1.65 0 1,0 -3.3,0a1.65,1.65 0 1,0 3.3,0M586.4,403.6a1.65,1.65 0 1,0 -3.3,0a1.65,1.65 0 1,0 3.3,0M587.1,393.6a1.65,1.65 0 1,0 -3.3,0a1.65,1.65 0 1,0 3.3,0M587.8,382.7a1.65,1.65 0 1,0 -3.3,0a1.65,1.65 0 1,0 3.3,0M589.0,396.4a1.65,1.65 0 1,0 -3.3,0a1.65,1.65 0 1,0 3.3,0M590.2,394.6a1.65,1.65 0 1,0 -3.3,0a1.65,1.65 0 1,0 3.3,0M591.4,392.8a1.65,1.65 0 1,0 -3.3,0a1.65,1.65 0 1,0 3.3,0M592.4,388.4a1.65,1.65 0 1,0 -3.3,0a1.65,1.65 0 1,0 3.3,0M593.3,391.0a1.65,1.65 0 1,0 -3.3,0a1.65,1.65 0 1,0 3.3,0M594.2,391.1a1.65,1.65 0 1,0 -3.3,0a1.65,1.65 0 1,0 3.3,0M595.2,402.6a1.65,1.65 0 1,0 -3.3,0a1.65,1.65 0 1,0 3.3,0M596.5,387.9a1.65,1.65 0 1,0 -3.3,0a1.65,1.65 0 1,0 3.3,0M597.3,388.8a1.65,1.65 0 1,0 -3.3,0a1.65,1.65 0 1,0 3.3,0M598.4,402.5a1.65,1.65 0 1,0 -3.3,0a1.65,1.65 0 1,0 3.3,0M599.4,402.9a1.65,1.65 0 1,0 -3.3,0a1.65,1.65 0 1,0 3.3,0M599.9,389.7a1.65,1.65 0 1,0 -3.3,0a1.65,1.65 0 1,0 3.3,0M601.3,385.7a1.65,1.65 0 1,0 -3.3,0a1.65,1.65 0 1,0 3.3,0M601.7,392.7a1.65,1.65 0 1,0 -3.3,0a1.65,1.65 0 1,0 3.3,0M602.9,396.4a1.65,1.65 0 1,0 -3.3,0a1.65,1.65 0 1,0 3.3,0M604.3,396.2a1.65,1.65 0 1,0 -3.3,0a1.65,1.65 0 1,0 3.3,0M605.0,384.8a1.65,1.65 0 1,0 -3.3,0a1.65,1.65 0 1,0 3.3,0M606.1,396.6a1.65,1.65 0 1,0 -3.3,0a1.65,1.65 0 1,0 3.3,0M607.6,391.1a1.65,1.65 0 1,0 -3.3,0a1.65,1.65 0 1,0 3.3,0M608.1,389.7a1.65,1.65 0 1,0 -3.3,0a1.65,1.65 0 1,0 3.3,0M609.6,393.2a1.65,1.65 0 1,0 -3.3,0a1.65,1.65 0 1,0 3.3,0M610.7,384.3a1.65,1.65 0 1,0 -3.3,0a1.65,1.65 0 1,0 3.3,0M611.2,385.0a1.65,1.65 0 1,0 -3.3,0a1.65,1.65 0 1,0 3.3,0M612.2,389.6a1.65,1.65 0 1,0 -3.3,0a1.65,1.65 0 1,0 3.3,0M613.1,397.7a1.65,1.65 0 1,0 -3.3,0a1.65,1.65 0 1,0 3.3,0M614.3,403.0a1.65,1.65 0 1,0 -3.3,0a1.65,1.65 0 1,0 3.3,0M614.9,382.2a1.65,1.65 0 1,0 -3.3,0a1.65,1.65 0 1,0 3.3,0M616.6,386.6a1.65,1.65 0 1,0 -3.3,0a1.65,1.65 0 1,0 3.3,0M617.7,403.4a1.65,1.65 0 1,0 -3.3,0a1.65,1.65 0 1,0 3.3,0M617.9,385.4a1.65,1.65 0 1,0 -3.3,0a1.65,1.65 0 1,0 3.3,0M619.0,403.4a1.65,1.65 0 1,0 -3.3,0a1.65,1.65 0 1,0 3.3,0M620.5,391.9a1.65,1.65 0 1,0 -3.3,0a1.65,1.65 0 1,0 3.3,0M621.6,397.3a1.65,1.65 0 1,0 -3.3,0a1.65,1.65 0 1,0 3.3,0M622.6,389.3a1.65,1.65 0 1,0 -3.3,0a1.65,1.65 0 1,0 3.3,0M623.1,402.7a1.65,1.65 0 1,0 -3.3,0a1.65,1.65 0 1,0 3.3,0M624.1,387.2a1.65,1.65 0 1,0 -3.3,0a1.65,1.65 0 1,0 3.3,0M625.7,391.6a1.65,1.65 0 1,0 -3.3,0a1.65,1.65 0 1,0 3.3,0M626.7,394.6a1.65,1.65 0 1,0 -3.3,0a1.65,1.65 0 1,0 3.3,0M627.9,403.3a1.65,1.65 0 1,0 -3.3,0a1.65,1.65 0 1,0 3.3,0M628.9,383.6a1.65,1.65 0 1,0 -3.3,0a1.65,1.65 0 1,0 3.3,0M629.5,396.5a1.65,1.65 0 1,0 -3.3,0a1.65,1.65 0 1,0 3.3,0M630.4,396.0a1.65,1.65 0 1,0 -3.3,0a1.65,1.65 0 1,0 3.3,0M631.8,389.2a1.65,1.65 0 1,0 -3.3,0a1.65,1.65 0 1,0 3.3,0M632.7,393.4a1.65,1.65 0 1,0 -3.3,0a1.65,1.65 0 1,0 3.3,0M633.9,393.3a1.65,1.65 0 1,0 -3.3,0a1.65,1.65 0 1,0 3.3,0M634.3,397.7a1.65,1.65 0 1,0 -3.3,0a1.65,1.65 0 1,0 3.3,0M636.1,394.5a1.65,1.65 0 1,0 -3.3,0a1.65,1.65 0 1,0 3.3,0M636.4,395.6a1.65,1.65 0 1,0 -3.3,0a1.65,1.65 0 1,0 3.3,0M637.5,402.8a1.65,1.65 0 1,0 -3.3,0a1.65,1.65 0 1,0 3.3,0M638.9,382.0a1.65,1.65 0 1,0 -3.3,0a1.65,1.65 0 1,0 3.3,0M640.0,403.3a1.65,1.65 0 1,0 -3.3,0a1.65,1.65 0 1,0 3.3,0M641.0,387.0a1.65,1.65 0 1,0 -3.3,0a1.65,1.65 0 1,0 3.3,0M642.0,384.0a1.65,1.65 0 1,0 -3.3,0a1.65,1.65 0 1,0 3.3,0M642.7,395.4a1.65,1.65 0 1,0 -3.3,0a1.65,1.65 0 1,0 3.3,0M643.9,389.6a1.65,1.65 0 1,0 -3.3,0a1.65,1.65 0 1,0 3.3,0M645.2,403.3a1.65,1.65 0 1,0 -3.3,0a1.65,1.65 0 1,0 3.3,0M645.5,392.0a1.65,1.65 0 1,0 -3.3,0a1.65,1.65 0 1,0 3.3,0M646.8,390.7a1.65,1.65 0 1,0 -3.3,0a1.65,1.65 0 1,0 3.3,0M647.6,395.4a1.65,1.65 0 1,0 -3.3,0a1.65,1.65 0 1,0 3.3,0M649.2,395.5a1.65,1.65 0 1,0 -3.3,0a1.65,1.65 0 1,0 3.3,0M650.3,391.0a1.65,1.65 0 1,0 -3.3,0a1.65,1.65 0 1,0 3.3,0M650.5,389.8a1.65,1.65 0 1,0 -3.3,0a1.65,1.65 0 1,0 3.3,0M651.9,403.6a1.65,1.65 0 1,0 -3.3,0a1.65,1.65 0 1,0 3.3,0M653.3,388.1a1.65,1.65 0 1,0 -3.3,0a1.65,1.65 0 1,0 3.3,0M654.1,389.6a1.65,1.65 0 1,0 -3.3,0a1.65,1.65 0 1,0 3.3,0M655.0,402.9a1.65,1.65 0 1,0 -3.3,0a1.65,1.65 0 1,0 3.3,0M656.3,385.9a1.65,1.65 0 1,0 -3.3,0a1.65,1.65 0 1,0 3.3,0M656.8,388.7a1.65,1.65 0 1,0 -3.3,0a1.65,1.65 0 1,0 3.3,0M658.2,389.4a1.65,1.65 0 1,0 -3.3,0a1.65,1.65 0 1,0 3.3,0M658.7,391.7a1.65,1.65 0 1,0 -3.3,0a1.65,1.65 0 1,0 3.3,0M660.3,394.4a1.65,1.65 0 1,0 -3.3,0a1.65,1.65 0 1,0 3.3,0M660.4,385.2a1.65,1.65 0 1,0 -3.3,0a1.65,1.65 0 1,0 3.3,0M662.1,387.4a1.65,1.65 0 1,0 -3.3,0a1.65,1.65 0 1,0 3.3,0M663.1,403.1a1.65,1.65 0 1,0 -3.3,0a1.65,1.65 0 1,0 3.3,0M664.2,389.9a1.65,1.65 0 1,0 -3.3,0a1.65,1.65 0 1,0 3.3,0M664.7,390.3a1.65,1.65 0 1,0 -3.3,0a1.65,1.65 0 1,0 3.3,0M665.9,388.3a1.65,1.65 0 1,0 -3.3,0a1.65,1.65 0 1,0 3.3,0M667.0,384.9a1.65,1.65 0 1,0 -3.3,0a1.65,1.65 0 1,0 3.3,0M668.2,390.2a1.65,1.65 0 1,0 -3.3,0a1.65,1.65 0 1,0 3.3,0M669.4,395.6a1.65,1.65 0 1,0 -3.3,0a1.65,1.65 0 1,0 3.3,0M669.8,394.9a1.65,1.65 0 1,0 -3.3,0a1.65,1.65 0 1,0 3.3,0M671.5,386.7a1.65,1.65 0 1,0 -3.3,0a1.65,1.65 0 1,0 3.3,0M672.5,398.0a1.65,1.65 0 1,0 -3.3,0a1.65,1.65 0 1,0 3.3,0M673.5,385.4a1.65,1.65 0 1,0 -3.3,0a1.65,1.65 0 1,0 3.3,0M674.3,383.1a1.65,1.65 0 1,0 -3.3,0a1.65,1.65 0 1,0 3.3,0M675.5,394.5a1.65,1.65 0 1,0 -3.3,0a1.65,1.65 0 1,0 3.3,0M675.8,392.8a1.65,1.65 0 1,0 -3.3,0a1.65,1.65 0 1,0 3.3,0M676.7,392.8a1.65,1.65 0 1,0 -3.3,0a1.65,1.65 0 1,0 3.3,0" fill="none" stroke="#8c8c8c" stroke-width="0.6"/>
<path d="M526.0,328.1a1.65,1.65 0 1,0 -3.3,0a1.65,1.65 0 1,0 3.3,0M526.6,332.8a1.65,1.65 0 1,0 -3.3,0a1.65,1.65 0 1,0 3.3,0M527.3,341.3a1.65,1.65 0 1,0 -3.3,0a1.65,1.65 0 1,0 3.3,0M528.7,354.0a1.65,1.65 0 1,0 -3.3,0a1.65,1.65 0 1,0 3.3,0M529.4,355.6a1.65,1.65 0 1,0 -3.3,0a1.65,1.65 0 1,0 3.3,0M530.2,359.4a1.65,1.65 0 1,0 -3.3,0a1.65,1.65 0 1,0 3.3,0M530.6,361.4a1.65,1.65 0 1,0 -3.3,0a1.65,1.65 0 1,0 3.3,0M532.0,368.6a1.65,1.65 0 1,0 -3.3,0a1.65,1.65 0 1,0 3.3,0M532.1,369.0a1.65,1.65 0 1,0 -3.3,0a1.65,1.65 0 1,0 3.3,0M533.4,371.6a1.65,1.65 0 1,0 -3.3,0a1.65,1.65 0 1,0 3.3,0M533.9,370.4a1.65,1.65 0 1,0 -3.3,0a1.65,1.65 0 1,0 3.3,0M534.5,377.1a1.65,1.65 0 1,0 -3.3,0a1.65,1.65 0 1,0 3.3,0M535.3,379.1a1.65,1.65 0 1,0 -3.3,0a1.65,1.65 0 1,0 3.3,0M536.1,377.9a1.65,1.65 0 1,0 -3.3,0a1.65,1.65 0 1,0 3.3,0M537.6,382.6a1.65,1.65 0 1,0 -3.3,0a1.65,1.65 0 1,0 3.3,0M538.0,381.9a1.65,1.65 0 1,0 -3.3,0a1.65,1.65 0 1,0 3.3,0M538.6,382.0a1.65,1.65 0 1,0 -3.3,0a1.65,1.65 0 1,0 3.3,0M539.4,387.0a1.65,1.65 0 1,0 -3.3,0a1.65,1.65 0 1,0 3.3,0M540.6,387.6a1.65,1.65 0 1,0 -3.3,0a1.65,1.65 0 1,0 3.3,0M541.5,387.8a1.65,1.65 0 1,0 -3.3,0a1.65,1.65 0 1,0 3.3,0M542.0,385.3a1.65,1.65 0 1,0 -3.3,0a1.65,1.65 0 1,0 3.3,0M542.8,389.5a1.65,1.65 0 1,0 -3.3,0a1.65,1.65 0 1,0 3.3,0M543.6,391.8a1.65,1.65 0 1,0 -3.3,0a1.65,1.65 0 1,0 3.3,0M544.8,390.0a1.65,1.65 0 1,0 -3.3,0a1.65,1.65 0 1,0 3.3,0M545.6,388.9a1.65,1.65 0 1,0 -3.3,0a1.65,1.65 0 1,0 3.3,0M545.9,388.5a1.65,1.65 0 1,0 -3.3,0a1.65,1.65 0 1,0 3.3,0M547.0,383.4a1.65,1.65 0 1,0 -3.3,0a1.65,1.65 0 1,0 3.3,0M547.4,389.9a1.65,1.65 0 1,0 -3.3,0a1.65,1.65 0 1,0 3.3,0M548.7,382.0a1.65,1.65 0 1,0 -3.3,0a1.65,1.65 0 1,0 3.3,0M549.5,390.1a1.65,1.65 0 1,0 -3.3,0a1.65,1.65 0 1,0 3.3,0M549.8,387.9a1.65,1.65 0 1,0 -3.3,0a1.65,1.65 0 1,0 3.3,0M551.1,403.0a1.65,1.65 0 1,0 -3.3,0a1.65,1.65 0 1,0 3.3,0M551.8,403.1a1.65,1.65 0 1,0 -3.3,0a1.65,1.65 0 1,0 3.3,0M552.3,392.0a1.65,1.65 0 1,0 -3.3,0a1.65,1.65 0 1,0 3.3,0M552.9,384.9a1.65,1.65 0 1,0 -3.3,0a1.65,1.65 0 1,0 3.3,0M553.9,397.3a1.65,1.65 0 1,0 -3.3,0a1.65,1.65 0 1,0 3.3,0M554.8,384.3a1.65,1.65 0 1,0 -3.3,0a1.65,1.65 0 1,0 3.3,0M556.0,384.6a1.65,1.65 0 1,0 -3.3,0a1.65,1.65 0 1,0 3.3,0M556.6,381.6a1.65,1.65 0 1,0 -3.3,0a1.65,1.65 0 1,0 3.3,0M557.1,387.1a1.65,1.65 0 1,0 -3.3,0a1.65,1.65 0 1,0 3.3,0M557.8,403.6a1.65,1.65 0 1,0 -3.3,0a1.65,1.65 0 1,0 3.3,0M559.2,389.8a1.65,1.65 0 1,0 -3.3,0a1.65,1.65 0 1,0 3.3,0M559.3,394.5a1.65,1.65 0 1,0 -3.3,0a1.65,1.65 0 1,0 3.3,0M560.7,385.3a1.65,1.65 0 1,0 -3.3,0a1.65,1.65 0 1,0 3.3,0M561.3,391.8a1.65,1.65 0 1,0 -3.3,0a1.65,1.65 0 1,0 3.3,0M561.9,396.3a1.65,1.65 0 1,0 -3.3,0a1.65,1.65 0 1,0 3.3,0M562.6,395.9a1.65,1.65 0 1,0 -3.3,0a1.65,1.65 0 1,0 3.3,0M563.5,390.0a1.65,1.65 0 1,0 -3.3,0a1.65,1.65 0 1,0 3.3,0M564.6,385.0a1.65,1.65 0 1,0 -3.3,0a1.65,1.65 0 1,0 3.3,0M565.1,392.8a1.65,1.65 0 1,0 -3.3,0a1.65,1.65 0 1,0 3.3,0M566.2,396.1a1.65,1.65 0 1,0 -3.3,0a1.65,1.65 0 1,0 3.3,0M566.8,388.7a1.65,1.65 0 1,0 -3.3,0a1.65,1.65 0 1,0 3.3,0M568.0,391.8a1.65,1.65 0 1,0 -3.3,0a1.65,1.65 0 1,0 3.3,0M568.8,394.0a1.65,1.65 0 1,0 -3.3,0a1.65,1.65 0 1,0 3.3,0M569.2,396.4a1.65,1.65 0 1,0 -3.3,0a1.65,1.65 0 1,0 3.3,0M570.3,387.2a1.65,1.65 0 1,0 -3.3,0a1.65,1.65 0 1,0 3.3,0M570.7,390.8a1.65,1.65 0 1,0 -3.3,0a1.65,1.65 0 1,0 3.3,0M571.3,396.4a1.65,1.65 0 1,0 -3.3,0a1.65,1.65 0 1,0 3.3,0M572.7,396.5a1.65,1.65 0 1,0 -3.3,0a1.65,1.65 0 1,0 3.3,0M573.3,387.8a1.65,1.65 0 1,0 -3.3,0a1.65,1.65 0 1,0 3.3,0M573.7,386.6a1.65,1.65 0 1,0 -3.3,0a1.65,1.65 0 1,0 3.3,0M575.2,390.4a1.65,1.65 0 1,0 -3.3,0a1.65,1.65 0 1,0 3.3,0M575.7,390.3a1.65,1.65 0 1,0 -3.3,0a1.65,1.65 0 1,0 3.3,0M576.6,385.6a1.65,1.65 0 1,0 -3.3,0a1.65,1.65 0 1,0 3.3,0M577.2,392.8a1.65,1.65 0 1,0 -3.3,0a1.65,1.65 0 1,0 3.3,0M577.8,403.3a1.65,1.65 0 1,0 -3.3,0a1.65,1.65 0 1,0 3.3,0M578.7,394.0a1.65,1.65 0 1,0 -3.3,0a1.65,1.65 0 1,0 3.3,0M579.8,387.5a1.65,1.65 0 1,0 -3.3,0a1.65,1.65 0 1,0 3.3,0M580.1,388.8a1.65,1.65 0 1,0 -3.3,0a1.65,1.65 0 1,0 3.3,0M581.0,387.1a1.65,1.65 0 1,0 -3.3,0a1.65,1.65 0 1,0 3.3,0M581.8,397.1a1.65,1.65 0 1,0 -3.3,0a1.65,1.65 0 1,0 3.3,0M582.5,386.1a1.65,1.65 0 1,0 -3.3,0a1.65,1.65 0 1,0 3.3,0M583.4,385.1a1.65,1.65 0 1,0 -3.3,0a1.65,1.65 0 1,0 3.3,0M584.8,393.0a1.65,1.65 0 1,0 -3.3,0a1.65,1.65 0 1,0 3.3,0M585.0,391.5a1.65,1.65 0 1,0 -3.3,0a1.65,1.65 0 1,0 3.3,0M586.3,389.1a1.65,1.65 0 1,0 -3.3,0a1.65,1.65 0 1,0 3.3,0M587.1,385.3a1.65,1.65 0 1,0 -3.3,0a1.65,1.65 0 1,0 3.3,0M587.7,388.0a1.65,1.65 0 1,0 -3.3,0a1.65,1.65 0 1,0 3.3,0M588.6,397.5a1.65,1.65 0 1,0 -3.3,0a1.65,1.65 0 1,0 3.3,0M589.3,387.3a1.65,1.65 0 1,0 -3.3,0a1.65,1.65 0 1,0 3.3,0M590.2,389.7a1.65,1.65 0 1,0 -3.3,0a1.65,1.65 0 1,0 3.3,0M590.7,383.7a1.65,1.65 0 1,0 -3.3,0a1.65,1.65 0 1,0 3.3,0M591.4,385.7a1.65,1.65 0 1,0 -3.3,0a1.65,1.65 0 1,0 3.3,0M592.1,386.2a1.65,1.65 0 1,0 -3.3,0a1.65,1.65 0 1,0 3.3,0M593.6,387.9a1.65,1.65 0 1,0 -3.3,0a1.65,1.65 0 1,0 3.3,0M594.3,386.8a1.65,1.65 0 1,0 -3.3,0a1.65,1.65 0 1,0 3.3,0M594.6,395.4a1.65,1.65 0 1,0 -3.3,0a1.65,1.65 0 1,0 3.3,0M595.7,388.3a1.65,1.65 0 1,0 -3.3,0a1.65,1.65 0 1,0 3.3,0M596.5,388.2a1.65,1.65 0 1,0 -3.3,0a1.65,1.65 0 1,0 3.3,0M597.2,388.1a1.65,1.65 0 1,0 -3.3,0a1.65,1.65 0 1,0 3.3,0M598.3,384.9a1.65,1.65 0 1,0 -3.3,0a1.65,1.65 0 1,0 3.3,0M598.7,390.1a1.65,1.65 0 1,0 -3.3,0a1.65,1.65 0 1,0 3.3,0M599.3,395.9a1.65,1.65 0 1,0 -3.3,0a1.65,1.65 0 1,0 3.3,0M600.7,393.6a1.65,1.65 0 1,0 -3.3,0a1.65,1.65 0 1,0 3.3,0M601.1,395.8a1.65,1.65 0 1,0 -3.3,0a1.65,1.65 0 1,0 3.3,0M602.3,396.0a1.65,1.65 0 1,0 -3.3,0a1.65,1.65 0 1,0 3.3,0M602.5,381.7a1.65,1.65 0 1,0 -3.3,0a1.65,1.65 0 1,0 3.3,0M603.4,393.3a1.65,1.65 0 1,0 -3.3,0a1.65,1.65 0 1,0 3.3,0M604.3,384.5a1.65,1.65 0 1,0 -3.3,0a1.65,1.65 0 1,0 3.3,0M605.1,391.5a1.65,1.65 0 1,0 -3.3,0a1.65,1.65 0 1,0 3.3,0M605.7,390.3a1.65,1.65 0 1,0 -3.3,0a1.65,1.65 0 1,0 3.3,0M606.8,392.2a1.65,1.65 0 1,0 -3.3,0a1.65,1.65 0 1,0 3.3,0M607.9,392.0a1.65,1.65 0 1,0 -3.3,0a1.65,1.65 0 1,0 3.3,0M608.4,387.9a1.65,1.65 0 1,0 -3.3,0a1.65,1.65 0 1,0 3.3,0M609.2,393.3a1.65,1.65 0 1,0 -3.3,0a1.65,1.65 0 1,0 3.3,0M609.9,389.6a1.65,1.65 0 1,0 -3.3,0a1.65,1.65 0 1,0 3.3,0M611.1,397.3a1.65,1.65 0 1,0 -3.3,0a1.65,1.65 0 1,0 3.3,0M611.8,388.2a1.65,1.65 0 1,0 -3.3,0a1.65,1.65 0 1,0 3.3,0M612.5,395.3a1.65,1.65 0 1,0 -3.3,0a1.65,1.65 0 1,0 3.3,0M613.0,403.3a1.65,1.65 0 1,0 -3.3,0a1.65,1.65 0 1,0 3.3,0M613.7,403.3a1.65,1.65 0 1,0 -3.3,0a1.65,1.65 0 1,0 3.3,0M614.6,403.0a1.65,1.65 0 1,0 -3.3,0a1.65,1.65 0 1,0 3.3,0M616.0,393.8a1.65,1.65 0 1,0 -3.3,0a1.65,1.65 0 1,0 3.3,0M616.8,402.8a1.65,1.65 0 1,0 -3.3,0a1.65,1.65 0 1,0 3.3,0M617.0,389.3a1.65,1.65 0 1,0 -3.3,0a1.65,1.65 0 1,0 3.3,0M617.8,388.5a1.65,1.65 0 1,0 -3.3,0a1.65,1.65 0 1,0 3.3,0M618.9,385.5a1.65,1.65 0 1,0 -3.3,0a1.65,1.65 0 1,0 3.3,0M619.3,397.2a1.65,1.65 0 1,0 -3.3,0a1.65,1.65 0 1,0 3.3,0M620.8,396.9a1.65,1.65 0 1,0 -3.3,0a1.65,1.65 0 1,0 3.3,0M621.1,396.7a1.65,1.65 0 1,0 -3.3,0a1.65,1.65 0 1,0 3.3,0M622.1,381.7a1.65,1.65 0 1,0 -3.3,0a1.65,1.65 0 1,0 3.3,0M622.6,393.6a1.65,1.65 0 1,0 -3.3,0a1.65,1.65 0 1,0 3.3,0M623.9,387.1a1.65,1.65 0 1,0 -3.3,0a1.65,1.65 0 1,0 3.3,0M624.4,397.8a1.65,1.65 0 1,0 -3.3,0a1.65,1.65 0 1,0 3.3,0M625.2,391.8a1.65,1.65 0 1,0 -3.3,0a1.65,1.65 0 1,0 3.3,0M626.1,385.3a1.65,1.65 0 1,0 -3.3,0a1.65,1.65 0 1,0 3.3,0M626.8,383.6a1.65,1.65 0 1,0 -3.3,0a1.65,1.65 0 1,0 3.3,0M627.7,393.8a1.65,1.65 0 1,0 -3.3,0a1.65,1.65 0 1,0 3.3,0M628.3,383.2a1.65,1.65 0 1,0 -3.3,0a1.65,1.65 0 1,0 3.3,0M629.4,384.4a1.65,1.65 0 1,0 -3.3,0a1.65,1.65 0 1,0 3.3,0M630.1,391.0a1.65,1.65 0 1,0 -3.3,0a1.65,1.65 0 1,0 3.3,0M630.8,387.4a1.65,1.65 0 1,0 -3.3,0a1.65,1.65 0 1,0 3.3,0M632.0,389.8a1.65,1.65 0 1,0 -3.3,0a1.65,1.65 0 1,0 3.3,0M632.4,388.1a1.65,1.65 0 1,0 -3.3,0a1.65,1.65 0 1,0 3.3,0M633.0,387.6a1.65,1.65 0 1,0 -3.3,0a1.65,1.65 0 1,0 3.3,0M633.9,386.4a1.65,1.65 0 1,0 -3.3,0a1.65,1.65 0 1,0 3.3,0M634.7,388.1a1.65,1.65 0 1,0 -3.3,0a1.65,1.65 0 1,0 3.3,0M635.7,382.7a1.65,1.65 0 1,0 -3.3,0a1.65,1.65 0 1,0 3.3,0M636.6,403.2a1.65,1.65 0 1,0 -3.3,0a1.65,1.65 0 1,0 3.3,0M637.6,384.3a1.65,1.65 0 1,0 -3.3,0a1.65,1.65 0 1,0 3.3,0M638.0,395.4a1.65,1.65 0 1,0 -3.3,0a1.65,1.65 0 1,0 3.3,0M638.6,392.0a1.65,1.65 0 1,0 -3.3,0a1.65,1.65 0 1,0 3.3,0M639.8,389.4a1.65,1.65 0 1,0 -3.3,0a1.65,1.65 0 1,0 3.3,0M640.8,397.0a1.65,1.65 0 1,0 -3.3,0a1.65,1.65 0 1,0 3.3,0M641.2,387.4a1.65,1.65 0 1,0 -3.3,0a1.65,1.65 0 1,0 3.3,0M642.2,385.4a1.65,1.65 0 1,0 -3.3,0a1.65,1.65 0 1,0 3.3,0M642.9,389.8a1.65,1.65 0 1,0 -3.3,0a1.65,1.65 0 1,0 3.3,0M643.8,393.3a1.65,1.65 0 1,0 -3.3,0a1.65,1.65 0 1,0 3.3,0M644.3,381.9a1.65,1.65 0 1,0 -3.3,0a1.65,1.65 0 1,0 3.3,0M645.6,387.9a1.65,1.65 0 1,0 -3.3,0a1.65,1.65 0 1,0 3.3,0M646.4,384.0a1.65,1.65 0 1,0 -3.3,0a1.65,1.65 0 1,0 3.3,0M647.1,386.7a1.65,1.65 0 1,0 -3.3,0a1.65,1.65 0 1,0 3.3,0M647.5,382.4a1.65,1.65 0 1,0 -3.3,0a1.65,1.65 0 1,0 3.3,0M648.1,403.7a1.65,1.65 0 1,0 -3.3,0a1.65,1.65 0 1,0 3.3,0M649.1,383.5a1.65,1.65 0 1,0 -3.3,0a1.65,1.65 0 1,0 3.3,0M650.3,389.6a1.65,1.65 0 1,0 -3.3,0a1.65,1.65 0 1,0 3.3,0M650.9,383.9a1.65,1.65 0 1,0 -3.3,0a1.65,1.65 0 1,0 3.3,0M651.4,396.5a1.65,1.65 0 1,0 -3.3,0a1.65,1.65 0 1,0 3.3,0M652.8,387.6a1.65,1.65 0 1,0 -3.3,0a1.65,1.65 0 1,0 3.3,0M653.0,394.1a1.65,1.65 0 1,0 -3.3,0a1.65,1.65 0 1,0 3.3,0M654.1,385.8a1.65,1.65 0 1,0 -3.3,0a1.65,1.65 0 1,0 3.3,0M654.9,383.3a1.65,1.65 0 1,0 -3.3,0a1.65,1.65 0 1,0 3.3,0M655.7,395.3a1.65,1.65 0 1,0 -3.3,0a1.65,1.65 0 1,0 3.3,0M656.7,388.7a1.65,1.65 0 1,0 -3.3,0a1.65,1.65 0 1,0 3.3,0M656.9,387.4a1.65,1.65 0 1,0 -3.3,0a1.65,1.65 0 1,0 3.3,0M658.0,403.5a1.65,1.65 0 1,0 -3.3,0a1.65,1.65 0 1,0 3.3,0M658.9,396.3a1.65,1.65 0 1,0 -3.3,0a1.65,1.65 0 1,0 3.3,0M659.7,395.5a1.65,1.65 0 1,0 -3.3,0a1.65,1.65 0 1,0 3.3,0M660.3,381.9a1.65,1.65 0 1,0 -3.3,0a1.65,1.65 0 1,0 3.3,0M661.5,391.8a1.65,1.65 0 1,0 -3.3,0a1.65,1.65 0 1,0 3.3,0M662.4,388.2a1.65,1.65 0 1,0 -3.3,0a1.65,1.65 0 1,0 3.3,0M663.1,390.1a1.65,1.65 0 1,0 -3.3,0a1.65,1.65 0 1,0 3.3,0M663.9,395.8a1.65,1.65 0 1,0 -3.3,0a1.65,1.65 0 1,0 3.3,0M664.6,386.2a1.65,1.65 0 1,0 -3.3,0a1.65,1.65 0 1,0 3.3,0M664.9,382.2a1.65,1.65 0 1,0 -3.3,0a1.65,1.65 0 1,0 3.3,0M666.4,391.4a1.65,1.65 0 1,0 -3.3,0a1.65,1.65 0 1,0 3.3,0M666.6,390.3a1.65,1.65 0 1,0 -3.3,0a1.65,1.65 0 1,0 3.3,0M667.4,395.7a1.65,1.65 0 1,0 -3.3,0a1.65,1.65 0 1,0 3.3,0M668.8,388.1a1.65,1.65 0 1,0 -3.3,0a1.65,1.65 0 1,0 3.3,0M669.4,390.9a1.65,1.65 0 1,0 -3.3,0a1.65,1.65 0 1,0 3.3,0M670.2,395.1a1.65,1.65 0 1,0 -3.3,0a1.65,1.65 0 1,0 3.3,0M671.1,394.0a1.65,1.65 0 1,0 -3.3,0a1.65,1.65 0 1,0 3.3,0M671.6,381.8a1.65,1.65 0 1,0 -3.3,0a1.65,1.65 0 1,0 3.3,0M672.5,383.1a1.65,1.65 0 1,0 -3.3,0a1.65,1.65 0 1,0 3.3,0M673.2,386.9a1.65,1.65 0 1,0 -3.3,0a1.65,1.65 0 1,0 3.3,0M674.1,390.2a1.65,1.65 0 1,0 -3.3,0a1.65,1.65 0 1,0 3.3,0M675.2,386.4a1.65,1.65 0 1,0 -3.3,0a1.65,1.65 0 1,0 3.3,0M675.9,397.0a1.65,1.65 0 1,0 -3.3,0a1.65,1.65 0 1,0 3.3,0M676.1,396.9a1.65,1.65 0 1,0 -3.3,0a1.65,1.65 0 1,0 3.3,0M677.4,384.9a1.65,1.65 0 1,0 -3.3,0a1.65,1.65 0 1,0 3.3,0" fill="none" stroke="#d04a44" stroke-width="0.6"/>
<path d="M526.3,334.0a1.65,1.65 0 1,0 -3.3,0a1.65,1.65 0 1,0 3.3,0M527.9,348.1a1.65,1.65 0 1,0 -3.3,0a1.65,1.65 0 1,0 3.3,0M528.8,358.7a1.65,1.65 0 1,0 -3.3,0a1.65,1.65 0 1,0 3.3,0M530.3,366.3a1.65,1.65 0 1,0 -3.3,0a1.65,1.65 0 1,0 3.3,0M531.5,376.2a1.65,1.65 0 1,0 -3.3,0a1.65,1.65 0 1,0 3.3,0M532.5,381.9a1.65,1.65 0 1,0 -3.3,0a1.65,1.65 0 1,0 3.3,0M534.0,388.2a1.65,1.65 0 1,0 -3.3,0a1.65,1.65 0 1,0 3.3,0M534.7,388.9a1.65,1.65 0 1,0 -3.3,0a1.65,1.65 0 1,0 3.3,0" fill="none" stroke="#8c8c8c" stroke-width="0.6"/>
<path d="M527.4,344.5a1.65,1.65 0 1,0 -3.3,0a1.65,1.65 0 1,0 3.3,0M528.8,354.1a1.65,1.65 0 1,0 -3.3,0a1.65,1.65 0 1,0 3.3,0M529.1,357.2a1.65,1.65 0 1,0 -3.3,0a1.65,1.65 0 1,0 3.3,0M530.6,364.4a1.65,1.65 0 1,0 -3.3,0a1.65,1.65 0 1,0 3.3,0M532.7,371.1a1.65,1.65 0 1,0 -3.3,0a1.65,1.65 0 1,0 3.3,0M533.3,376.1a1.65,1.65 0 1,0 -3.3,0a1.65,1.65 0 1,0 3.3,0M535.0,378.6a1.65,1.65 0 1,0 -3.3,0a1.65,1.65 0 1,0 3.3,0M536.8,379.3a1.65,1.65 0 1,0 -3.3,0a1.65,1.65 0 1,0 3.3,0M537.9,385.1a1.65,1.65 0 1,0 -3.3,0a1.65,1.65 0 1,0 3.3,0M539.0,384.9a1.65,1.65 0 1,0 -3.3,0a1.65,1.65 0 1,0 3.3,0M540.0,386.6a1.65,1.65 0 1,0 -3.3,0a1.65,1.65 0 1,0 3.3,0M541.7,390.4a1.65,1.65 0 1,0 -3.3,0a1.65,1.65 0 1,0 3.3,0M543.5,389.2a1.65,1.65 0 1,0 -3.3,0a1.65,1.65 0 1,0 3.3,0M544.4,385.1a1.65,1.65 0 1,0 -3.3,0a1.65,1.65 0 1,0 3.3,0M545.9,389.1a1.65,1.65 0 1,0 -3.3,0a1.65,1.65 0 1,0 3.3,0M547.6,390.3a1.65,1.65 0 1,0 -3.3,0a1.65,1.65 0 1,0 3.3,0" fill="none" stroke="#d04a44" stroke-width="0.6"/>
<path d="M524.30,330.80 C524.58,333.67 525.42,342.50 526.00,348.00 C526.58,353.50 527.02,358.25 527.80,363.80 C528.58,369.35 529.73,377.08 530.70,381.30 C531.67,385.52 532.15,387.32 533.60,389.10 C535.05,390.88 535.20,391.35 539.40,392.00 C543.60,392.65 536.03,392.83 558.80,393.00 C581.57,393.17 656.47,393.00 676.00,393.00" fill="none" stroke="#5e5e5e" stroke-width="1.1" stroke-linejoin="round" stroke-linecap="round"/>
<path d="M524.30,328.90 C524.55,331.48 525.22,339.55 525.80,344.40 C526.38,349.25 526.98,353.78 527.80,358.00 C528.62,362.22 529.57,366.13 530.70,369.70 C531.83,373.27 533.15,376.50 534.60,379.40 C536.05,382.30 536.98,384.83 539.40,387.10 C541.82,389.37 545.87,391.63 549.10,393.00 C552.33,394.37 553.93,394.78 558.80,395.30 C563.67,395.82 558.77,395.97 578.30,396.10 C597.83,396.23 659.72,396.10 676.00,396.10" fill="none" stroke="#c8281e" stroke-width="1.3" stroke-linejoin="round" stroke-linecap="round"/>
</g>
<line x1="523.70" y1="243.50" x2="676.30" y2="243.50" stroke="#5a5a5a" stroke-width="0.8"/>
<line x1="676.30" y1="243.50" x2="676.30" y2="321.30" stroke="#5a5a5a" stroke-width="0.8"/>
<line x1="523.70" y1="243.50" x2="523.70" y2="321.90" stroke="#9a9a9a" stroke-width="1.25"/>
<line x1="523.10" y1="321.30" x2="676.30" y2="321.30" stroke="#9a9a9a" stroke-width="1.25"/>
<line x1="523.70" y1="327.50" x2="676.30" y2="327.50" stroke="#5a5a5a" stroke-width="0.8"/>
<line x1="676.30" y1="327.50" x2="676.30" y2="405.60" stroke="#5a5a5a" stroke-width="0.8"/>
<line x1="523.70" y1="327.50" x2="523.70" y2="406.20" stroke="#9a9a9a" stroke-width="1.25"/>
<line x1="523.10" y1="405.60" x2="676.30" y2="405.60" stroke="#9a9a9a" stroke-width="1.25"/>
<line x1="523.70" y1="243.00" x2="523.70" y2="246.50" stroke="#333" stroke-width="0.7"/>
<text x="523.70" y="238.30" font-size="8.3" text-anchor="middle" fill="#111">0</text>
<line x1="563.94" y1="243.00" x2="563.94" y2="246.50" stroke="#333" stroke-width="0.7"/>
<text x="563.94" y="238.30" font-size="8.3" text-anchor="middle" fill="#111">50</text>
<line x1="604.17" y1="243.00" x2="604.17" y2="246.50" stroke="#333" stroke-width="0.7"/>
<text x="604.17" y="238.30" font-size="8.3" text-anchor="middle" fill="#111">100</text>
<line x1="644.41" y1="243.00" x2="644.41" y2="246.50" stroke="#333" stroke-width="0.7"/>
<text x="644.41" y="238.30" font-size="8.3" text-anchor="middle" fill="#111">150</text>
<line x1="543.82" y1="243.50" x2="543.82" y2="245.30" stroke="#333" stroke-width="0.6"/>
<line x1="584.05" y1="243.50" x2="584.05" y2="245.30" stroke="#333" stroke-width="0.6"/>
<line x1="624.29" y1="243.50" x2="624.29" y2="245.30" stroke="#333" stroke-width="0.6"/>
<line x1="664.52" y1="243.50" x2="664.52" y2="245.30" stroke="#333" stroke-width="0.6"/>
<text x="600.20" y="225.40" font-size="10.1" text-anchor="middle" fill="#111">Time Decay (μs)</text>
<line x1="520.70" y1="243.50" x2="525.70" y2="243.50" stroke="#333" stroke-width="0.7"/>
<text x="519.50" y="246.40" font-size="8.3" text-anchor="end">10<tspan dy="-3.3" font-size="5.6">0</tspan></text>
<line x1="520.70" y1="272.50" x2="525.70" y2="272.50" stroke="#333" stroke-width="0.7"/>
<text x="519.50" y="275.40" font-size="8.3" text-anchor="end">10<tspan dy="-3.3" font-size="5.6">-1</tspan></text>
<line x1="520.70" y1="301.50" x2="525.70" y2="301.50" stroke="#333" stroke-width="0.7"/>
<text x="519.50" y="304.40" font-size="8.3" text-anchor="end">10<tspan dy="-3.3" font-size="5.6">-2</tspan></text>
<line x1="522.40" y1="263.77" x2="525.00" y2="263.77" stroke="#333" stroke-width="0.45"/>
<line x1="522.40" y1="258.66" x2="525.00" y2="258.66" stroke="#333" stroke-width="0.45"/>
<line x1="522.40" y1="255.04" x2="525.00" y2="255.04" stroke="#333" stroke-width="0.45"/>
<line x1="522.40" y1="252.23" x2="525.00" y2="252.23" stroke="#333" stroke-width="0.45"/>
<line x1="522.40" y1="249.93" x2="525.00" y2="249.93" stroke="#333" stroke-width="0.45"/>
<line x1="522.40" y1="247.99" x2="525.00" y2="247.99" stroke="#333" stroke-width="0.45"/>
<line x1="522.40" y1="246.31" x2="525.00" y2="246.31" stroke="#333" stroke-width="0.45"/>
<line x1="522.40" y1="244.83" x2="525.00" y2="244.83" stroke="#333" stroke-width="0.45"/>
<line x1="522.40" y1="292.77" x2="525.00" y2="292.77" stroke="#333" stroke-width="0.45"/>
<line x1="522.40" y1="287.66" x2="525.00" y2="287.66" stroke="#333" stroke-width="0.45"/>
<line x1="522.40" y1="284.04" x2="525.00" y2="284.04" stroke="#333" stroke-width="0.45"/>
<line x1="522.40" y1="281.23" x2="525.00" y2="281.23" stroke="#333" stroke-width="0.45"/>
<line x1="522.40" y1="278.93" x2="525.00" y2="278.93" stroke="#333" stroke-width="0.45"/>
<line x1="522.40" y1="276.99" x2="525.00" y2="276.99" stroke="#333" stroke-width="0.45"/>
<line x1="522.40" y1="275.31" x2="525.00" y2="275.31" stroke="#333" stroke-width="0.45"/>
<line x1="522.40" y1="273.83" x2="525.00" y2="273.83" stroke="#333" stroke-width="0.45"/>
<line x1="522.40" y1="316.66" x2="525.00" y2="316.66" stroke="#333" stroke-width="0.45"/>
<line x1="522.40" y1="313.04" x2="525.00" y2="313.04" stroke="#333" stroke-width="0.45"/>
<line x1="522.40" y1="310.23" x2="525.00" y2="310.23" stroke="#333" stroke-width="0.45"/>
<line x1="522.40" y1="307.93" x2="525.00" y2="307.93" stroke="#333" stroke-width="0.45"/>
<line x1="522.40" y1="305.99" x2="525.00" y2="305.99" stroke="#333" stroke-width="0.45"/>
<line x1="522.40" y1="304.31" x2="525.00" y2="304.31" stroke="#333" stroke-width="0.45"/>
<line x1="522.40" y1="302.83" x2="525.00" y2="302.83" stroke="#333" stroke-width="0.45"/>
<line x1="520.70" y1="328.20" x2="525.70" y2="328.20" stroke="#333" stroke-width="0.7"/>
<text x="519.50" y="331.10" font-size="8.3" text-anchor="end">10<tspan dy="-3.3" font-size="5.6">0</tspan></text>
<line x1="520.70" y1="348.90" x2="525.70" y2="348.90" stroke="#333" stroke-width="0.7"/>
<text x="519.50" y="351.80" font-size="8.3" text-anchor="end">10<tspan dy="-3.3" font-size="5.6">-1</tspan></text>
<line x1="520.70" y1="369.60" x2="525.70" y2="369.60" stroke="#333" stroke-width="0.7"/>
<text x="519.50" y="372.50" font-size="8.3" text-anchor="end">10<tspan dy="-3.3" font-size="5.6">-2</tspan></text>
<line x1="520.70" y1="390.30" x2="525.70" y2="390.30" stroke="#333" stroke-width="0.7"/>
<text x="519.50" y="393.20" font-size="8.3" text-anchor="end">10<tspan dy="-3.3" font-size="5.6">-3</tspan></text>
<line x1="522.40" y1="342.67" x2="525.00" y2="342.67" stroke="#333" stroke-width="0.45"/>
<line x1="522.40" y1="339.02" x2="525.00" y2="339.02" stroke="#333" stroke-width="0.45"/>
<line x1="522.40" y1="336.44" x2="525.00" y2="336.44" stroke="#333" stroke-width="0.45"/>
<line x1="522.40" y1="334.43" x2="525.00" y2="334.43" stroke="#333" stroke-width="0.45"/>
<line x1="522.40" y1="332.79" x2="525.00" y2="332.79" stroke="#333" stroke-width="0.45"/>
<line x1="522.40" y1="331.41" x2="525.00" y2="331.41" stroke="#333" stroke-width="0.45"/>
<line x1="522.40" y1="330.21" x2="525.00" y2="330.21" stroke="#333" stroke-width="0.45"/>
<line x1="522.40" y1="329.15" x2="525.00" y2="329.15" stroke="#333" stroke-width="0.45"/>
<line x1="522.40" y1="363.37" x2="525.00" y2="363.37" stroke="#333" stroke-width="0.45"/>
<line x1="522.40" y1="359.72" x2="525.00" y2="359.72" stroke="#333" stroke-width="0.45"/>
<line x1="522.40" y1="357.14" x2="525.00" y2="357.14" stroke="#333" stroke-width="0.45"/>
<line x1="522.40" y1="355.13" x2="525.00" y2="355.13" stroke="#333" stroke-width="0.45"/>
<line x1="522.40" y1="353.49" x2="525.00" y2="353.49" stroke="#333" stroke-width="0.45"/>
<line x1="522.40" y1="352.11" x2="525.00" y2="352.11" stroke="#333" stroke-width="0.45"/>
<line x1="522.40" y1="350.91" x2="525.00" y2="350.91" stroke="#333" stroke-width="0.45"/>
<line x1="522.40" y1="349.85" x2="525.00" y2="349.85" stroke="#333" stroke-width="0.45"/>
<line x1="522.40" y1="384.07" x2="525.00" y2="384.07" stroke="#333" stroke-width="0.45"/>
<line x1="522.40" y1="380.42" x2="525.00" y2="380.42" stroke="#333" stroke-width="0.45"/>
<line x1="522.40" y1="377.84" x2="525.00" y2="377.84" stroke="#333" stroke-width="0.45"/>
<line x1="522.40" y1="375.83" x2="525.00" y2="375.83" stroke="#333" stroke-width="0.45"/>
<line x1="522.40" y1="374.19" x2="525.00" y2="374.19" stroke="#333" stroke-width="0.45"/>
<line x1="522.40" y1="372.81" x2="525.00" y2="372.81" stroke="#333" stroke-width="0.45"/>
<line x1="522.40" y1="371.61" x2="525.00" y2="371.61" stroke="#333" stroke-width="0.45"/>
<line x1="522.40" y1="370.55" x2="525.00" y2="370.55" stroke="#333" stroke-width="0.45"/>
<line x1="522.40" y1="404.77" x2="525.00" y2="404.77" stroke="#333" stroke-width="0.45"/>
<line x1="522.40" y1="401.12" x2="525.00" y2="401.12" stroke="#333" stroke-width="0.45"/>
<line x1="522.40" y1="398.54" x2="525.00" y2="398.54" stroke="#333" stroke-width="0.45"/>
<line x1="522.40" y1="396.53" x2="525.00" y2="396.53" stroke="#333" stroke-width="0.45"/>
<line x1="522.40" y1="394.89" x2="525.00" y2="394.89" stroke="#333" stroke-width="0.45"/>
<line x1="522.40" y1="393.51" x2="525.00" y2="393.51" stroke="#333" stroke-width="0.45"/>
<line x1="522.40" y1="392.31" x2="525.00" y2="392.31" stroke="#333" stroke-width="0.45"/>
<line x1="522.40" y1="391.25" x2="525.00" y2="391.25" stroke="#333" stroke-width="0.45"/>
<line x1="523.70" y1="403.10" x2="523.70" y2="408.10" stroke="#333" stroke-width="0.7"/>
<text x="523.70" y="417.30" font-size="8.3" text-anchor="middle" fill="#111">0</text>
<line x1="561.85" y1="403.10" x2="561.85" y2="408.10" stroke="#333" stroke-width="0.7"/>
<text x="561.85" y="417.30" font-size="8.3" text-anchor="middle" fill="#111">20</text>
<line x1="600.00" y1="403.10" x2="600.00" y2="408.10" stroke="#333" stroke-width="0.7"/>
<text x="600.00" y="417.30" font-size="8.3" text-anchor="middle" fill="#111">40</text>
<line x1="638.15" y1="403.10" x2="638.15" y2="408.10" stroke="#333" stroke-width="0.7"/>
<text x="638.15" y="417.30" font-size="8.3" text-anchor="middle" fill="#111">60</text>
<line x1="676.30" y1="403.10" x2="676.30" y2="408.10" stroke="#333" stroke-width="0.7"/>
<text x="676.30" y="417.30" font-size="8.3" text-anchor="middle" fill="#111">80</text>
<line x1="542.78" y1="404.10" x2="542.78" y2="407.10" stroke="#333" stroke-width="0.6"/>
<line x1="580.93" y1="404.10" x2="580.93" y2="407.10" stroke="#333" stroke-width="0.6"/>
<line x1="619.08" y1="404.10" x2="619.08" y2="407.10" stroke="#333" stroke-width="0.6"/>
<line x1="657.23" y1="404.10" x2="657.23" y2="407.10" stroke="#333" stroke-width="0.6"/>
<text x="600.00" y="435.10" font-size="10.1" text-anchor="middle" fill="#111">Time Decay (ns)</text>
<text x="499.20" y="318.00" font-size="11.5" text-anchor="middle" fill="#111" transform="rotate(-90 499.20 318.00)">Log Int. (a. u.)</text>
<circle cx="631.00" cy="263.10" r="1.65" fill="none" stroke="#f0cc80" stroke-width="0.6"/>
<text x="641.80" y="265.85" font-size="7.9" fill="#111">BT-SiNC</text>
<circle cx="631.00" cy="272.90" r="1.65" fill="none" stroke="#f09a90" stroke-width="0.6"/>
<text x="641.80" y="275.65" font-size="7.9" fill="#111">1T-SiNC</text>
<circle cx="631.00" cy="282.70" r="1.65" fill="none" stroke="#a0a0a0" stroke-width="0.6"/>
<text x="641.80" y="285.45" font-size="7.9" fill="#111">C8-SiNC</text>
<circle cx="634.20" cy="334.20" r="1.65" fill="none" stroke="#d04a44" stroke-width="0.6"/>
<text x="642.20" y="336.95" font-size="7.9" fill="#111">2T-SiNC</text>
<circle cx="634.20" cy="343.80" r="1.65" fill="none" stroke="#8c8c8c" stroke-width="0.6"/>
<text x="642.20" y="346.55" font-size="7.9" fill="#111">2T</text>
</svg></body></html>
